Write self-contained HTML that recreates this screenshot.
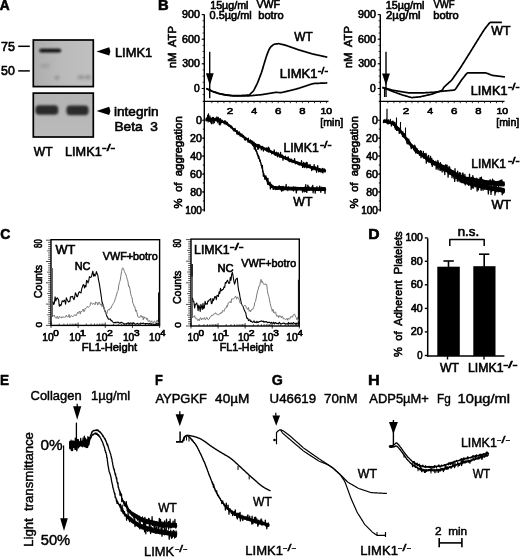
<!DOCTYPE html>
<html><head><meta charset="utf-8"><style>
html,body{margin:0;padding:0;background:#fff;}
svg{display:block;will-change:transform;filter:blur(0.3px);}
text{font-family:"Liberation Sans", sans-serif;stroke:#000;paint-order:stroke;}
</style></head><body>
<svg width="520" height="558" viewBox="0 0 520 558" font-family='"Liberation Sans", sans-serif'>
<rect width="520" height="558" fill="#fff"/>
<text x="-0.34" y="9.60" font-size="14" font-weight="bold" textLength="9.90" lengthAdjust="spacingAndGlyphs" fill="#000" stroke-width="0.6" xml:space="preserve">A</text>
<defs><filter id="bl" x="-20%" y="-80%" width="140%" height="260%"><feGaussianBlur stdDeviation="1.0"/></filter><filter id="bl2" x="-80%" y="-80%" width="260%" height="260%"><feGaussianBlur stdDeviation="1.8"/></filter><linearGradient id="g1" x1="0" y1="0" x2="1" y2="0"><stop offset="0" stop-color="#adadad"/><stop offset="0.45" stop-color="#bababa"/><stop offset="1" stop-color="#c0c0c0"/></linearGradient><linearGradient id="g2" x1="0" y1="0" x2="0" y2="1"><stop offset="0" stop-color="#b3b3b3"/><stop offset="1" stop-color="#bbbbbb"/></linearGradient></defs>
<rect x="33.3" y="40.0" width="60.0" height="46.6" fill="url(#g1)" stroke="#000" stroke-width="1.7"/>
<rect x="33.3" y="93.1" width="60.0" height="43.9" fill="url(#g2)" stroke="#000" stroke-width="1.7"/>
<g filter="url(#bl)"><rect x="39.3" y="48.7" width="21.9" height="3.8" rx="1.9" fill="#111"/></g>
<g filter="url(#bl2)" opacity="0.45"><ellipse cx="57" cy="77.8" rx="2.5" ry="2" fill="#606060"/><ellipse cx="81" cy="77.3" rx="3.5" ry="2" fill="#606060"/><ellipse cx="88" cy="77.3" rx="3" ry="2.2" fill="#606060"/><ellipse cx="45" cy="65.7" rx="5" ry="2" fill="#8a8a8a"/></g>
<g filter="url(#bl)"><rect x="35.4" y="105.3" width="22.9" height="9.4" rx="3.8" fill="#2c2c2c"/><rect x="66.4" y="105.6" width="22.2" height="9.6" rx="3.8" fill="#2c2c2c"/></g>
<text x="0.96" y="51.00" font-size="12.5" textLength="13.86" lengthAdjust="spacingAndGlyphs" fill="#000" stroke-width="0.6" xml:space="preserve">75</text>
<line x1="18.20" y1="46.30" x2="29.80" y2="46.30" stroke="#000" stroke-width="1.5"/>
<text x="1.11" y="75.30" font-size="12.5" textLength="13.67" lengthAdjust="spacingAndGlyphs" fill="#000" stroke-width="0.6" xml:space="preserve">50</text>
<line x1="18.20" y1="70.90" x2="29.80" y2="70.90" stroke="#000" stroke-width="1.5"/>
<polygon points="96.50,51.40 109.20,47.30 110.40,51.40 109.20,55.50" fill="#000"/>
<polygon points="96.50,110.90 109.20,106.80 110.40,110.90 109.20,115.00" fill="#000"/>
<text x="114.94" y="56.90" font-size="13" textLength="37.29" lengthAdjust="spacingAndGlyphs" fill="#000" stroke-width="0.6" xml:space="preserve">LIMK1</text>
<text x="113.99" y="116.10" font-size="13" textLength="44.59" lengthAdjust="spacingAndGlyphs" fill="#000" stroke-width="0.6" xml:space="preserve">integrin</text>
<text x="114.48" y="131.00" font-size="13" textLength="43.43" lengthAdjust="spacingAndGlyphs" fill="#000" stroke-width="0.6" xml:space="preserve">Beta  3</text>
<text x="33.85" y="156.00" font-size="13" textLength="18.73" lengthAdjust="spacingAndGlyphs" fill="#000" stroke-width="0.6" xml:space="preserve">WT</text>
<text x="65.06" y="156.20" font-size="13" textLength="36.66" lengthAdjust="spacingAndGlyphs" fill="#000" stroke-width="0.6" xml:space="preserve">LIMK1</text>
<text x="101.98" y="151.30" font-size="9" textLength="13.25" lengthAdjust="spacingAndGlyphs" fill="#000" stroke-width="0.6" xml:space="preserve">-/-</text>
<text x="157.91" y="9.80" font-size="14" font-weight="bold" textLength="10.66" lengthAdjust="spacingAndGlyphs" fill="#000" stroke-width="0.6" xml:space="preserve">B</text>
<line x1="204.30" y1="14.40" x2="204.30" y2="211.50" stroke="#000" stroke-width="1.4"/>
<line x1="202.30" y1="14.60" x2="204.30" y2="14.60" stroke="#000" stroke-width="1"/>
<line x1="201.70" y1="14.60" x2="204.30" y2="14.60" stroke="#000" stroke-width="1"/>
<text x="182.10" y="18.20" font-size="10.3" textLength="17.71" lengthAdjust="spacingAndGlyphs" fill="#000" stroke-width="0.6" xml:space="preserve">900</text>
<line x1="201.70" y1="39.20" x2="204.30" y2="39.20" stroke="#000" stroke-width="1"/>
<text x="182.06" y="42.80" font-size="10.3" textLength="17.76" lengthAdjust="spacingAndGlyphs" fill="#000" stroke-width="0.6" xml:space="preserve">600</text>
<line x1="201.70" y1="63.80" x2="204.30" y2="63.80" stroke="#000" stroke-width="1"/>
<text x="182.20" y="67.40" font-size="10.3" textLength="17.61" lengthAdjust="spacingAndGlyphs" fill="#000" stroke-width="0.6" xml:space="preserve">300</text>
<line x1="201.70" y1="88.50" x2="204.30" y2="88.50" stroke="#000" stroke-width="1"/>
<text x="194.10" y="92.10" font-size="10.3" textLength="5.70" lengthAdjust="spacingAndGlyphs" fill="#000" stroke-width="0.6" xml:space="preserve">0</text>
<line x1="202.60" y1="20.75" x2="204.30" y2="20.75" stroke="#000" stroke-width="0.8"/>
<line x1="202.60" y1="26.90" x2="204.30" y2="26.90" stroke="#000" stroke-width="0.8"/>
<line x1="202.60" y1="33.05" x2="204.30" y2="33.05" stroke="#000" stroke-width="0.8"/>
<line x1="202.60" y1="39.20" x2="204.30" y2="39.20" stroke="#000" stroke-width="0.8"/>
<line x1="202.60" y1="45.35" x2="204.30" y2="45.35" stroke="#000" stroke-width="0.8"/>
<line x1="202.60" y1="51.50" x2="204.30" y2="51.50" stroke="#000" stroke-width="0.8"/>
<line x1="202.60" y1="57.65" x2="204.30" y2="57.65" stroke="#000" stroke-width="0.8"/>
<line x1="202.60" y1="63.80" x2="204.30" y2="63.80" stroke="#000" stroke-width="0.8"/>
<line x1="202.60" y1="69.95" x2="204.30" y2="69.95" stroke="#000" stroke-width="0.8"/>
<line x1="202.60" y1="76.10" x2="204.30" y2="76.10" stroke="#000" stroke-width="0.8"/>
<line x1="202.60" y1="82.25" x2="204.30" y2="82.25" stroke="#000" stroke-width="0.8"/>
<line x1="202.60" y1="88.40" x2="204.30" y2="88.40" stroke="#000" stroke-width="0.8"/>
<line x1="202.60" y1="94.55" x2="204.30" y2="94.55" stroke="#000" stroke-width="0.8"/>
<line x1="202.80" y1="101.40" x2="328.50" y2="101.40" stroke="#000" stroke-width="1.3"/>
<line x1="211.84" y1="101.40" x2="211.84" y2="103.20" stroke="#000" stroke-width="0.8"/>
<line x1="217.88" y1="101.40" x2="217.88" y2="103.20" stroke="#000" stroke-width="0.8"/>
<line x1="223.91" y1="101.40" x2="223.91" y2="103.20" stroke="#000" stroke-width="0.8"/>
<line x1="229.95" y1="101.40" x2="229.95" y2="103.20" stroke="#000" stroke-width="0.8"/>
<line x1="235.99" y1="101.40" x2="235.99" y2="103.20" stroke="#000" stroke-width="0.8"/>
<line x1="242.03" y1="101.40" x2="242.03" y2="103.20" stroke="#000" stroke-width="0.8"/>
<line x1="248.06" y1="101.40" x2="248.06" y2="103.20" stroke="#000" stroke-width="0.8"/>
<line x1="254.10" y1="101.40" x2="254.10" y2="103.20" stroke="#000" stroke-width="0.8"/>
<line x1="260.14" y1="101.40" x2="260.14" y2="103.20" stroke="#000" stroke-width="0.8"/>
<line x1="266.18" y1="101.40" x2="266.18" y2="103.20" stroke="#000" stroke-width="0.8"/>
<line x1="272.21" y1="101.40" x2="272.21" y2="103.20" stroke="#000" stroke-width="0.8"/>
<line x1="278.25" y1="101.40" x2="278.25" y2="103.20" stroke="#000" stroke-width="0.8"/>
<line x1="284.29" y1="101.40" x2="284.29" y2="103.20" stroke="#000" stroke-width="0.8"/>
<line x1="290.32" y1="101.40" x2="290.32" y2="103.20" stroke="#000" stroke-width="0.8"/>
<line x1="296.36" y1="101.40" x2="296.36" y2="103.20" stroke="#000" stroke-width="0.8"/>
<line x1="302.40" y1="101.40" x2="302.40" y2="103.20" stroke="#000" stroke-width="0.8"/>
<line x1="308.44" y1="101.40" x2="308.44" y2="103.20" stroke="#000" stroke-width="0.8"/>
<line x1="314.48" y1="101.40" x2="314.48" y2="103.20" stroke="#000" stroke-width="0.8"/>
<line x1="320.51" y1="101.40" x2="320.51" y2="103.20" stroke="#000" stroke-width="0.8"/>
<line x1="326.55" y1="101.40" x2="326.55" y2="103.20" stroke="#000" stroke-width="0.8"/>
<text x="226.71" y="113.90" font-size="9.3" textLength="6.47" lengthAdjust="spacingAndGlyphs" fill="#000" stroke-width="0.6" xml:space="preserve">2</text>
<text x="251.21" y="113.90" font-size="9.3" textLength="5.85" lengthAdjust="spacingAndGlyphs" fill="#000" stroke-width="0.6" xml:space="preserve">4</text>
<text x="275.02" y="113.90" font-size="9.3" textLength="6.39" lengthAdjust="spacingAndGlyphs" fill="#000" stroke-width="0.6" xml:space="preserve">6</text>
<text x="299.26" y="113.90" font-size="9.3" textLength="6.28" lengthAdjust="spacingAndGlyphs" fill="#000" stroke-width="0.6" xml:space="preserve">8</text>
<text x="320.50" y="113.90" font-size="9.3" textLength="11.71" lengthAdjust="spacingAndGlyphs" fill="#000" stroke-width="0.6" xml:space="preserve">10</text>
<line x1="201.70" y1="120.20" x2="204.30" y2="120.20" stroke="#000" stroke-width="1"/>
<text x="195.98" y="124.00" font-size="10.6" textLength="5.93" lengthAdjust="spacingAndGlyphs" fill="#000" stroke-width="0.6" xml:space="preserve">0</text>
<line x1="201.70" y1="138.14" x2="204.30" y2="138.14" stroke="#000" stroke-width="1"/>
<text x="190.06" y="141.94" font-size="10.6" textLength="11.85" lengthAdjust="spacingAndGlyphs" fill="#000" stroke-width="0.6" xml:space="preserve">20</text>
<line x1="201.70" y1="156.08" x2="204.30" y2="156.08" stroke="#000" stroke-width="1"/>
<text x="190.36" y="159.88" font-size="10.6" textLength="11.54" lengthAdjust="spacingAndGlyphs" fill="#000" stroke-width="0.6" xml:space="preserve">40</text>
<line x1="201.70" y1="174.02" x2="204.30" y2="174.02" stroke="#000" stroke-width="1"/>
<text x="190.06" y="177.82" font-size="10.6" textLength="11.86" lengthAdjust="spacingAndGlyphs" fill="#000" stroke-width="0.6" xml:space="preserve">60</text>
<line x1="201.70" y1="191.96" x2="204.30" y2="191.96" stroke="#000" stroke-width="1"/>
<text x="190.14" y="195.76" font-size="10.6" textLength="11.77" lengthAdjust="spacingAndGlyphs" fill="#000" stroke-width="0.6" xml:space="preserve">80</text>
<line x1="201.70" y1="209.90" x2="204.30" y2="209.90" stroke="#000" stroke-width="1"/>
<text x="185.13" y="213.70" font-size="10.6" textLength="16.76" lengthAdjust="spacingAndGlyphs" fill="#000" stroke-width="0.6" xml:space="preserve">100</text>
<line x1="202.80" y1="129.17" x2="204.30" y2="129.17" stroke="#000" stroke-width="0.9"/>
<line x1="202.80" y1="138.14" x2="204.30" y2="138.14" stroke="#000" stroke-width="0.9"/>
<line x1="202.80" y1="147.11" x2="204.30" y2="147.11" stroke="#000" stroke-width="0.9"/>
<line x1="202.80" y1="156.08" x2="204.30" y2="156.08" stroke="#000" stroke-width="0.9"/>
<line x1="202.80" y1="165.05" x2="204.30" y2="165.05" stroke="#000" stroke-width="0.9"/>
<line x1="202.80" y1="174.02" x2="204.30" y2="174.02" stroke="#000" stroke-width="0.9"/>
<line x1="202.80" y1="182.99" x2="204.30" y2="182.99" stroke="#000" stroke-width="0.9"/>
<line x1="202.80" y1="191.96" x2="204.30" y2="191.96" stroke="#000" stroke-width="0.9"/>
<line x1="202.80" y1="200.93" x2="204.30" y2="200.93" stroke="#000" stroke-width="0.9"/>
<text transform="translate(176.40,67.20) rotate(-90)" x="-0.71" y="0" font-size="10.3" textLength="41.68" lengthAdjust="spacingAndGlyphs" fill="#000" stroke-width="0.6" xml:space="preserve">nM  ATP</text>
<text transform="translate(181.80,208.00) rotate(-90)" x="-0.40" y="0" font-size="10.3" textLength="92.14" lengthAdjust="spacingAndGlyphs" fill="#000" stroke-width="0.6" xml:space="preserve">%  of  aggregation</text>
<line x1="380.30" y1="14.40" x2="380.30" y2="211.50" stroke="#000" stroke-width="1.4"/>
<line x1="378.30" y1="14.60" x2="380.30" y2="14.60" stroke="#000" stroke-width="1"/>
<line x1="377.70" y1="14.60" x2="380.30" y2="14.60" stroke="#000" stroke-width="1"/>
<text x="358.10" y="18.20" font-size="10.3" textLength="17.71" lengthAdjust="spacingAndGlyphs" fill="#000" stroke-width="0.6" xml:space="preserve">900</text>
<line x1="377.70" y1="39.20" x2="380.30" y2="39.20" stroke="#000" stroke-width="1"/>
<text x="358.06" y="42.80" font-size="10.3" textLength="17.76" lengthAdjust="spacingAndGlyphs" fill="#000" stroke-width="0.6" xml:space="preserve">600</text>
<line x1="377.70" y1="63.80" x2="380.30" y2="63.80" stroke="#000" stroke-width="1"/>
<text x="358.20" y="67.40" font-size="10.3" textLength="17.61" lengthAdjust="spacingAndGlyphs" fill="#000" stroke-width="0.6" xml:space="preserve">300</text>
<line x1="377.70" y1="88.50" x2="380.30" y2="88.50" stroke="#000" stroke-width="1"/>
<text x="370.10" y="92.10" font-size="10.3" textLength="5.70" lengthAdjust="spacingAndGlyphs" fill="#000" stroke-width="0.6" xml:space="preserve">0</text>
<line x1="378.60" y1="20.75" x2="380.30" y2="20.75" stroke="#000" stroke-width="0.8"/>
<line x1="378.60" y1="26.90" x2="380.30" y2="26.90" stroke="#000" stroke-width="0.8"/>
<line x1="378.60" y1="33.05" x2="380.30" y2="33.05" stroke="#000" stroke-width="0.8"/>
<line x1="378.60" y1="39.20" x2="380.30" y2="39.20" stroke="#000" stroke-width="0.8"/>
<line x1="378.60" y1="45.35" x2="380.30" y2="45.35" stroke="#000" stroke-width="0.8"/>
<line x1="378.60" y1="51.50" x2="380.30" y2="51.50" stroke="#000" stroke-width="0.8"/>
<line x1="378.60" y1="57.65" x2="380.30" y2="57.65" stroke="#000" stroke-width="0.8"/>
<line x1="378.60" y1="63.80" x2="380.30" y2="63.80" stroke="#000" stroke-width="0.8"/>
<line x1="378.60" y1="69.95" x2="380.30" y2="69.95" stroke="#000" stroke-width="0.8"/>
<line x1="378.60" y1="76.10" x2="380.30" y2="76.10" stroke="#000" stroke-width="0.8"/>
<line x1="378.60" y1="82.25" x2="380.30" y2="82.25" stroke="#000" stroke-width="0.8"/>
<line x1="378.60" y1="88.40" x2="380.30" y2="88.40" stroke="#000" stroke-width="0.8"/>
<line x1="378.60" y1="94.55" x2="380.30" y2="94.55" stroke="#000" stroke-width="0.8"/>
<line x1="378.80" y1="101.40" x2="504.50" y2="101.40" stroke="#000" stroke-width="1.3"/>
<line x1="387.84" y1="101.40" x2="387.84" y2="103.20" stroke="#000" stroke-width="0.8"/>
<line x1="393.88" y1="101.40" x2="393.88" y2="103.20" stroke="#000" stroke-width="0.8"/>
<line x1="399.91" y1="101.40" x2="399.91" y2="103.20" stroke="#000" stroke-width="0.8"/>
<line x1="405.95" y1="101.40" x2="405.95" y2="103.20" stroke="#000" stroke-width="0.8"/>
<line x1="411.99" y1="101.40" x2="411.99" y2="103.20" stroke="#000" stroke-width="0.8"/>
<line x1="418.02" y1="101.40" x2="418.02" y2="103.20" stroke="#000" stroke-width="0.8"/>
<line x1="424.06" y1="101.40" x2="424.06" y2="103.20" stroke="#000" stroke-width="0.8"/>
<line x1="430.10" y1="101.40" x2="430.10" y2="103.20" stroke="#000" stroke-width="0.8"/>
<line x1="436.14" y1="101.40" x2="436.14" y2="103.20" stroke="#000" stroke-width="0.8"/>
<line x1="442.18" y1="101.40" x2="442.18" y2="103.20" stroke="#000" stroke-width="0.8"/>
<line x1="448.21" y1="101.40" x2="448.21" y2="103.20" stroke="#000" stroke-width="0.8"/>
<line x1="454.25" y1="101.40" x2="454.25" y2="103.20" stroke="#000" stroke-width="0.8"/>
<line x1="460.29" y1="101.40" x2="460.29" y2="103.20" stroke="#000" stroke-width="0.8"/>
<line x1="466.32" y1="101.40" x2="466.32" y2="103.20" stroke="#000" stroke-width="0.8"/>
<line x1="472.36" y1="101.40" x2="472.36" y2="103.20" stroke="#000" stroke-width="0.8"/>
<line x1="478.40" y1="101.40" x2="478.40" y2="103.20" stroke="#000" stroke-width="0.8"/>
<line x1="484.44" y1="101.40" x2="484.44" y2="103.20" stroke="#000" stroke-width="0.8"/>
<line x1="490.48" y1="101.40" x2="490.48" y2="103.20" stroke="#000" stroke-width="0.8"/>
<line x1="496.51" y1="101.40" x2="496.51" y2="103.20" stroke="#000" stroke-width="0.8"/>
<line x1="502.55" y1="101.40" x2="502.55" y2="103.20" stroke="#000" stroke-width="0.8"/>
<text x="402.71" y="113.90" font-size="9.3" textLength="6.47" lengthAdjust="spacingAndGlyphs" fill="#000" stroke-width="0.6" xml:space="preserve">2</text>
<text x="427.21" y="113.90" font-size="9.3" textLength="5.85" lengthAdjust="spacingAndGlyphs" fill="#000" stroke-width="0.6" xml:space="preserve">4</text>
<text x="451.02" y="113.90" font-size="9.3" textLength="6.39" lengthAdjust="spacingAndGlyphs" fill="#000" stroke-width="0.6" xml:space="preserve">6</text>
<text x="475.26" y="113.90" font-size="9.3" textLength="6.28" lengthAdjust="spacingAndGlyphs" fill="#000" stroke-width="0.6" xml:space="preserve">8</text>
<text x="496.50" y="113.90" font-size="9.3" textLength="11.71" lengthAdjust="spacingAndGlyphs" fill="#000" stroke-width="0.6" xml:space="preserve">10</text>
<line x1="377.70" y1="120.20" x2="380.30" y2="120.20" stroke="#000" stroke-width="1"/>
<text x="371.98" y="124.00" font-size="10.6" textLength="5.93" lengthAdjust="spacingAndGlyphs" fill="#000" stroke-width="0.6" xml:space="preserve">0</text>
<line x1="377.70" y1="138.14" x2="380.30" y2="138.14" stroke="#000" stroke-width="1"/>
<text x="366.06" y="141.94" font-size="10.6" textLength="11.85" lengthAdjust="spacingAndGlyphs" fill="#000" stroke-width="0.6" xml:space="preserve">20</text>
<line x1="377.70" y1="156.08" x2="380.30" y2="156.08" stroke="#000" stroke-width="1"/>
<text x="366.36" y="159.88" font-size="10.6" textLength="11.54" lengthAdjust="spacingAndGlyphs" fill="#000" stroke-width="0.6" xml:space="preserve">40</text>
<line x1="377.70" y1="174.02" x2="380.30" y2="174.02" stroke="#000" stroke-width="1"/>
<text x="366.06" y="177.82" font-size="10.6" textLength="11.86" lengthAdjust="spacingAndGlyphs" fill="#000" stroke-width="0.6" xml:space="preserve">60</text>
<line x1="377.70" y1="191.96" x2="380.30" y2="191.96" stroke="#000" stroke-width="1"/>
<text x="366.14" y="195.76" font-size="10.6" textLength="11.77" lengthAdjust="spacingAndGlyphs" fill="#000" stroke-width="0.6" xml:space="preserve">80</text>
<line x1="377.70" y1="209.90" x2="380.30" y2="209.90" stroke="#000" stroke-width="1"/>
<text x="361.13" y="213.70" font-size="10.6" textLength="16.76" lengthAdjust="spacingAndGlyphs" fill="#000" stroke-width="0.6" xml:space="preserve">100</text>
<line x1="378.80" y1="129.17" x2="380.30" y2="129.17" stroke="#000" stroke-width="0.9"/>
<line x1="378.80" y1="138.14" x2="380.30" y2="138.14" stroke="#000" stroke-width="0.9"/>
<line x1="378.80" y1="147.11" x2="380.30" y2="147.11" stroke="#000" stroke-width="0.9"/>
<line x1="378.80" y1="156.08" x2="380.30" y2="156.08" stroke="#000" stroke-width="0.9"/>
<line x1="378.80" y1="165.05" x2="380.30" y2="165.05" stroke="#000" stroke-width="0.9"/>
<line x1="378.80" y1="174.02" x2="380.30" y2="174.02" stroke="#000" stroke-width="0.9"/>
<line x1="378.80" y1="182.99" x2="380.30" y2="182.99" stroke="#000" stroke-width="0.9"/>
<line x1="378.80" y1="191.96" x2="380.30" y2="191.96" stroke="#000" stroke-width="0.9"/>
<line x1="378.80" y1="200.93" x2="380.30" y2="200.93" stroke="#000" stroke-width="0.9"/>
<text transform="translate(352.40,67.20) rotate(-90)" x="-0.71" y="0" font-size="10.3" textLength="41.68" lengthAdjust="spacingAndGlyphs" fill="#000" stroke-width="0.6" xml:space="preserve">nM  ATP</text>
<text transform="translate(357.80,208.00) rotate(-90)" x="-0.40" y="0" font-size="10.3" textLength="92.14" lengthAdjust="spacingAndGlyphs" fill="#000" stroke-width="0.6" xml:space="preserve">%  of  aggregation</text>
<text x="320.24" y="126.30" font-size="10.3" textLength="23.01" lengthAdjust="spacingAndGlyphs" fill="#000" stroke-width="0.6" xml:space="preserve">[min]</text>
<text x="496.24" y="126.30" font-size="10.3" textLength="23.01" lengthAdjust="spacingAndGlyphs" fill="#000" stroke-width="0.6" xml:space="preserve">[min]</text>
<text x="210.18" y="8.80" font-size="10.5" textLength="38.33" lengthAdjust="spacingAndGlyphs" fill="#000" stroke-width="0.6" xml:space="preserve">15µg/ml</text>
<text x="209.57" y="19.20" font-size="10.5" textLength="42.16" lengthAdjust="spacingAndGlyphs" fill="#000" stroke-width="0.6" xml:space="preserve">0.5µg/ml</text>
<text x="256.45" y="8.40" font-size="10.5" textLength="23.57" lengthAdjust="spacingAndGlyphs" fill="#000" stroke-width="0.6" xml:space="preserve">VWF</text>
<text x="258.29" y="19.10" font-size="10.5" textLength="25.28" lengthAdjust="spacingAndGlyphs" fill="#000" stroke-width="0.6" xml:space="preserve">botro</text>
<text x="385.77" y="8.60" font-size="10.5" textLength="38.75" lengthAdjust="spacingAndGlyphs" fill="#000" stroke-width="0.6" xml:space="preserve">15µg/ml</text>
<text x="386.03" y="19.20" font-size="10.5" textLength="34.44" lengthAdjust="spacingAndGlyphs" fill="#000" stroke-width="0.6" xml:space="preserve">2µg/ml</text>
<text x="433.46" y="8.40" font-size="10.5" textLength="21.22" lengthAdjust="spacingAndGlyphs" fill="#000" stroke-width="0.6" xml:space="preserve">VWF</text>
<text x="433.28" y="19.10" font-size="10.5" textLength="25.39" lengthAdjust="spacingAndGlyphs" fill="#000" stroke-width="0.6" xml:space="preserve">botro</text>
<line x1="209.70" y1="51.80" x2="209.70" y2="98.30" stroke="#000" stroke-width="1.4"/>
<polygon points="205.90,73.20 213.70,73.20 209.80,85.50" fill="#000"/>
<line x1="386.00" y1="51.80" x2="386.00" y2="97.00" stroke="#000" stroke-width="1.4"/>
<polygon points="382.10,73.40 389.90,73.40 386.00,85.50" fill="#000"/>
<polyline points="206.30,88.66 206.80,88.78 207.30,88.96 207.80,89.19 208.30,89.43 208.80,89.67 209.30,89.90 209.80,90.14 210.30,90.38 210.80,90.61 211.30,90.85 211.80,91.08 212.30,91.29 212.80,91.48 213.30,91.66 213.80,91.82 214.30,91.99 214.80,92.16 215.30,92.33 215.80,92.50 216.30,92.67 216.80,92.84 217.30,93.01 217.80,93.18 218.30,93.34 218.80,93.48 219.30,93.60 219.80,93.71 220.30,93.81 220.80,93.91 221.30,94.01 221.80,94.11 222.30,94.21 222.80,94.31 223.30,94.41 223.80,94.51 224.30,94.61 224.80,94.70 225.30,94.79 225.80,94.86 226.30,94.92 226.80,94.98 227.30,95.03 227.80,95.09 228.30,95.15 228.80,95.21 229.30,95.26 229.80,95.32 230.30,95.38 230.80,95.43 231.30,95.49 231.80,95.54 232.30,95.57 232.80,95.59 233.30,95.60 233.80,95.60 234.30,95.60 234.80,95.60 235.30,95.60 235.80,95.60 236.30,95.60 236.80,95.60 237.30,95.60 237.80,95.60 238.30,95.60 238.80,95.60 239.30,95.60 239.80,95.59 240.30,95.58 240.80,95.56 241.30,95.53 241.80,95.50 242.30,95.46 242.80,95.43 243.30,95.40 243.80,95.36 244.30,95.33 244.80,95.30 245.30,95.26 245.80,95.23 246.30,95.20 246.80,95.16 247.30,95.13 247.80,95.10 248.30,95.06 248.80,94.96 249.30,94.75 249.80,94.42 250.30,93.97 250.80,93.48 251.30,93.00 251.80,92.51 252.30,92.02 252.80,91.53 253.30,90.96 253.80,90.26 254.30,89.42 254.80,88.45 255.30,87.42 255.80,86.40 256.30,85.37 256.80,84.35 257.30,83.28 257.80,82.13 258.30,80.92 258.80,79.62 259.30,78.30 259.80,76.98 260.30,75.66 260.80,74.34 261.30,73.00 261.80,71.55 262.30,70.00 262.80,68.34 263.30,66.60 263.80,64.86 264.30,63.16 264.80,61.50 265.30,59.88 265.80,58.32 266.30,56.76 266.80,55.26 267.30,53.87 267.80,52.57 268.30,51.38 268.80,50.22 269.30,49.14 269.80,48.23 270.30,47.49 270.80,46.92 271.30,46.46 271.80,46.00 272.30,45.54 272.80,45.08 273.30,44.70 273.80,44.42 274.30,44.23 274.80,44.14 275.30,44.07 275.80,44.00 276.30,43.94 276.80,43.87 277.30,43.80 277.80,43.73 278.30,43.69 278.80,43.70 279.30,43.75 279.80,43.85 280.30,43.97 280.80,44.09 281.30,44.21 281.80,44.33 282.30,44.45 282.80,44.57 283.30,44.69 283.80,44.81 284.30,44.93 284.80,45.05 285.30,45.18 285.80,45.33 286.30,45.50 286.80,45.67 287.30,45.85 287.80,46.02 288.30,46.20 288.80,46.38 289.30,46.55 289.80,46.73 290.30,46.90 290.80,47.08 291.30,47.25 291.80,47.43 292.30,47.60 292.80,47.78 293.30,47.95 293.80,48.13 294.30,48.30 294.80,48.48 295.30,48.65 295.80,48.83 296.30,49.01 296.80,49.18 297.30,49.36 297.80,49.53 298.30,49.70 298.80,49.87 299.30,50.03 299.80,50.18 300.30,50.33 300.80,50.48 301.30,50.63 301.80,50.77 302.30,50.92 302.80,51.07 303.30,51.22 303.80,51.37 304.30,51.51 304.80,51.66 305.30,51.81 305.80,51.96 306.30,52.11 306.80,52.26 307.30,52.40 307.80,52.55 308.30,52.70 308.80,52.85 309.30,53.00 309.80,53.14 310.30,53.29 310.80,53.44 311.30,53.59 311.80,53.73 312.30,53.87 312.80,53.99 313.30,54.11 313.80,54.22 314.30,54.33 314.80,54.44 315.30,54.55 315.80,54.66 316.30,54.77 316.80,54.88 317.30,54.99 317.80,55.10 318.30,55.21 318.80,55.31 319.30,55.42 319.80,55.53 320.30,55.64 320.80,55.75 321.30,55.86 321.80,55.97 322.30,56.08 322.80,56.19 323.30,56.30 323.80,56.41 324.30,56.52 324.80,56.63 325.30,56.74 325.80,56.85 326.30,56.96 326.80,57.07 327.30,57.15" fill="none" stroke="#000" stroke-width="1.7" stroke-linejoin="round"/>
<polyline points="206.30,88.66 206.80,88.78 207.30,88.96 207.80,89.19 208.30,89.43 208.80,89.67 209.30,89.90 209.80,90.14 210.30,90.38 210.80,90.61 211.30,90.85 211.80,91.08 212.30,91.29 212.80,91.48 213.30,91.66 213.80,91.82 214.30,91.99 214.80,92.16 215.30,92.33 215.80,92.50 216.30,92.67 216.80,92.84 217.30,93.01 217.80,93.18 218.30,93.34 218.80,93.49 219.30,93.62 219.80,93.74 220.30,93.86 220.80,93.97 221.30,94.09 221.80,94.20 222.30,94.32 222.80,94.43 223.30,94.55 223.80,94.67 224.30,94.78 224.80,94.89 225.30,94.98 225.80,95.06 226.30,95.12 226.80,95.18 227.30,95.23 227.80,95.29 228.30,95.35 228.80,95.41 229.30,95.46 229.80,95.52 230.30,95.58 230.80,95.63 231.30,95.69 231.80,95.74 232.30,95.77 232.80,95.79 233.30,95.80 233.80,95.80 234.30,95.80 234.80,95.80 235.30,95.80 235.80,95.80 236.30,95.80 236.80,95.80 237.30,95.80 237.80,95.80 238.30,95.80 238.80,95.80 239.30,95.80 239.80,95.80 240.30,95.80 240.80,95.80 241.30,95.80 241.80,95.80 242.30,95.80 242.80,95.80 243.30,95.80 243.80,95.80 244.30,95.80 244.80,95.80 245.30,95.80 245.80,95.80 246.30,95.80 246.80,95.80 247.30,95.80 247.80,95.80 248.30,95.80 248.80,95.80 249.30,95.79 249.80,95.77 250.30,95.74 250.80,95.69 251.30,95.64 251.80,95.60 252.30,95.55 252.80,95.50 253.30,95.45 253.80,95.40 254.30,95.36 254.80,95.31 255.30,95.26 255.80,95.21 256.30,95.17 256.80,95.12 257.30,95.07 257.80,95.02 258.30,94.98 258.80,94.93 259.30,94.88 259.80,94.83 260.30,94.79 260.80,94.74 261.30,94.69 261.80,94.64 262.30,94.57 262.80,94.50 263.30,94.42 263.80,94.34 264.30,94.25 264.80,94.17 265.30,94.08 265.80,94.00 266.30,93.91 266.80,93.83 267.30,93.75 267.80,93.66 268.30,93.58 268.80,93.49 269.30,93.41 269.80,93.32 270.30,93.24 270.80,93.15 271.30,93.07 271.80,92.98 272.30,92.90 272.80,92.81 273.30,92.73 273.80,92.65 274.30,92.56 274.80,92.49 275.30,92.45 275.80,92.43 276.30,92.43 276.80,92.45 277.30,92.47 277.80,92.48 278.30,92.50 278.80,92.51 279.30,92.53 279.80,92.55 280.30,92.56 280.80,92.57 281.30,92.55 281.80,92.49 282.30,92.40 282.80,92.28 283.30,92.16 283.80,92.04 284.30,91.92 284.80,91.80 285.30,91.68 285.80,91.56 286.30,91.44 286.80,91.32 287.30,91.20 287.80,91.08 288.30,90.97 288.80,90.85 289.30,90.73 289.80,90.61 290.30,90.48 290.80,90.36 291.30,90.23 291.80,90.10 292.30,89.98 292.80,89.85 293.30,89.72 293.80,89.59 294.30,89.46 294.80,89.34 295.30,89.21 295.80,89.08 296.30,88.95 296.80,88.82 297.30,88.70 297.80,88.57 298.30,88.44 298.80,88.29 299.30,88.14 299.80,87.98 300.30,87.81 300.80,87.64 301.30,87.48 301.80,87.31 302.30,87.14 302.80,86.97 303.30,86.80 303.80,86.64 304.30,86.47 304.80,86.30 305.30,86.13 305.80,85.96 306.30,85.80 306.80,85.63 307.30,85.46 307.80,85.29 308.30,85.12 308.80,84.96 309.30,84.79 309.80,84.62 310.30,84.45 310.80,84.29 311.30,84.14 311.80,84.01 312.30,83.88 312.80,83.75 313.30,83.63 313.80,83.55 314.30,83.49 314.80,83.46 315.30,83.43 315.80,83.41 316.30,83.39 316.80,83.37 317.30,83.35 317.80,83.33 318.30,83.31 318.80,83.29 319.30,83.26 319.80,83.24 320.30,83.22 320.80,83.20 321.30,83.18 321.80,83.16 322.30,83.14 322.80,83.11 323.30,83.09 323.80,83.07 324.30,83.05 324.80,83.03 325.30,83.01 325.80,82.99 326.30,82.97 326.80,82.94 327.30,82.93" fill="none" stroke="#000" stroke-width="1.7" stroke-linejoin="round"/>
<polygon points="206.00,118.00 206.35,118.01 206.70,118.01 207.05,118.02 207.40,118.03 207.75,118.03 208.10,118.04 208.45,118.05 208.80,118.05 209.15,118.06 209.50,118.07 209.85,118.07 210.20,118.08 210.55,118.09 210.90,118.09 211.25,118.10 211.60,118.11 211.95,118.11 212.30,118.12 212.65,118.13 213.00,118.13 213.35,118.14 213.70,118.15 214.05,118.15 214.40,118.16 214.75,118.17 215.10,118.17 215.45,118.18 215.80,118.19 216.15,118.22 216.50,118.27 216.85,118.34 217.20,118.44 217.55,118.56 217.90,118.68 218.25,118.80 218.60,118.91 218.95,119.03 219.30,119.15 219.65,119.27 220.00,119.39 220.35,119.51 220.70,119.63 221.05,119.75 221.40,119.87 221.75,119.99 222.10,120.71 222.45,120.83 222.80,120.94 223.15,121.06 223.50,121.18 223.85,121.30 224.20,121.42 224.55,121.54 224.90,121.66 225.25,121.78 225.60,121.94 225.95,122.13 226.30,122.36 226.65,122.62 227.00,122.90 227.35,123.19 227.70,123.48 228.05,123.77 228.40,124.06 228.75,124.34 229.10,124.63 229.45,124.92 229.80,125.21 230.15,125.50 230.50,125.78 230.85,126.07 231.20,126.36 231.55,126.65 231.90,126.93 232.25,127.22 232.60,127.51 232.95,127.80 233.30,128.09 233.65,128.37 234.00,128.66 234.35,128.95 234.70,129.24 235.05,129.53 235.40,129.81 235.75,130.10 236.10,130.39 236.45,130.66 236.80,130.94 237.15,131.20 237.50,131.47 237.85,131.73 238.20,131.99 238.55,132.24 238.90,132.50 239.25,132.76 239.60,133.02 239.95,133.28 240.30,133.54 240.65,133.80 241.00,134.06 241.35,134.32 241.70,134.58 242.05,134.84 242.40,135.10 242.75,135.36 243.10,135.61 243.45,135.87 243.80,136.13 244.15,136.39 244.50,136.65 244.85,136.91 245.20,137.17 245.55,137.43 245.90,137.69 246.25,137.95 246.60,138.21 246.95,138.47 247.30,138.73 247.65,138.99 248.00,139.24 248.35,139.50 248.70,139.76 249.05,140.02 249.40,140.28 249.75,140.53 250.10,140.07 250.45,140.30 250.80,140.51 251.15,140.72 251.50,140.93 251.85,141.14 252.20,141.34 252.55,141.55 252.90,141.76 253.25,141.96 253.60,142.17 253.95,142.38 254.30,142.59 254.65,142.78 255.00,142.97 255.35,143.15 255.70,143.32 256.05,143.48 256.40,143.63 256.75,143.79 257.10,143.95 257.45,144.11 257.80,144.27 258.15,144.43 258.50,144.59 258.85,144.75 259.20,144.90 259.55,145.06 259.90,145.22 260.25,145.38 260.60,145.54 260.95,145.70 261.30,145.86 261.65,146.02 262.00,146.17 262.35,146.33 262.70,146.49 263.05,146.65 263.40,146.81 263.75,146.97 264.10,147.12 264.45,147.28 264.80,147.44 265.15,147.59 265.50,147.75 265.85,147.91 266.20,148.07 266.55,148.22 266.90,148.38 267.25,148.54 267.60,148.69 267.95,148.85 268.30,149.01 268.65,149.16 269.00,149.32 269.35,149.48 269.70,149.63 270.05,149.79 270.40,149.95 270.75,150.11 271.10,150.26 271.45,150.42 271.80,150.58 272.15,150.73 272.50,150.89 272.85,151.05 273.20,151.21 273.55,151.36 273.90,151.52 274.25,151.68 274.60,151.84 274.95,151.99 275.30,152.15 275.65,152.31 276.00,152.47 276.35,152.63 276.70,152.78 277.05,152.94 277.40,153.10 277.75,153.26 278.10,153.42 278.45,153.57 278.80,153.73 279.15,153.89 279.50,154.05 279.85,154.20 280.20,154.36 280.55,154.52 280.90,154.68 281.25,154.84 281.60,154.99 281.95,155.15 282.30,155.31 282.65,155.47 283.00,155.62 283.35,155.78 283.70,155.94 284.05,156.10 284.40,156.26 284.75,156.41 285.10,156.57 285.45,156.73 285.80,156.89 286.15,157.04 286.50,157.20 286.85,157.36 287.20,157.52 287.55,157.68 287.90,157.83 288.25,157.99 288.60,158.15 288.95,158.31 289.30,158.46 289.65,158.60 290.00,158.73 290.35,158.86 290.70,158.98 291.05,159.10 291.40,159.22 291.75,159.35 292.10,159.47 292.45,159.59 292.80,159.71 293.15,159.83 293.50,159.95 293.85,160.07 294.20,160.20 294.55,160.32 294.90,160.44 295.25,160.56 295.60,160.68 295.95,160.80 296.30,160.92 296.65,161.05 297.00,161.17 297.35,161.29 297.70,161.41 298.05,161.53 298.40,161.65 298.75,161.77 299.10,161.89 299.45,162.02 299.80,162.14 300.15,162.26 300.50,162.38 300.85,162.50 301.20,162.62 301.55,162.74 301.90,162.87 302.25,162.99 302.60,163.11 302.95,163.23 303.30,163.35 303.65,163.47 304.00,163.59 304.35,163.72 304.70,163.84 305.05,163.96 305.40,164.08 305.75,164.20 306.10,164.32 306.45,164.44 306.80,164.55 307.15,164.66 307.50,164.76 307.85,164.86 308.20,164.95 308.55,165.05 308.90,165.14 309.25,165.24 309.60,165.33 309.95,165.43 310.30,165.52 310.65,165.62 311.00,165.71 311.35,165.81 311.70,165.90 312.05,166.00 312.40,166.09 312.75,166.19 313.10,166.28 313.45,166.38 313.80,166.47 314.15,166.57 314.50,166.66 314.85,166.76 315.20,166.85 315.55,166.95 315.90,167.05 316.25,167.14 316.60,167.24 316.95,167.33 317.30,167.43 317.65,167.52 318.00,167.62 318.35,167.71 318.70,167.81 319.05,167.90 319.40,168.00 319.75,168.09 320.10,168.19 320.45,168.28 320.80,168.38 321.15,168.47 321.50,168.57 321.85,168.66 322.20,168.76 322.55,168.85 322.90,168.95 323.25,169.04 323.60,169.14 323.95,169.23 324.30,169.31 324.65,169.40 325.00,169.48 325.35,169.54 325.70,169.59 325.70,172.59 325.35,172.54 325.00,172.48 324.65,172.40 324.30,172.31 323.95,172.23 323.60,172.14 323.25,172.04 322.90,171.95 322.55,171.85 322.20,171.76 321.85,171.66 321.50,171.57 321.15,171.47 320.80,171.38 320.45,171.28 320.10,171.19 319.75,171.09 319.40,171.00 319.05,170.90 318.70,170.81 318.35,170.71 318.00,170.62 317.65,170.52 317.30,170.43 316.95,170.33 316.60,170.24 316.25,170.14 315.90,170.05 315.55,169.95 315.20,169.85 314.85,169.76 314.50,169.66 314.15,169.57 313.80,169.47 313.45,169.38 313.10,169.28 312.75,169.19 312.40,169.09 312.05,169.00 311.70,168.90 311.35,168.81 311.00,168.71 310.65,168.62 310.30,168.52 309.95,168.43 309.60,168.33 309.25,168.24 308.90,168.14 308.55,168.05 308.20,167.95 307.85,167.86 307.50,167.76 307.15,167.66 306.80,167.55 306.45,167.44 306.10,167.32 305.75,167.20 305.40,167.08 305.05,166.96 304.70,166.84 304.35,166.72 304.00,166.59 303.65,166.47 303.30,166.35 302.95,166.23 302.60,166.11 302.25,165.99 301.90,165.87 301.55,165.74 301.20,165.62 300.85,165.50 300.50,165.38 300.15,165.26 299.80,165.14 299.45,165.02 299.10,164.89 298.75,164.77 298.40,164.65 298.05,164.53 297.70,164.41 297.35,164.29 297.00,164.17 296.65,164.05 296.30,163.92 295.95,163.80 295.60,163.68 295.25,163.56 294.90,163.44 294.55,163.32 294.20,163.20 293.85,163.07 293.50,162.95 293.15,162.83 292.80,162.71 292.45,162.59 292.10,162.47 291.75,162.35 291.40,162.22 291.05,162.10 290.70,161.98 290.35,161.86 290.00,161.73 289.65,161.60 289.30,161.46 288.95,161.31 288.60,161.15 288.25,160.99 287.90,160.83 287.55,160.68 287.20,160.52 286.85,160.36 286.50,160.20 286.15,160.04 285.80,159.89 285.45,159.73 285.10,159.57 284.75,159.41 284.40,159.26 284.05,159.10 283.70,158.94 283.35,158.78 283.00,158.62 282.65,158.47 282.30,158.31 281.95,158.15 281.60,157.99 281.25,157.84 280.90,157.68 280.55,157.52 280.20,157.36 279.85,157.20 279.50,157.05 279.15,156.89 278.80,156.73 278.45,156.57 278.10,156.42 277.75,156.26 277.40,156.10 277.05,155.94 276.70,155.78 276.35,155.63 276.00,155.47 275.65,155.31 275.30,155.15 274.95,154.99 274.60,154.84 274.25,154.68 273.90,154.52 273.55,154.36 273.20,154.21 272.85,154.05 272.50,153.89 272.15,153.73 271.80,153.58 271.45,153.42 271.10,153.26 270.75,153.11 270.40,152.95 270.05,152.79 269.70,152.63 269.35,152.48 269.00,152.32 268.65,152.16 268.30,152.01 267.95,151.85 267.60,151.69 267.25,151.54 266.90,151.38 266.55,151.22 266.20,151.07 265.85,150.91 265.50,150.75 265.15,150.59 264.80,150.44 264.45,150.28 264.10,150.12 263.75,149.97 263.40,149.81 263.05,149.65 262.70,149.49 262.35,149.33 262.00,149.17 261.65,149.02 261.30,148.86 260.95,148.70 260.60,148.54 260.25,148.38 259.90,148.22 259.55,148.06 259.20,147.90 258.85,147.75 258.50,147.59 258.15,147.43 257.80,147.27 257.45,147.11 257.10,146.95 256.75,146.79 256.40,146.63 256.05,146.48 255.70,146.32 255.35,146.15 255.00,145.97 254.65,145.78 254.30,145.59 253.95,145.38 253.60,145.17 253.25,144.96 252.90,144.76 252.55,144.55 252.20,144.34 251.85,144.14 251.50,143.93 251.15,143.72 250.80,143.51 250.45,143.30 250.10,143.07 249.75,142.13 249.40,141.88 249.05,141.62 248.70,141.36 248.35,141.10 248.00,140.84 247.65,140.59 247.30,140.33 246.95,140.07 246.60,139.81 246.25,139.55 245.90,139.29 245.55,139.03 245.20,138.77 244.85,138.51 244.50,138.25 244.15,137.99 243.80,137.73 243.45,137.47 243.10,137.21 242.75,136.96 242.40,136.70 242.05,136.44 241.70,136.18 241.35,135.92 241.00,135.66 240.65,135.40 240.30,135.14 239.95,134.88 239.60,134.62 239.25,134.36 238.90,134.10 238.55,133.84 238.20,133.59 237.85,133.33 237.50,133.07 237.15,132.80 236.80,132.54 236.45,132.26 236.10,131.99 235.75,131.70 235.40,131.41 235.05,131.13 234.70,130.84 234.35,130.55 234.00,130.26 233.65,129.97 233.30,129.69 232.95,129.40 232.60,129.11 232.25,128.82 231.90,128.53 231.55,128.25 231.20,127.96 230.85,127.67 230.50,127.38 230.15,127.10 229.80,126.81 229.45,126.52 229.10,126.23 228.75,125.94 228.40,125.66 228.05,125.37 227.70,125.08 227.35,124.79 227.00,124.50 226.65,124.22 226.30,123.96 225.95,123.73 225.60,123.54 225.25,123.38 224.90,123.26 224.55,123.14 224.20,123.02 223.85,122.90 223.50,122.78 223.15,122.66 222.80,122.54 222.45,122.43 222.10,122.31 221.75,122.79 221.40,122.67 221.05,122.55 220.70,122.43 220.35,122.31 220.00,122.19 219.65,122.07 219.30,121.95 218.95,121.83 218.60,121.71 218.25,121.60 217.90,121.48 217.55,121.36 217.20,121.24 216.85,121.14 216.50,121.07 216.15,121.02 215.80,120.99 215.45,120.98 215.10,120.97 214.75,120.97 214.40,120.96 214.05,120.95 213.70,120.95 213.35,120.94 213.00,120.93 212.65,120.93 212.30,120.92 211.95,120.91 211.60,120.91 211.25,120.90 210.90,120.89 210.55,120.89 210.20,120.88 209.85,120.87 209.50,120.87 209.15,120.86 208.80,120.85 208.45,120.85 208.10,120.84 207.75,120.83 207.40,120.83 207.05,120.82 206.70,120.81 206.35,120.81 206.00,120.80" fill="#000"/>
<polyline points="206.00,120.32 206.35,118.08 206.70,120.15 207.05,118.26 207.40,119.70 207.75,115.27 208.10,119.70 208.45,115.79 208.80,120.20 209.15,119.07 209.50,120.17 209.85,119.07 210.20,120.65 210.55,118.09 210.90,121.94 211.25,119.21 211.60,123.59 211.95,118.56 212.30,119.97 212.65,118.38 213.00,119.79 213.35,119.28 213.70,121.14 214.05,118.55 214.40,122.41 214.75,118.95 215.10,120.25 215.45,118.05 215.80,120.27 216.15,119.36 216.50,120.05 216.85,118.42 217.20,120.66 217.55,118.14 217.90,120.34 218.25,119.02 218.60,120.64 218.95,119.97 219.30,124.55 219.65,118.85 220.00,124.95 220.35,118.64 220.70,123.95 221.05,120.89 221.40,121.66 221.75,121.08 222.10,122.25 222.45,120.83 222.80,121.87 223.15,121.61 223.50,122.68 223.85,121.97 224.20,122.35 224.55,121.77 224.90,123.68 225.25,120.83 225.60,123.20 225.95,122.08 226.30,123.65 226.65,122.81 227.00,123.83 227.35,122.37 227.70,124.86 228.05,124.00 228.40,124.99 228.75,124.44 229.10,126.12 229.45,125.03 229.80,126.38 230.15,125.41 230.50,127.61 230.85,126.45 231.20,127.39 231.55,126.34 231.90,128.17 232.25,127.53 232.60,128.44 232.95,128.44 233.30,130.22 233.65,128.70 234.00,129.59 234.35,128.89 234.70,130.36 235.05,128.41 235.40,131.16 235.75,130.27 236.10,131.47 236.45,131.33 236.80,133.82 237.15,131.70 237.50,133.61 237.85,132.40 238.20,134.57 238.55,132.91 238.90,133.86 239.25,133.43 239.60,133.95 239.95,133.05 240.30,136.06 240.65,134.16 241.00,135.80 241.35,134.41 241.70,135.69 242.05,134.19 242.40,137.09 242.75,135.93 243.10,136.89 243.45,135.93 243.80,137.68 244.15,137.06 244.50,139.53 244.85,137.58 245.20,138.88 245.55,137.40 245.90,138.67 246.25,138.31 246.60,139.25 246.95,139.14 247.30,140.05 247.65,139.01 248.00,140.79 248.35,138.22 248.70,140.69 249.05,140.69 249.40,141.46 249.75,141.19 250.10,141.93 250.45,139.98 250.80,142.89 251.15,141.83 251.50,142.91 251.85,140.56 252.20,143.44 252.55,141.81 252.90,145.33 253.25,142.09 253.60,145.00 253.95,142.06 254.30,144.36 254.65,143.62 255.00,145.98 255.35,143.90 255.70,147.25 256.05,144.76 256.40,145.74 256.75,144.91 257.10,146.64 257.45,145.08 257.80,149.29 258.15,144.94 258.50,149.03 258.85,144.38 259.20,147.67 259.55,145.23 259.90,147.37 260.25,146.52 260.60,147.33 260.95,146.98 261.30,149.90 261.65,146.82 262.00,148.01 262.35,146.38 262.70,148.59 263.05,147.14 263.40,151.02 263.75,148.22 264.10,149.59 264.45,148.56 264.80,149.39 265.15,148.40 265.50,149.55 265.85,149.19 266.20,149.94 266.55,147.80 266.90,151.30 267.25,149.43 267.60,150.42 267.95,147.93 268.30,152.00 268.65,147.14 269.00,151.34 269.35,148.58 269.70,151.35 270.05,151.07 270.40,151.67 270.75,151.39 271.10,152.25 271.45,151.70 271.80,153.78 272.15,152.01 272.50,152.94 272.85,152.32 273.20,153.63 273.55,152.64 273.90,153.63 274.25,150.00 274.60,154.57 274.95,153.09 275.30,155.41 275.65,153.04 276.00,154.19 276.35,152.22 276.70,154.50 277.05,152.67 277.40,156.80 277.75,153.66 278.10,155.30 278.45,152.88 278.80,155.45 279.15,154.90 279.50,157.06 279.85,154.63 280.20,156.78 280.55,152.50 280.90,157.03 281.25,156.08 281.60,157.19 281.95,155.00 282.30,157.03 282.65,155.31 283.00,160.22 283.35,156.35 283.70,157.66 284.05,157.29 284.40,158.23 284.75,157.11 285.10,158.64 285.45,156.14 285.80,159.45 286.15,158.25 286.50,158.92 286.85,158.56 287.20,159.32 287.55,157.53 287.90,159.75 288.25,156.79 288.60,160.68 288.95,158.52 289.30,161.73 289.65,159.88 290.00,161.27 290.35,160.14 290.70,161.47 291.05,158.83 291.40,161.33 291.75,160.48 292.10,162.49 292.45,160.46 292.80,161.47 293.15,160.83 293.50,162.12 293.85,161.35 294.20,162.70 294.55,158.67 294.90,162.47 295.25,161.84 295.60,163.75 295.95,162.05 296.30,162.64 296.65,162.33 297.00,162.89 297.35,162.27 297.70,163.80 298.05,162.73 298.40,164.72 298.75,162.37 299.10,163.81 299.45,162.74 299.80,165.14 300.15,163.38 300.50,164.54 300.85,163.78 301.20,164.48 301.55,160.72 301.90,165.34 302.25,163.74 302.60,167.44 302.95,164.51 303.30,166.91 303.65,162.48 304.00,165.42 304.35,163.66 304.70,167.49 305.05,163.07 305.40,166.75 305.75,165.48 306.10,166.04 306.45,162.42 306.80,167.90 307.15,162.64 307.50,167.24 307.85,164.57 308.20,166.67 308.55,165.20 308.90,167.07 309.25,165.97 309.60,167.05 309.95,164.32 310.30,167.88 310.65,166.45 311.00,167.90 311.35,167.09 311.70,170.52 312.05,166.84 312.40,168.01 312.75,167.30 313.10,169.64 313.45,167.28 313.80,168.27 314.15,164.55 314.50,168.85 314.85,168.02 315.20,169.88 315.55,166.81 315.90,169.10 316.25,168.32 316.60,172.26 316.95,168.46 317.30,169.42 317.65,165.61 318.00,169.58 318.35,168.85 318.70,171.76 319.05,168.58 319.40,170.58 319.75,169.07 320.10,171.55 320.45,169.56 320.80,171.92 321.15,169.70 321.50,170.45 321.85,169.94 322.20,172.38 322.55,168.41 322.90,172.93 323.25,170.17 323.60,170.86 323.95,168.80 324.30,171.35 324.65,169.10 325.00,171.51 325.35,170.46 325.70,171.31" fill="none" stroke="#000" stroke-width="1.3" stroke-linejoin="round"/>
<polygon points="206.00,118.00 206.35,118.01 206.70,118.01 207.05,118.02 207.40,118.03 207.75,118.03 208.10,118.04 208.45,118.05 208.80,118.05 209.15,118.06 209.50,118.07 209.85,118.07 210.20,118.08 210.55,118.09 210.90,118.09 211.25,118.10 211.60,118.11 211.95,118.11 212.30,118.12 212.65,118.13 213.00,118.13 213.35,118.14 213.70,118.15 214.05,118.15 214.40,118.16 214.75,118.17 215.10,118.17 215.45,118.18 215.80,118.19 216.15,118.22 216.50,118.27 216.85,118.34 217.20,118.44 217.55,118.56 217.90,118.68 218.25,118.80 218.60,118.91 218.95,119.03 219.30,119.15 219.65,119.27 220.00,119.39 220.35,119.51 220.70,119.63 221.05,119.75 221.40,119.87 221.75,119.99 222.10,120.71 222.45,120.83 222.80,120.94 223.15,121.06 223.50,121.18 223.85,121.30 224.20,121.42 224.55,121.54 224.90,121.66 225.25,121.78 225.60,121.94 225.95,122.13 226.30,122.36 226.65,122.62 227.00,122.90 227.35,123.19 227.70,123.48 228.05,123.77 228.40,124.06 228.75,124.34 229.10,124.63 229.45,124.92 229.80,125.21 230.15,125.50 230.50,125.78 230.85,126.07 231.20,126.36 231.55,126.65 231.90,126.93 232.25,127.22 232.60,127.51 232.95,127.80 233.30,128.09 233.65,128.37 234.00,128.66 234.35,128.95 234.70,129.24 235.05,129.53 235.40,129.81 235.75,130.10 236.10,130.39 236.45,130.66 236.80,130.94 237.15,131.20 237.50,131.47 237.85,131.73 238.20,131.99 238.55,132.24 238.90,132.50 239.25,132.76 239.60,133.02 239.95,133.28 240.30,133.54 240.65,133.80 241.00,134.06 241.35,134.32 241.70,134.58 242.05,134.84 242.40,135.10 242.75,135.36 243.10,135.61 243.45,135.87 243.80,136.13 244.15,136.39 244.50,136.65 244.85,136.91 245.20,137.17 245.55,137.43 245.90,137.69 246.25,137.95 246.60,138.21 246.95,138.47 247.30,138.73 247.65,138.99 248.00,139.24 248.35,139.50 248.70,139.76 249.05,140.02 249.40,140.28 249.75,140.56 250.10,140.85 250.45,141.17 250.80,141.50 251.15,141.85 251.50,142.20 251.85,142.55 252.20,142.90 252.55,143.29 252.90,143.74 253.25,144.25 253.60,144.82 253.95,145.44 254.30,146.08 254.65,146.72 255.00,147.37 255.35,148.02 255.70,148.72 256.05,149.48 256.40,150.29 256.75,151.16 257.10,152.08 257.45,153.00 257.80,153.91 258.15,154.83 258.50,155.75 258.85,156.66 259.20,157.58 259.55,158.51 259.90,159.53 260.25,160.65 260.60,161.86 260.95,163.16 261.30,164.54 261.65,165.92 262.00,167.30 262.35,168.68 262.70,170.06 263.05,171.41 263.40,172.61 263.75,173.66 264.10,174.54 264.45,175.26 264.80,175.85 265.15,175.45 265.50,176.04 265.85,176.63 266.20,177.22 266.55,177.81 266.90,178.40 267.25,178.99 267.60,179.58 267.95,180.17 268.30,180.72 268.65,181.22 269.00,181.66 269.35,182.04 269.70,182.36 270.05,182.66 270.40,182.95 270.75,183.25 271.10,183.55 271.45,183.84 271.80,184.14 272.15,184.43 272.50,184.73 272.85,185.03 273.20,185.32 273.55,185.58 273.90,185.78 274.25,185.92 274.60,186.01 274.95,186.05 275.30,186.06 275.65,186.08 276.00,186.10 276.35,186.12 276.70,186.13 277.05,186.15 277.40,186.17 277.75,186.19 278.10,186.20 278.45,186.22 278.80,186.24 279.15,186.26 279.50,186.27 279.85,186.29 280.20,186.31 280.55,186.33 280.90,186.34 281.25,186.36 281.60,186.38 281.95,186.40 282.30,186.41 282.65,186.43 283.00,186.45 283.35,186.47 283.70,186.48 284.05,186.50 284.40,186.52 284.75,186.54 285.10,186.55 285.45,186.57 285.80,186.59 286.15,186.61 286.50,186.62 286.85,186.64 287.20,186.66 287.55,186.68 287.90,186.69 288.25,186.71 288.60,186.73 288.95,186.75 289.30,186.76 289.65,186.78 290.00,186.79 290.35,186.80 290.70,186.81 291.05,186.82 291.40,186.82 291.75,186.83 292.10,186.83 292.45,186.84 292.80,186.85 293.15,186.85 293.50,186.86 293.85,186.86 294.20,186.87 294.55,186.88 294.90,186.88 295.25,186.89 295.60,186.89 295.95,186.90 296.30,186.90 296.65,186.91 297.00,186.92 297.35,186.92 297.70,186.93 298.05,186.93 298.40,186.94 298.75,186.95 299.10,186.95 299.45,186.96 299.80,186.96 300.15,186.97 300.50,186.97 300.85,186.98 301.20,186.99 301.55,186.99 301.90,187.00 302.25,187.00 302.60,187.01 302.95,187.02 303.30,187.02 303.65,187.03 304.00,187.03 304.35,187.04 304.70,187.04 305.05,187.05 305.40,187.06 305.75,187.06 306.10,187.07 306.45,187.07 306.80,187.08 307.15,187.09 307.50,187.09 307.85,187.10 308.20,187.10 308.55,187.11 308.90,187.11 309.25,187.12 309.60,187.13 309.95,187.13 310.30,187.14 310.65,187.14 311.00,187.15 311.35,187.16 311.70,187.16 312.05,187.17 312.40,187.17 312.75,187.18 313.10,187.18 313.45,187.19 313.80,187.20 314.15,187.20 314.50,187.21 314.85,187.21 315.20,187.22 315.55,187.23 315.90,187.23 316.25,187.24 316.60,187.24 316.95,187.25 317.30,187.25 317.65,187.26 318.00,187.27 318.35,187.27 318.70,187.28 319.05,187.28 319.40,187.29 319.75,187.30 320.10,187.30 320.45,187.31 320.80,187.31 321.15,187.32 321.50,187.32 321.85,187.33 322.20,187.34 322.55,187.34 322.90,187.35 323.25,187.35 323.60,187.36 323.95,187.37 324.30,187.37 324.65,187.38 325.00,187.38 325.35,187.39 325.70,187.39 325.70,190.99 325.35,190.99 325.00,190.98 324.65,190.98 324.30,190.97 323.95,190.97 323.60,190.96 323.25,190.95 322.90,190.95 322.55,190.94 322.20,190.94 321.85,190.93 321.50,190.92 321.15,190.92 320.80,190.91 320.45,190.91 320.10,190.90 319.75,190.90 319.40,190.89 319.05,190.88 318.70,190.88 318.35,190.87 318.00,190.87 317.65,190.86 317.30,190.85 316.95,190.85 316.60,190.84 316.25,190.84 315.90,190.83 315.55,190.83 315.20,190.82 314.85,190.81 314.50,190.81 314.15,190.80 313.80,190.80 313.45,190.79 313.10,190.78 312.75,190.78 312.40,190.77 312.05,190.77 311.70,190.76 311.35,190.76 311.00,190.75 310.65,190.74 310.30,190.74 309.95,190.73 309.60,190.73 309.25,190.72 308.90,190.71 308.55,190.71 308.20,190.70 307.85,190.70 307.50,190.69 307.15,190.69 306.80,190.68 306.45,190.67 306.10,190.67 305.75,190.66 305.40,190.66 305.05,190.65 304.70,190.64 304.35,190.64 304.00,190.63 303.65,190.63 303.30,190.62 302.95,190.62 302.60,190.61 302.25,190.60 301.90,190.60 301.55,190.59 301.20,190.59 300.85,190.58 300.50,190.57 300.15,190.57 299.80,190.56 299.45,190.56 299.10,190.55 298.75,190.55 298.40,190.54 298.05,190.53 297.70,190.53 297.35,190.52 297.00,190.52 296.65,190.51 296.30,190.50 295.95,190.50 295.60,190.49 295.25,190.49 294.90,190.48 294.55,190.48 294.20,190.47 293.85,190.46 293.50,190.46 293.15,190.45 292.80,190.45 292.45,190.44 292.10,190.43 291.75,190.43 291.40,190.42 291.05,190.42 290.70,190.41 290.35,190.40 290.00,190.39 289.65,190.38 289.30,190.36 288.95,190.35 288.60,190.33 288.25,190.31 287.90,190.29 287.55,190.28 287.20,190.26 286.85,190.24 286.50,190.22 286.15,190.21 285.80,190.19 285.45,190.17 285.10,190.15 284.75,190.14 284.40,190.12 284.05,190.10 283.70,190.08 283.35,190.07 283.00,190.05 282.65,190.03 282.30,190.01 281.95,190.00 281.60,189.98 281.25,189.96 280.90,189.94 280.55,189.93 280.20,189.91 279.85,189.89 279.50,189.87 279.15,189.86 278.80,189.84 278.45,189.82 278.10,189.80 277.75,189.79 277.40,189.77 277.05,189.75 276.70,189.73 276.35,189.72 276.00,189.70 275.65,189.68 275.30,189.66 274.95,189.65 274.60,189.61 274.25,189.52 273.90,189.38 273.55,189.18 273.20,188.92 272.85,188.63 272.50,188.33 272.15,188.03 271.80,187.74 271.45,187.44 271.10,187.15 270.75,186.85 270.40,186.55 270.05,186.26 269.70,185.96 269.35,185.64 269.00,185.26 268.65,184.82 268.30,184.32 267.95,183.77 267.60,183.18 267.25,182.59 266.90,182.00 266.55,181.41 266.20,180.82 265.85,180.23 265.50,179.64 265.15,179.05 264.80,177.45 264.45,176.86 264.10,176.14 263.75,175.26 263.40,174.21 263.05,173.01 262.70,171.66 262.35,170.28 262.00,168.90 261.65,167.52 261.30,166.14 260.95,164.76 260.60,163.46 260.25,162.25 259.90,161.13 259.55,160.11 259.20,159.18 258.85,158.26 258.50,157.35 258.15,156.43 257.80,155.51 257.45,154.60 257.10,153.68 256.75,152.76 256.40,151.89 256.05,151.08 255.70,150.32 255.35,149.62 255.00,148.97 254.65,148.32 254.30,147.68 253.95,147.04 253.60,146.42 253.25,145.85 252.90,145.34 252.55,144.89 252.20,144.50 251.85,144.15 251.50,143.80 251.15,143.45 250.80,143.10 250.45,142.77 250.10,142.45 249.75,142.16 249.40,141.88 249.05,141.62 248.70,141.36 248.35,141.10 248.00,140.84 247.65,140.59 247.30,140.33 246.95,140.07 246.60,139.81 246.25,139.55 245.90,139.29 245.55,139.03 245.20,138.77 244.85,138.51 244.50,138.25 244.15,137.99 243.80,137.73 243.45,137.47 243.10,137.21 242.75,136.96 242.40,136.70 242.05,136.44 241.70,136.18 241.35,135.92 241.00,135.66 240.65,135.40 240.30,135.14 239.95,134.88 239.60,134.62 239.25,134.36 238.90,134.10 238.55,133.84 238.20,133.59 237.85,133.33 237.50,133.07 237.15,132.80 236.80,132.54 236.45,132.26 236.10,131.99 235.75,131.70 235.40,131.41 235.05,131.13 234.70,130.84 234.35,130.55 234.00,130.26 233.65,129.97 233.30,129.69 232.95,129.40 232.60,129.11 232.25,128.82 231.90,128.53 231.55,128.25 231.20,127.96 230.85,127.67 230.50,127.38 230.15,127.10 229.80,126.81 229.45,126.52 229.10,126.23 228.75,125.94 228.40,125.66 228.05,125.37 227.70,125.08 227.35,124.79 227.00,124.50 226.65,124.22 226.30,123.96 225.95,123.73 225.60,123.54 225.25,123.38 224.90,123.26 224.55,123.14 224.20,123.02 223.85,122.90 223.50,122.78 223.15,122.66 222.80,122.54 222.45,122.43 222.10,122.31 221.75,122.79 221.40,122.67 221.05,122.55 220.70,122.43 220.35,122.31 220.00,122.19 219.65,122.07 219.30,121.95 218.95,121.83 218.60,121.71 218.25,121.60 217.90,121.48 217.55,121.36 217.20,121.24 216.85,121.14 216.50,121.07 216.15,121.02 215.80,120.99 215.45,120.98 215.10,120.97 214.75,120.97 214.40,120.96 214.05,120.95 213.70,120.95 213.35,120.94 213.00,120.93 212.65,120.93 212.30,120.92 211.95,120.91 211.60,120.91 211.25,120.90 210.90,120.89 210.55,120.89 210.20,120.88 209.85,120.87 209.50,120.87 209.15,120.86 208.80,120.85 208.45,120.85 208.10,120.84 207.75,120.83 207.40,120.83 207.05,120.82 206.70,120.81 206.35,120.81 206.00,120.80" fill="#000"/>
<polyline points="206.00,121.42 206.35,118.92 206.70,119.67 207.05,117.88 207.40,120.28 207.75,118.90 208.10,121.84 208.45,118.93 208.80,120.65 209.15,119.08 209.50,121.20 209.85,115.99 210.20,121.38 210.55,118.81 210.90,122.66 211.25,118.15 211.60,119.77 211.95,119.22 212.30,119.78 212.65,117.40 213.00,123.69 213.35,117.30 213.70,119.81 214.05,118.47 214.40,122.62 214.75,118.73 215.10,119.83 215.45,119.15 215.80,120.03 216.15,119.36 216.50,120.08 216.85,116.98 217.20,121.44 217.55,119.11 217.90,122.74 218.25,117.28 218.60,121.06 218.95,119.23 219.30,121.03 219.65,120.39 220.00,121.67 220.35,120.65 220.70,121.93 221.05,120.89 221.40,122.05 221.75,120.22 222.10,121.85 222.45,120.47 222.80,122.12 223.15,121.47 223.50,122.11 223.85,121.53 224.20,123.77 224.55,120.94 224.90,122.59 225.25,121.44 225.60,123.61 225.95,121.68 226.30,124.71 226.65,122.71 227.00,124.26 227.35,122.74 227.70,125.17 228.05,124.31 228.40,125.69 228.75,124.88 229.10,126.22 229.45,125.30 229.80,126.24 230.15,126.02 230.50,126.71 230.85,125.60 231.20,127.57 231.55,127.19 231.90,128.15 232.25,127.16 232.60,128.81 232.95,128.33 233.30,129.62 233.65,128.56 234.00,131.03 234.35,129.62 234.70,130.67 235.05,129.77 235.40,131.44 235.75,130.77 236.10,131.42 236.45,131.33 236.80,132.07 237.15,130.64 237.50,132.41 237.85,131.76 238.20,134.27 238.55,132.42 238.90,133.88 239.25,131.87 239.60,134.94 239.95,133.63 240.30,135.58 240.65,134.16 241.00,135.19 241.35,134.41 241.70,136.44 242.05,135.29 242.40,136.72 242.75,135.61 243.10,136.86 243.45,135.40 243.80,137.08 244.15,137.06 244.50,138.23 244.85,137.17 245.20,140.05 245.55,137.60 245.90,139.92 246.25,138.32 246.60,139.14 246.95,138.57 247.30,139.69 247.65,139.44 248.00,142.12 248.35,139.92 248.70,140.97 249.05,140.46 249.40,142.63 249.75,141.23 250.10,142.02 250.45,141.80 250.80,142.58 251.15,141.92 251.50,143.37 251.85,142.02 252.20,144.51 252.55,143.80 252.90,144.92 253.25,144.74 253.60,146.18 253.95,145.19 254.30,148.96 254.65,147.39 255.00,149.11 255.35,148.63 255.70,150.78 256.05,149.52 256.40,151.42 256.75,151.39 257.10,154.16 257.45,153.54 257.80,156.01 258.15,155.04 258.50,158.23 258.85,156.39 259.20,159.01 259.55,158.90 259.90,161.44 260.25,160.23 260.60,162.79 260.95,162.89 261.30,165.63 261.65,166.18 262.00,168.23 262.35,165.32 262.70,171.66 263.05,170.85 263.40,176.29 263.75,173.35 264.10,175.83 264.45,175.60 264.80,179.12 265.15,176.73 265.50,178.15 265.85,175.84 266.20,179.28 266.55,177.72 266.90,180.67 267.25,180.53 267.60,184.16 267.95,178.35 268.30,184.72 268.65,182.30 269.00,183.72 269.35,183.44 269.70,184.87 270.05,182.09 270.40,188.91 270.75,184.49 271.10,185.84 271.45,185.23 271.80,187.48 272.15,185.55 272.50,186.88 272.85,186.30 273.20,189.47 273.55,186.91 273.90,188.79 274.25,187.46 274.60,188.07 274.95,187.58 275.30,188.18 275.65,187.61 276.00,189.70 276.35,187.66 276.70,188.19 277.05,187.38 277.40,189.42 277.75,187.73 278.10,189.00 278.45,187.39 278.80,188.51 279.15,185.70 279.50,188.33 279.85,187.43 280.20,188.73 280.55,186.64 280.90,189.93 281.25,187.54 281.60,191.08 281.95,186.44 282.30,188.61 282.65,187.97 283.00,190.61 283.35,186.33 283.70,189.57 284.05,188.04 284.40,189.72 284.75,187.69 285.10,188.61 285.45,187.06 285.80,188.65 286.15,184.51 286.50,189.67 286.85,187.71 287.20,188.97 287.55,188.02 287.90,190.56 288.25,186.94 288.60,189.07 288.95,187.08 289.30,188.82 289.65,187.84 290.00,189.23 290.35,187.63 290.70,189.09 291.05,188.36 291.40,188.88 291.75,188.36 292.10,189.81 292.45,188.38 292.80,188.91 293.15,187.27 293.50,190.93 293.85,186.93 294.20,188.96 294.55,188.42 294.90,189.73 295.25,187.15 295.60,189.00 295.95,187.18 296.30,192.86 296.65,187.97 297.00,189.62 297.35,187.31 297.70,189.95 298.05,187.49 298.40,189.10 298.75,188.37 299.10,189.01 299.45,188.31 299.80,189.02 300.15,187.40 300.50,189.35 300.85,188.44 301.20,189.89 301.55,188.24 301.90,189.06 302.25,187.90 302.60,192.20 302.95,188.56 303.30,191.07 303.65,188.02 304.00,189.45 304.35,187.81 304.70,191.76 305.05,186.87 305.40,189.29 305.75,184.70 306.10,191.36 306.45,188.61 306.80,192.47 307.15,187.87 307.50,189.32 307.85,185.17 308.20,190.00 308.55,186.60 308.90,189.82 309.25,187.06 309.60,190.09 309.95,188.67 310.30,189.31 310.65,188.64 311.00,189.77 311.35,188.49 311.70,189.36 312.05,186.53 312.40,189.44 312.75,185.39 313.10,192.82 313.45,187.93 313.80,189.58 314.15,188.29 314.50,189.36 314.85,188.51 315.20,193.08 315.55,188.38 315.90,190.55 316.25,188.71 316.60,189.92 316.95,186.74 317.30,190.43 317.65,188.80 318.00,189.78 318.35,188.53 318.70,190.54 319.05,188.64 319.40,190.06 319.75,186.14 320.10,189.95 320.45,188.57 320.80,192.24 321.15,188.38 321.50,189.43 321.85,187.16 322.20,189.48 322.55,188.88 322.90,190.11 323.25,187.94 323.60,190.25 323.95,187.84 324.30,190.19 324.65,187.71 325.00,193.34 325.35,188.14 325.70,189.86" fill="none" stroke="#000" stroke-width="1.3" stroke-linejoin="round"/>
<line x1="208.50" y1="113.30" x2="208.50" y2="120.00" stroke="#000" stroke-width="1.1"/>
<text x="294.25" y="40.90" font-size="12.3" textLength="18.42" lengthAdjust="spacingAndGlyphs" fill="#000" stroke-width="0.6" xml:space="preserve">WT</text>
<text x="279.83" y="78.20" font-size="12.5" textLength="37.60" lengthAdjust="spacingAndGlyphs" fill="#000" stroke-width="0.6" xml:space="preserve">LIMK1</text>
<text x="317.71" y="73.80" font-size="8.8" textLength="10.38" lengthAdjust="spacingAndGlyphs" fill="#000" stroke-width="0.6" xml:space="preserve">-/-</text>
<text x="283.40" y="152.00" font-size="12.5" textLength="35.30" lengthAdjust="spacingAndGlyphs" fill="#000" stroke-width="0.6" xml:space="preserve">LIMK1</text>
<text x="319.95" y="147.60" font-size="8.8" textLength="11.70" lengthAdjust="spacingAndGlyphs" fill="#000" stroke-width="0.6" xml:space="preserve">-/-</text>
<text x="293.35" y="205.90" font-size="12.5" textLength="19.03" lengthAdjust="spacingAndGlyphs" fill="#000" stroke-width="0.6" xml:space="preserve">WT</text>
<polyline points="382.40,87.55 382.90,87.65 383.40,87.80 383.90,88.00 384.40,88.19 384.90,88.39 385.40,88.59 385.90,88.79 386.40,88.99 386.90,89.18 387.40,89.38 387.90,89.58 388.40,89.78 388.90,89.98 389.40,90.17 389.90,90.37 390.40,90.57 390.90,90.77 391.40,90.97 391.90,91.16 392.40,91.36 392.90,91.55 393.40,91.73 393.90,91.92 394.40,92.10 394.90,92.28 395.40,92.46 395.90,92.64 396.40,92.82 396.90,93.00 397.40,93.18 397.90,93.36 398.40,93.54 398.90,93.72 399.40,93.91 399.90,94.09 400.40,94.27 400.90,94.45 401.40,94.63 401.90,94.80 402.40,94.96 402.90,95.12 403.40,95.26 403.90,95.40 404.40,95.55 404.90,95.69 405.40,95.83 405.90,95.98 406.40,96.12 406.90,96.26 407.40,96.41 407.90,96.55 408.40,96.70 408.90,96.84 409.40,96.98 409.90,97.13 410.40,97.27 410.90,97.40 411.40,97.49 411.90,97.53 412.40,97.53 412.90,97.48 413.40,97.44 413.90,97.40 414.40,97.35 414.90,97.31 415.40,97.27 415.90,97.22 416.40,97.18 416.90,97.14 417.40,97.09 417.90,97.05 418.40,97.01 418.90,96.96 419.40,96.90 419.90,96.83 420.40,96.73 420.90,96.62 421.40,96.51 421.90,96.40 422.40,96.29 422.90,96.17 423.40,96.06 423.90,95.95 424.40,95.84 424.90,95.73 425.40,95.62 425.90,95.51 426.40,95.39 426.90,95.28 427.40,95.17 427.90,95.06 428.40,94.95 428.90,94.84 429.40,94.72 429.90,94.61 430.40,94.50 430.90,94.39 431.40,94.26 431.90,94.12 432.40,93.96 432.90,93.77 433.40,93.59 433.90,93.40 434.40,93.22 434.90,93.03 435.40,92.85 435.90,92.66 436.40,92.48 436.90,92.29 437.40,92.11 437.90,91.92 438.40,91.74 438.90,91.55 439.40,91.37 439.90,91.18 440.40,91.00 440.90,90.81 441.40,90.63 441.90,90.38 442.40,89.81 442.90,89.04 443.40,88.19 443.90,87.34 444.40,86.74 444.90,86.29 445.40,85.84 445.90,85.39 446.40,84.94 446.90,84.49 447.40,84.04 447.90,83.59 448.40,83.14 448.90,82.69 449.40,82.24 449.90,81.79 450.40,81.34 450.90,80.87 451.40,80.35 451.90,79.76 452.40,79.11 452.90,78.41 453.40,77.71 453.90,77.00 454.40,76.30 454.90,75.60 455.40,74.90 455.90,74.20 456.40,73.50 456.90,72.80 457.40,72.10 457.90,71.39 458.40,70.69 458.90,69.99 459.40,69.27 459.90,68.53 460.40,67.76 460.90,66.98 461.40,66.18 461.90,65.39 462.40,64.60 462.90,63.81 463.40,63.01 463.90,62.22 464.40,61.43 464.90,60.64 465.40,59.84 465.90,59.05 466.40,58.26 466.90,57.46 467.40,56.67 467.90,55.87 468.40,55.07 468.90,54.26 469.40,53.45 469.90,52.65 470.40,51.84 470.90,51.03 471.40,50.22 471.90,49.41 472.40,48.60 472.90,47.79 473.40,46.99 473.90,46.18 474.40,45.37 474.90,44.56 475.40,43.75 475.90,42.95 476.40,42.14 476.90,41.34 477.40,40.54 477.90,39.74 478.40,38.95 478.90,38.15 479.40,37.35 479.90,36.55 480.40,35.75 480.90,34.95 481.40,34.15 481.90,33.35 482.40,32.56 482.90,31.76 483.40,30.96 483.90,30.19 484.40,29.46 484.90,28.78 485.40,28.13 485.90,27.49 486.40,26.85 486.90,26.21 487.40,25.57 487.90,24.93 488.40,24.29 488.90,23.64 489.40,23.07 489.90,22.65 490.40,22.40 490.90,22.30 491.40,22.30 491.90,22.30 492.40,22.30 492.90,22.30 493.40,22.30 493.90,22.30 494.40,22.30 494.90,22.30 495.40,22.30 495.90,22.30 496.40,22.30 496.90,22.30 497.40,22.30 497.90,22.30 498.40,22.30 498.90,22.30 499.40,22.30 499.90,22.30 500.40,22.30 500.90,22.30 501.40,22.30 501.90,22.30" fill="none" stroke="#000" stroke-width="1.7" stroke-linejoin="round"/>
<polyline points="382.40,87.53 382.90,87.60 383.40,87.70 383.90,87.83 384.40,87.97 384.90,88.10 385.40,88.24 385.90,88.37 386.40,88.50 386.90,88.64 387.40,88.77 387.90,88.90 388.40,89.04 388.90,89.17 389.40,89.30 389.90,89.44 390.40,89.57 390.90,89.71 391.40,89.84 391.90,89.97 392.40,90.10 392.90,90.21 393.40,90.31 393.90,90.39 394.40,90.48 394.90,90.56 395.40,90.64 395.90,90.73 396.40,90.81 396.90,90.90 397.40,90.98 397.90,91.06 398.40,91.15 398.90,91.23 399.40,91.32 399.90,91.40 400.40,91.48 400.90,91.57 401.40,91.65 401.90,91.73 402.40,91.82 402.90,91.90 403.40,91.99 403.90,92.07 404.40,92.15 404.90,92.24 405.40,92.32 405.90,92.41 406.40,92.49 406.90,92.57 407.40,92.66 407.90,92.74 408.40,92.81 408.90,92.86 409.40,92.89 409.90,92.90 410.40,92.90 410.90,92.90 411.40,92.90 411.90,92.90 412.40,92.90 412.90,92.90 413.40,92.90 413.90,92.90 414.40,92.90 414.90,92.90 415.40,92.90 415.90,92.90 416.40,92.90 416.90,92.90 417.40,92.90 417.90,92.90 418.40,92.90 418.90,92.90 419.40,92.90 419.90,92.90 420.40,92.90 420.90,92.90 421.40,92.90 421.90,92.90 422.40,92.88 422.90,92.87 423.40,92.84 423.90,92.81 424.40,92.78 424.90,92.75 425.40,92.72 425.90,92.69 426.40,92.67 426.90,92.64 427.40,92.61 427.90,92.58 428.40,92.55 428.90,92.52 429.40,92.49 429.90,92.46 430.40,92.43 430.90,92.41 431.40,92.38 431.90,92.35 432.40,92.32 432.90,92.29 433.40,92.26 433.90,92.23 434.40,92.19 434.90,92.14 435.40,92.08 435.90,92.02 436.40,91.96 436.90,91.90 437.40,91.84 437.90,91.77 438.40,91.71 438.90,91.65 439.40,91.59 439.90,91.53 440.40,91.47 440.90,91.40 441.40,91.34 441.90,91.28 442.40,91.22 442.90,91.17 443.40,91.12 443.90,91.07 444.40,91.02 444.90,90.97 445.40,90.92 445.90,90.87 446.40,90.82 446.90,90.78 447.40,90.73 447.90,90.68 448.40,90.63 448.90,90.58 449.40,90.53 449.90,90.48 450.40,90.43 450.90,90.39 451.40,90.34 451.90,90.29 452.40,90.24 452.90,90.19 453.40,90.14 453.90,90.09 454.40,89.94 454.90,89.61 455.40,89.11 455.90,88.43 456.40,87.69 456.90,86.94 457.40,86.19 457.90,85.45 458.40,84.70 458.90,83.96 459.40,83.21 459.90,82.46 460.40,81.72 460.90,80.99 461.40,80.28 461.90,79.61 462.40,78.96 462.90,78.32 463.40,77.68 463.90,77.05 464.40,76.41 464.90,75.77 465.40,75.13 465.90,74.49 466.40,73.86 466.90,73.38 467.40,73.06 467.90,72.90 468.40,72.90 468.90,72.90 469.40,72.90 469.90,72.90 470.40,72.90 470.90,72.90 471.40,72.90 471.90,72.90 472.40,72.90 472.90,72.90 473.40,72.90 473.90,72.90 474.40,72.90 474.90,72.90 475.40,72.90 475.90,72.90 476.40,72.90 476.90,72.90 477.40,72.90 477.90,72.90 478.40,72.90 478.90,72.90 479.40,72.90 479.90,72.90 480.40,72.90 480.90,72.90 481.40,72.90 481.90,72.90 482.40,72.90 482.90,72.90 483.40,72.90 483.90,72.90 484.40,72.90 484.90,72.90 485.40,72.92 485.90,72.99 486.40,73.10 486.90,73.27 487.40,73.46 487.90,73.65 488.40,73.84 488.90,74.03 489.40,74.23 489.90,74.42 490.40,74.61 490.90,74.80 491.40,75.00 491.90,75.18 492.40,75.32 492.90,75.44 493.40,75.52 493.90,75.58 494.40,75.64 494.90,75.70 495.40,75.76 495.90,75.82 496.40,75.88 496.90,75.94 497.40,76.00 497.90,76.07 498.40,76.13 498.90,76.19 499.40,76.25 499.90,76.31 500.40,76.37 500.90,76.43 501.40,76.49 501.90,76.55 502.40,76.62 502.90,76.68 503.40,76.74 503.90,76.80 504.40,76.86 504.90,76.91" fill="none" stroke="#000" stroke-width="1.7" stroke-linejoin="round"/>
<line x1="384.50" y1="88.00" x2="384.50" y2="97.00" stroke="#000" stroke-width="1.1"/>
<polygon points="383.40,119.69 383.73,119.73 384.06,119.79 384.39,119.85 384.72,119.94 385.05,120.02 385.38,120.10 385.71,120.18 386.04,120.26 386.37,120.34 386.70,120.42 387.03,120.51 387.36,120.59 387.69,120.67 388.02,120.75 388.35,120.83 388.68,120.91 389.01,120.99 389.34,121.08 389.67,121.16 390.00,121.24 390.33,121.32 390.66,121.40 390.99,121.49 391.32,121.61 391.65,121.75 391.98,121.91 392.31,122.10 392.64,122.31 392.97,122.53 393.30,122.75 393.63,122.98 393.96,123.20 394.29,123.42 394.62,123.64 394.95,123.88 395.28,123.64 395.61,123.93 395.94,124.24 396.27,124.59 396.60,124.97 396.93,125.36 397.26,125.75 397.59,126.15 397.92,126.54 398.25,126.94 398.58,127.33 398.91,127.72 399.24,128.12 399.57,128.51 399.90,128.91 400.23,129.30 400.56,129.69 400.89,130.09 401.22,130.48 401.55,130.88 401.88,131.28 402.21,131.70 402.54,132.13 402.87,132.57 403.20,133.02 403.53,133.48 403.86,133.94 404.19,134.40 404.52,134.86 404.85,135.32 405.18,135.78 405.51,136.24 405.84,136.70 406.17,137.17 406.50,137.63 406.83,138.09 407.16,138.55 407.49,139.01 407.82,139.47 408.15,139.93 408.48,140.38 408.81,140.81 409.14,141.22 409.47,141.61 409.80,141.97 410.13,142.31 410.46,142.64 410.79,142.97 411.12,143.30 411.45,143.63 411.78,143.96 412.11,144.29 412.44,144.62 412.77,144.95 413.10,145.28 413.43,145.61 413.76,145.94 414.09,146.27 414.42,146.60 414.75,146.93 415.08,147.26 415.41,147.59 415.74,147.92 416.07,148.25 416.40,148.58 416.73,148.91 417.06,149.24 417.39,149.57 417.72,149.90 418.05,150.22 418.38,150.53 418.71,150.82 419.04,151.09 419.37,151.36 419.70,151.61 420.03,151.86 420.36,152.11 420.69,152.36 421.02,152.61 421.35,152.86 421.68,153.11 422.01,153.36 422.34,153.61 422.67,153.86 423.00,154.11 423.33,154.36 423.66,154.61 423.99,154.86 424.32,155.11 424.65,155.36 424.98,155.61 425.31,155.86 425.64,156.11 425.97,156.36 426.30,156.61 426.63,156.86 426.96,157.11 427.29,157.35 427.62,157.60 427.95,157.85 428.28,158.10 428.61,158.35 428.94,158.57 429.27,158.78 429.60,158.98 429.93,159.16 430.26,159.32 430.59,159.48 430.92,159.64 431.25,159.79 431.58,159.95 431.91,160.11 432.24,160.26 432.57,160.42 432.90,160.58 433.23,160.73 433.56,160.89 433.89,161.05 434.22,161.21 434.55,161.36 434.88,161.52 435.21,161.68 435.54,161.83 435.87,161.99 436.20,162.15 436.53,162.30 436.86,162.46 437.19,162.62 437.52,162.77 437.85,162.93 438.18,163.09 438.51,163.24 438.84,163.40 439.17,163.56 439.50,163.71 439.83,163.87 440.16,163.38 440.49,163.54 440.82,163.69 441.15,163.85 441.48,164.01 441.81,164.16 442.14,164.32 442.47,164.48 442.80,164.63 443.13,164.79 443.46,164.95 443.79,165.10 444.12,165.26 444.45,165.42 444.78,165.58 445.11,165.74 445.44,165.91 445.77,166.09 446.10,166.27 446.43,166.46 446.76,166.65 447.09,166.84 447.42,167.03 447.75,167.22 448.08,167.41 448.41,167.60 448.74,167.79 449.07,167.98 449.40,168.17 449.73,168.36 450.06,168.55 450.39,168.74 450.72,168.93 451.05,169.12 451.38,169.31 451.71,169.50 452.04,169.69 452.37,169.88 452.70,170.07 453.03,170.26 453.36,170.45 453.69,170.64 454.02,170.83 454.35,171.02 454.68,171.21 455.01,171.40 455.34,171.59 455.67,171.78 456.00,171.97 456.33,172.16 456.66,172.35 456.99,172.54 457.32,172.73 457.65,172.92 457.98,173.11 458.31,173.30 458.64,173.49 458.97,173.68 459.30,173.87 459.63,174.06 459.96,174.25 460.29,174.44 460.62,174.63 460.95,174.82 461.28,175.01 461.61,175.20 461.94,175.39 462.27,175.58 462.60,175.76 462.93,175.91 463.26,176.04 463.59,176.14 463.92,176.23 464.25,176.29 464.58,176.35 464.91,176.40 465.24,176.46 465.57,176.52 465.90,176.58 466.23,176.63 466.56,176.69 466.89,176.75 467.22,176.81 467.55,176.86 467.88,176.92 468.21,176.98 468.54,177.03 468.87,177.09 469.20,177.15 469.53,177.21 469.86,177.26 470.19,177.32 470.52,177.38 470.85,177.44 471.18,177.49 471.51,177.55 471.84,177.61 472.17,177.67 472.50,177.72 472.83,177.78 473.16,177.84 473.49,177.90 473.82,177.95 474.15,178.01 474.48,178.07 474.81,178.13 475.14,178.18 475.47,178.24 475.80,178.30 476.13,178.35 476.46,178.41 476.79,178.47 477.12,178.53 477.45,178.58 477.78,178.64 478.11,178.70 478.44,178.76 478.77,178.81 479.10,178.87 479.43,178.93 479.76,178.99 480.09,179.04 480.42,179.10 480.75,179.16 481.08,179.22 481.41,179.27 481.74,179.33 482.07,179.39 482.40,179.45 482.73,179.50 483.06,179.56 483.39,179.62 483.72,179.67 484.05,179.73 484.38,179.79 484.71,179.85 485.04,179.90 485.37,179.96 485.70,180.01 486.03,180.06 486.36,180.11 486.69,180.14 487.02,180.18 487.35,180.21 487.68,180.24 488.01,180.27 488.34,180.30 488.67,180.33 489.00,180.36 489.33,180.39 489.66,180.42 489.99,180.45 490.32,180.48 490.65,180.51 490.98,180.54 491.31,180.57 491.64,180.60 491.97,180.63 492.30,180.66 492.63,180.69 492.96,180.72 493.29,180.75 493.62,180.78 493.95,180.81 494.28,180.84 494.61,180.87 494.94,180.90 495.27,180.93 495.60,180.96 495.93,180.99 496.26,181.02 496.59,181.05 496.92,181.08 497.25,181.11 497.58,181.14 497.91,181.17 498.24,181.20 498.57,181.23 498.90,181.26 499.23,181.29 499.56,181.32 499.89,181.35 500.22,181.38 500.55,181.41 500.88,181.44 501.21,181.48 501.54,181.51 501.87,181.54 502.20,181.57 502.53,181.60 502.86,181.63 503.19,181.66 503.52,181.69 503.85,181.72 504.18,181.74 504.51,181.76 504.51,186.56 504.18,186.54 503.85,186.52 503.52,186.49 503.19,186.46 502.86,186.43 502.53,186.40 502.20,186.37 501.87,186.34 501.54,186.31 501.21,186.28 500.88,186.24 500.55,186.21 500.22,186.18 499.89,186.15 499.56,186.12 499.23,186.09 498.90,186.06 498.57,186.03 498.24,186.00 497.91,185.97 497.58,185.94 497.25,185.91 496.92,185.88 496.59,185.85 496.26,185.82 495.93,185.79 495.60,185.76 495.27,185.73 494.94,185.70 494.61,185.67 494.28,185.64 493.95,185.61 493.62,185.58 493.29,185.55 492.96,185.52 492.63,185.49 492.30,185.46 491.97,185.43 491.64,185.40 491.31,185.37 490.98,185.34 490.65,185.31 490.32,185.28 489.99,185.25 489.66,185.22 489.33,185.19 489.00,185.16 488.67,185.13 488.34,185.10 488.01,185.07 487.68,185.04 487.35,185.01 487.02,184.98 486.69,184.94 486.36,184.91 486.03,184.86 485.70,184.81 485.37,184.76 485.04,184.70 484.71,184.65 484.38,184.59 484.05,184.53 483.72,184.47 483.39,184.42 483.06,184.36 482.73,184.30 482.40,184.25 482.07,184.19 481.74,184.13 481.41,184.07 481.08,184.02 480.75,183.96 480.42,183.90 480.09,183.84 479.76,183.79 479.43,183.73 479.10,183.67 478.77,183.61 478.44,183.56 478.11,183.50 477.78,183.44 477.45,183.38 477.12,183.33 476.79,183.27 476.46,183.21 476.13,183.15 475.80,183.10 475.47,183.04 475.14,182.98 474.81,182.93 474.48,182.87 474.15,182.81 473.82,182.75 473.49,182.70 473.16,182.64 472.83,182.58 472.50,182.52 472.17,182.47 471.84,182.41 471.51,182.35 471.18,182.29 470.85,182.24 470.52,182.18 470.19,182.12 469.86,182.06 469.53,182.01 469.20,181.95 468.87,181.89 468.54,181.83 468.21,181.78 467.88,181.72 467.55,181.66 467.22,181.61 466.89,181.55 466.56,181.49 466.23,181.43 465.90,181.38 465.57,181.32 465.24,181.26 464.91,181.20 464.58,181.15 464.25,181.09 463.92,181.03 463.59,180.94 463.26,180.84 462.93,180.71 462.60,180.56 462.27,180.38 461.94,180.19 461.61,180.00 461.28,179.81 460.95,179.62 460.62,179.43 460.29,179.24 459.96,179.05 459.63,178.86 459.30,178.67 458.97,178.48 458.64,178.29 458.31,178.10 457.98,177.91 457.65,177.72 457.32,177.53 456.99,177.34 456.66,177.15 456.33,176.96 456.00,176.77 455.67,176.58 455.34,176.39 455.01,176.20 454.68,176.01 454.35,175.82 454.02,175.63 453.69,175.44 453.36,175.25 453.03,175.06 452.70,174.87 452.37,174.68 452.04,174.49 451.71,174.30 451.38,174.11 451.05,173.92 450.72,173.73 450.39,173.54 450.06,173.35 449.73,173.16 449.40,172.97 449.07,172.78 448.74,172.59 448.41,172.40 448.08,172.21 447.75,172.02 447.42,171.83 447.09,171.64 446.76,171.45 446.43,171.26 446.10,171.07 445.77,170.89 445.44,170.71 445.11,170.54 444.78,170.38 444.45,170.22 444.12,170.06 443.79,169.90 443.46,169.75 443.13,169.59 442.80,169.43 442.47,169.28 442.14,169.12 441.81,168.96 441.48,168.81 441.15,168.65 440.82,168.49 440.49,168.34 440.16,168.18 439.83,167.37 439.50,167.21 439.17,167.06 438.84,166.90 438.51,166.74 438.18,166.59 437.85,166.43 437.52,166.27 437.19,166.12 436.86,165.96 436.53,165.80 436.20,165.65 435.87,165.49 435.54,165.33 435.21,165.18 434.88,165.02 434.55,164.86 434.22,164.71 433.89,164.55 433.56,164.39 433.23,164.23 432.90,164.08 432.57,163.92 432.24,163.76 431.91,163.61 431.58,163.45 431.25,163.29 430.92,163.14 430.59,162.98 430.26,162.82 429.93,162.66 429.60,162.48 429.27,162.28 428.94,162.07 428.61,161.85 428.28,161.60 427.95,161.35 427.62,161.10 427.29,160.85 426.96,160.61 426.63,160.36 426.30,160.11 425.97,159.86 425.64,159.61 425.31,159.36 424.98,159.11 424.65,158.86 424.32,158.61 423.99,158.36 423.66,158.11 423.33,157.86 423.00,157.61 422.67,157.36 422.34,157.11 422.01,156.86 421.68,156.61 421.35,156.36 421.02,156.11 420.69,155.86 420.36,155.61 420.03,155.36 419.70,155.11 419.37,154.86 419.04,154.59 418.71,154.32 418.38,154.03 418.05,153.72 417.72,153.40 417.39,153.07 417.06,152.74 416.73,152.41 416.40,152.08 416.07,151.75 415.74,151.42 415.41,151.09 415.08,150.76 414.75,150.43 414.42,150.10 414.09,149.77 413.76,149.44 413.43,149.11 413.10,148.78 412.77,148.45 412.44,148.12 412.11,147.79 411.78,147.46 411.45,147.13 411.12,146.80 410.79,146.47 410.46,146.14 410.13,145.81 409.80,145.47 409.47,145.11 409.14,144.72 408.81,144.31 408.48,143.88 408.15,143.43 407.82,142.97 407.49,142.51 407.16,142.05 406.83,141.59 406.50,141.13 406.17,140.67 405.84,140.20 405.51,139.74 405.18,139.28 404.85,138.82 404.52,138.36 404.19,137.90 403.86,137.44 403.53,136.98 403.20,136.52 402.87,136.07 402.54,135.63 402.21,135.20 401.88,134.78 401.55,134.38 401.22,133.98 400.89,133.59 400.56,133.19 400.23,132.80 399.90,132.41 399.57,132.01 399.24,131.62 398.91,131.22 398.58,130.83 398.25,130.44 397.92,130.04 397.59,129.65 397.26,129.25 396.93,128.86 396.60,128.47 396.27,128.09 395.94,127.74 395.61,127.43 395.28,127.14 394.95,126.38 394.62,126.14 394.29,125.92 393.96,125.70 393.63,125.48 393.30,125.25 392.97,125.03 392.64,124.81 392.31,124.60 391.98,124.41 391.65,124.25 391.32,124.11 390.99,123.99 390.66,123.90 390.33,123.82 390.00,123.74 389.67,123.66 389.34,123.58 389.01,123.49 388.68,123.41 388.35,123.33 388.02,123.25 387.69,123.17 387.36,123.09 387.03,123.01 386.70,122.92 386.37,122.84 386.04,122.76 385.71,122.68 385.38,122.60 385.05,122.52 384.72,122.44 384.39,122.35 384.06,122.29 383.73,122.23 383.40,122.19" fill="#000"/>
<polyline points="383.40,121.66 383.73,120.78 384.06,121.56 384.39,120.00 384.72,121.85 385.05,119.99 385.38,122.30 385.71,120.85 386.04,122.16 386.37,121.20 386.70,122.57 387.03,121.32 387.36,122.04 387.69,120.27 388.02,124.04 388.35,119.89 388.68,122.36 389.01,120.53 389.34,123.34 389.67,122.21 390.00,122.88 390.33,122.14 390.66,122.85 390.99,122.16 391.32,123.27 391.65,122.58 391.98,124.10 392.31,123.13 392.64,123.81 392.97,123.45 393.30,124.48 393.63,122.09 393.96,125.44 394.29,124.45 394.62,126.05 394.95,123.79 395.28,128.91 395.61,125.46 395.94,127.37 396.27,125.45 396.60,130.24 396.93,126.89 397.26,129.92 397.59,127.58 397.92,129.59 398.25,127.95 398.58,129.93 398.91,129.23 399.24,130.09 399.57,130.00 399.90,130.88 400.23,129.65 400.56,131.75 400.89,130.78 401.22,133.03 401.55,132.32 401.88,133.43 402.21,133.23 402.54,135.11 402.87,133.71 403.20,134.99 403.53,134.91 403.86,136.13 404.19,135.47 404.52,137.24 404.85,134.38 405.18,137.75 405.51,136.97 405.84,139.19 406.17,138.53 406.50,140.75 406.83,138.00 407.16,142.96 407.49,140.40 407.82,143.53 408.15,141.19 408.48,142.35 408.81,140.45 409.14,144.70 409.47,143.07 409.80,144.59 410.13,143.84 410.46,145.06 410.79,143.31 411.12,148.57 411.45,145.16 411.78,147.66 412.11,144.78 412.44,146.59 412.77,145.56 413.10,147.69 413.43,146.92 413.76,149.89 414.09,146.84 414.42,150.09 414.75,145.16 415.08,151.58 415.41,146.76 415.74,153.03 416.07,147.92 416.40,150.56 416.73,149.86 417.06,151.77 417.39,150.51 417.72,153.33 418.05,150.95 418.38,153.01 418.71,150.65 419.04,153.40 419.37,152.26 419.70,154.24 420.03,152.29 420.36,154.16 420.69,153.75 421.02,154.66 421.35,151.33 421.68,155.92 422.01,153.32 422.34,156.57 422.67,154.67 423.00,156.70 423.33,155.21 423.66,158.02 423.99,154.27 424.32,157.27 424.65,156.49 424.98,157.66 425.31,157.15 425.64,158.16 425.97,154.29 426.30,163.16 426.63,157.92 426.96,160.53 427.29,158.80 427.62,160.59 427.95,156.11 428.28,160.15 428.61,159.80 428.94,161.49 429.27,158.48 429.60,161.03 429.93,160.14 430.26,161.37 430.59,156.43 430.92,161.69 431.25,161.02 431.58,162.00 431.91,158.58 432.24,163.04 432.57,161.35 432.90,164.52 433.23,160.61 433.56,162.94 433.89,161.72 434.22,165.27 434.55,162.45 434.88,164.17 435.21,163.13 435.54,163.88 435.87,163.44 436.20,164.22 436.53,163.75 436.86,165.75 437.19,162.35 437.52,164.82 437.85,164.38 438.18,169.64 438.51,162.47 438.84,165.45 439.17,163.87 439.50,165.76 439.83,164.86 440.16,170.46 440.49,164.40 440.82,166.84 441.15,165.87 441.48,166.79 441.81,166.18 442.14,167.10 442.47,166.38 442.80,167.41 443.13,166.81 443.46,170.94 443.79,165.98 444.12,169.52 444.45,167.44 444.78,168.75 445.11,165.98 445.44,169.30 445.77,164.67 446.10,169.05 446.43,168.48 446.76,170.12 447.09,165.03 447.42,170.94 447.75,169.24 448.08,172.13 448.41,169.62 448.74,170.57 449.07,166.29 449.40,171.87 449.73,167.51 450.06,171.33 450.39,170.25 450.72,171.71 451.05,170.35 451.38,173.73 451.71,171.32 452.04,177.61 452.37,171.77 452.70,173.57 453.03,170.66 453.36,173.23 453.69,172.56 454.02,174.20 454.35,171.92 454.68,179.23 455.01,168.76 455.34,175.74 455.67,173.75 456.00,175.32 456.33,173.93 456.66,175.74 456.99,174.56 457.32,175.51 457.65,172.29 457.98,178.81 458.31,175.32 458.64,177.75 458.97,175.61 459.30,179.05 459.63,172.56 459.96,179.17 460.29,176.18 460.62,177.41 460.95,175.56 461.28,180.48 461.61,176.72 461.94,181.95 462.27,173.69 462.60,178.75 462.93,172.99 463.26,178.82 463.59,176.42 463.92,179.42 464.25,178.31 464.58,180.80 464.91,174.50 465.24,179.24 465.57,177.36 465.90,180.99 466.23,178.65 466.56,179.79 466.89,178.77 467.22,183.80 467.55,177.95 467.88,179.70 468.21,178.55 468.54,185.23 468.87,178.33 469.20,181.26 469.53,174.23 469.86,181.36 470.19,178.21 470.52,181.84 470.85,178.39 471.18,184.86 471.51,178.74 471.84,184.74 472.17,177.85 472.50,181.15 472.83,175.63 473.16,180.62 473.49,177.35 473.82,182.43 474.15,179.27 474.48,180.85 474.81,178.55 475.14,182.67 475.47,179.35 475.80,181.26 476.13,179.35 476.46,182.74 476.79,178.23 477.12,184.77 477.45,180.05 477.78,185.20 478.11,180.54 478.44,185.14 478.77,180.05 479.10,182.41 479.43,179.16 479.76,181.77 480.09,177.67 480.42,182.66 480.75,181.06 481.08,183.49 481.41,177.11 481.74,185.38 482.07,181.41 482.40,182.23 482.73,179.73 483.06,182.69 483.39,180.29 483.72,185.49 484.05,181.59 484.38,184.51 484.71,181.69 485.04,182.68 485.37,180.75 485.70,186.57 486.03,180.63 486.36,185.74 486.69,181.03 487.02,183.00 487.35,181.76 487.68,188.72 488.01,182.24 488.34,184.49 488.67,181.78 489.00,185.52 489.33,181.69 489.66,183.24 489.99,179.80 490.32,183.26 490.65,180.15 490.98,189.02 491.31,182.59 491.64,183.86 491.97,182.65 492.30,183.44 492.63,179.26 492.96,184.97 493.29,182.23 493.62,183.56 493.95,180.77 494.28,187.90 494.61,182.28 494.94,184.23 495.27,181.94 495.60,184.32 495.93,181.91 496.26,186.65 496.59,182.05 496.92,184.55 497.25,182.66 497.58,183.92 497.91,181.34 498.24,186.03 498.57,183.25 498.90,184.73 499.23,180.91 499.56,184.86 499.89,182.92 500.22,185.72 500.55,180.44 500.88,185.55 501.21,180.47 501.54,185.57 501.87,179.98 502.20,185.41 502.53,181.58 502.86,185.21 503.19,183.06 503.52,184.79 503.85,182.03 504.18,184.81 504.51,183.78" fill="none" stroke="#000" stroke-width="1.3" stroke-linejoin="round"/>
<polygon points="383.40,119.69 383.73,119.73 384.06,119.79 384.39,119.85 384.72,119.94 385.05,120.02 385.38,120.10 385.71,120.18 386.04,120.26 386.37,120.34 386.70,120.42 387.03,120.51 387.36,120.59 387.69,120.67 388.02,120.75 388.35,120.83 388.68,120.91 389.01,120.99 389.34,121.08 389.67,121.16 390.00,121.24 390.33,121.32 390.66,121.40 390.99,121.49 391.32,121.61 391.65,121.75 391.98,121.91 392.31,122.10 392.64,122.31 392.97,122.53 393.30,122.75 393.63,122.98 393.96,123.20 394.29,123.42 394.62,123.64 394.95,123.88 395.28,123.64 395.61,123.93 395.94,124.24 396.27,124.59 396.60,124.97 396.93,125.36 397.26,125.75 397.59,126.15 397.92,126.54 398.25,126.94 398.58,127.33 398.91,127.72 399.24,128.12 399.57,128.51 399.90,128.91 400.23,129.30 400.56,129.69 400.89,130.09 401.22,130.48 401.55,130.88 401.88,131.28 402.21,131.70 402.54,132.13 402.87,132.57 403.20,133.02 403.53,133.48 403.86,133.94 404.19,134.40 404.52,134.86 404.85,135.32 405.18,135.78 405.51,136.24 405.84,136.70 406.17,137.17 406.50,137.63 406.83,138.09 407.16,138.55 407.49,139.01 407.82,139.47 408.15,139.93 408.48,140.38 408.81,140.81 409.14,141.22 409.47,141.61 409.80,141.97 410.13,142.31 410.46,142.64 410.79,142.97 411.12,143.30 411.45,143.63 411.78,143.96 412.11,144.29 412.44,144.62 412.77,144.95 413.10,145.28 413.43,145.61 413.76,145.94 414.09,146.27 414.42,146.60 414.75,146.93 415.08,147.26 415.41,147.59 415.74,147.92 416.07,148.25 416.40,148.58 416.73,148.91 417.06,149.24 417.39,149.57 417.72,149.90 418.05,150.22 418.38,150.53 418.71,150.82 419.04,151.09 419.37,151.36 419.70,151.61 420.03,151.86 420.36,152.11 420.69,152.36 421.02,152.61 421.35,152.86 421.68,153.11 422.01,153.36 422.34,153.61 422.67,153.86 423.00,154.11 423.33,154.36 423.66,154.61 423.99,154.86 424.32,155.11 424.65,155.36 424.98,155.61 425.31,155.86 425.64,156.11 425.97,156.36 426.30,156.61 426.63,156.86 426.96,157.11 427.29,157.35 427.62,157.60 427.95,157.85 428.28,158.10 428.61,158.35 428.94,158.58 429.27,158.80 429.60,159.01 429.93,159.20 430.26,159.38 430.59,159.56 430.92,159.74 431.25,159.92 431.58,160.09 431.91,160.27 432.24,160.45 432.57,160.62 432.90,160.80 433.23,160.98 433.56,161.16 433.89,161.33 434.22,161.51 434.55,161.69 434.88,161.87 435.21,162.04 435.54,162.22 435.87,162.40 436.20,162.57 436.53,162.75 436.86,162.93 437.19,163.11 437.52,163.28 437.85,163.46 438.18,163.64 438.51,163.81 438.84,163.99 439.17,164.17 439.50,164.35 439.83,164.52 440.16,164.05 440.49,164.23 440.82,164.41 441.15,164.58 441.48,164.76 441.81,164.94 442.14,165.11 442.47,165.29 442.80,165.47 443.13,165.65 443.46,165.82 443.79,166.00 444.12,166.18 444.45,166.35 444.78,166.54 445.11,166.72 445.44,166.92 445.77,167.12 446.10,167.32 446.43,167.54 446.76,167.76 447.09,167.97 447.42,168.19 447.75,168.41 448.08,168.63 448.41,168.85 448.74,169.06 449.07,169.28 449.40,169.50 449.73,169.72 450.06,169.94 450.39,170.16 450.72,170.37 451.05,170.59 451.38,170.81 451.71,171.03 452.04,171.25 452.37,171.46 452.70,171.68 453.03,171.90 453.36,172.12 453.69,172.34 454.02,172.55 454.35,172.77 454.68,172.99 455.01,173.21 455.34,173.43 455.67,173.65 456.00,173.86 456.33,174.08 456.66,174.30 456.99,174.52 457.32,174.74 457.65,174.95 457.98,175.17 458.31,175.39 458.64,175.61 458.97,175.83 459.30,176.05 459.63,176.26 459.96,176.48 460.29,176.70 460.62,176.92 460.95,177.14 461.28,177.35 461.61,177.57 461.94,177.79 462.27,178.01 462.60,178.21 462.93,178.39 463.26,178.55 463.59,178.69 463.92,178.81 464.25,178.91 464.58,179.00 464.91,179.09 465.24,179.19 465.57,179.28 465.90,179.37 466.23,179.47 466.56,179.56 466.89,179.65 467.22,179.75 467.55,179.84 467.88,179.93 468.21,180.03 468.54,180.12 468.87,180.21 469.20,180.31 469.53,180.40 469.86,180.49 470.19,180.59 470.52,180.68 470.85,180.77 471.18,180.87 471.51,180.96 471.84,181.05 472.17,181.14 472.50,181.24 472.83,181.33 473.16,181.42 473.49,181.52 473.82,181.61 474.15,181.70 474.48,181.80 474.81,181.89 475.14,181.98 475.47,182.08 475.80,182.17 476.13,182.26 476.46,182.36 476.79,182.45 477.12,182.54 477.45,182.64 477.78,182.73 478.11,182.82 478.44,182.92 478.77,183.01 479.10,183.10 479.43,183.20 479.76,183.29 480.09,183.38 480.42,183.48 480.75,183.57 481.08,183.66 481.41,183.76 481.74,183.85 482.07,183.94 482.40,184.04 482.73,184.13 483.06,184.22 483.39,184.32 483.72,184.41 484.05,184.50 484.38,184.60 484.71,184.69 485.04,184.78 485.37,184.87 485.70,184.96 486.03,185.04 486.36,185.11 486.69,185.18 487.02,185.24 487.35,185.29 487.68,185.34 488.01,185.40 488.34,185.45 488.67,185.50 489.00,185.56 489.33,185.61 489.66,185.66 489.99,185.72 490.32,185.77 490.65,185.82 490.98,185.88 491.31,185.93 491.64,185.98 491.97,186.04 492.30,186.09 492.63,186.14 492.96,186.20 493.29,186.25 493.62,186.30 493.95,186.36 494.28,186.41 494.61,186.46 494.94,186.52 495.27,186.57 495.60,186.62 495.93,186.67 496.26,186.73 496.59,186.78 496.92,186.83 497.25,186.89 497.58,186.94 497.91,186.99 498.24,187.05 498.57,187.10 498.90,187.15 499.23,187.21 499.56,187.26 499.89,187.31 500.22,187.37 500.55,187.42 500.88,187.47 501.21,187.53 501.54,187.58 501.87,187.63 502.20,187.69 502.53,187.74 502.86,187.79 503.19,187.85 503.52,187.90 503.85,187.95 504.18,188.00 504.51,188.03 504.51,192.83 504.18,192.80 503.85,192.75 503.52,192.70 503.19,192.65 502.86,192.59 502.53,192.54 502.20,192.49 501.87,192.43 501.54,192.38 501.21,192.33 500.88,192.27 500.55,192.22 500.22,192.17 499.89,192.11 499.56,192.06 499.23,192.01 498.90,191.95 498.57,191.90 498.24,191.85 497.91,191.79 497.58,191.74 497.25,191.69 496.92,191.63 496.59,191.58 496.26,191.53 495.93,191.47 495.60,191.42 495.27,191.37 494.94,191.32 494.61,191.26 494.28,191.21 493.95,191.16 493.62,191.10 493.29,191.05 492.96,191.00 492.63,190.94 492.30,190.89 491.97,190.84 491.64,190.78 491.31,190.73 490.98,190.68 490.65,190.62 490.32,190.57 489.99,190.52 489.66,190.46 489.33,190.41 489.00,190.36 488.67,190.30 488.34,190.25 488.01,190.20 487.68,190.14 487.35,190.09 487.02,190.04 486.69,189.98 486.36,189.91 486.03,189.84 485.70,189.76 485.37,189.67 485.04,189.58 484.71,189.49 484.38,189.40 484.05,189.30 483.72,189.21 483.39,189.12 483.06,189.02 482.73,188.93 482.40,188.84 482.07,188.74 481.74,188.65 481.41,188.56 481.08,188.46 480.75,188.37 480.42,188.28 480.09,188.18 479.76,188.09 479.43,188.00 479.10,187.90 478.77,187.81 478.44,187.72 478.11,187.62 477.78,187.53 477.45,187.44 477.12,187.34 476.79,187.25 476.46,187.16 476.13,187.06 475.80,186.97 475.47,186.88 475.14,186.78 474.81,186.69 474.48,186.60 474.15,186.50 473.82,186.41 473.49,186.32 473.16,186.22 472.83,186.13 472.50,186.04 472.17,185.94 471.84,185.85 471.51,185.76 471.18,185.67 470.85,185.57 470.52,185.48 470.19,185.39 469.86,185.29 469.53,185.20 469.20,185.11 468.87,185.01 468.54,184.92 468.21,184.83 467.88,184.73 467.55,184.64 467.22,184.55 466.89,184.45 466.56,184.36 466.23,184.27 465.90,184.17 465.57,184.08 465.24,183.99 464.91,183.89 464.58,183.80 464.25,183.71 463.92,183.61 463.59,183.49 463.26,183.35 462.93,183.19 462.60,183.01 462.27,182.81 461.94,182.59 461.61,182.37 461.28,182.15 460.95,181.94 460.62,181.72 460.29,181.50 459.96,181.28 459.63,181.06 459.30,180.85 458.97,180.63 458.64,180.41 458.31,180.19 457.98,179.97 457.65,179.75 457.32,179.54 456.99,179.32 456.66,179.10 456.33,178.88 456.00,178.66 455.67,178.45 455.34,178.23 455.01,178.01 454.68,177.79 454.35,177.57 454.02,177.35 453.69,177.14 453.36,176.92 453.03,176.70 452.70,176.48 452.37,176.26 452.04,176.05 451.71,175.83 451.38,175.61 451.05,175.39 450.72,175.17 450.39,174.96 450.06,174.74 449.73,174.52 449.40,174.30 449.07,174.08 448.74,173.86 448.41,173.65 448.08,173.43 447.75,173.21 447.42,172.99 447.09,172.77 446.76,172.56 446.43,172.34 446.10,172.12 445.77,171.92 445.44,171.72 445.11,171.52 444.78,171.34 444.45,171.15 444.12,170.98 443.79,170.80 443.46,170.62 443.13,170.45 442.80,170.27 442.47,170.09 442.14,169.91 441.81,169.74 441.48,169.56 441.15,169.38 440.82,169.21 440.49,169.03 440.16,168.85 439.83,168.02 439.50,167.85 439.17,167.67 438.84,167.49 438.51,167.31 438.18,167.14 437.85,166.96 437.52,166.78 437.19,166.61 436.86,166.43 436.53,166.25 436.20,166.07 435.87,165.90 435.54,165.72 435.21,165.54 434.88,165.37 434.55,165.19 434.22,165.01 433.89,164.83 433.56,164.66 433.23,164.48 432.90,164.30 432.57,164.12 432.24,163.95 431.91,163.77 431.58,163.59 431.25,163.42 430.92,163.24 430.59,163.06 430.26,162.88 429.93,162.70 429.60,162.51 429.27,162.30 428.94,162.08 428.61,161.85 428.28,161.60 427.95,161.35 427.62,161.10 427.29,160.85 426.96,160.61 426.63,160.36 426.30,160.11 425.97,159.86 425.64,159.61 425.31,159.36 424.98,159.11 424.65,158.86 424.32,158.61 423.99,158.36 423.66,158.11 423.33,157.86 423.00,157.61 422.67,157.36 422.34,157.11 422.01,156.86 421.68,156.61 421.35,156.36 421.02,156.11 420.69,155.86 420.36,155.61 420.03,155.36 419.70,155.11 419.37,154.86 419.04,154.59 418.71,154.32 418.38,154.03 418.05,153.72 417.72,153.40 417.39,153.07 417.06,152.74 416.73,152.41 416.40,152.08 416.07,151.75 415.74,151.42 415.41,151.09 415.08,150.76 414.75,150.43 414.42,150.10 414.09,149.77 413.76,149.44 413.43,149.11 413.10,148.78 412.77,148.45 412.44,148.12 412.11,147.79 411.78,147.46 411.45,147.13 411.12,146.80 410.79,146.47 410.46,146.14 410.13,145.81 409.80,145.47 409.47,145.11 409.14,144.72 408.81,144.31 408.48,143.88 408.15,143.43 407.82,142.97 407.49,142.51 407.16,142.05 406.83,141.59 406.50,141.13 406.17,140.67 405.84,140.20 405.51,139.74 405.18,139.28 404.85,138.82 404.52,138.36 404.19,137.90 403.86,137.44 403.53,136.98 403.20,136.52 402.87,136.07 402.54,135.63 402.21,135.20 401.88,134.78 401.55,134.38 401.22,133.98 400.89,133.59 400.56,133.19 400.23,132.80 399.90,132.41 399.57,132.01 399.24,131.62 398.91,131.22 398.58,130.83 398.25,130.44 397.92,130.04 397.59,129.65 397.26,129.25 396.93,128.86 396.60,128.47 396.27,128.09 395.94,127.74 395.61,127.43 395.28,127.14 394.95,126.38 394.62,126.14 394.29,125.92 393.96,125.70 393.63,125.48 393.30,125.25 392.97,125.03 392.64,124.81 392.31,124.60 391.98,124.41 391.65,124.25 391.32,124.11 390.99,123.99 390.66,123.90 390.33,123.82 390.00,123.74 389.67,123.66 389.34,123.58 389.01,123.49 388.68,123.41 388.35,123.33 388.02,123.25 387.69,123.17 387.36,123.09 387.03,123.01 386.70,122.92 386.37,122.84 386.04,122.76 385.71,122.68 385.38,122.60 385.05,122.52 384.72,122.44 384.39,122.35 384.06,122.29 383.73,122.23 383.40,122.19" fill="#000"/>
<polyline points="383.40,123.18 383.73,120.78 384.06,122.32 384.39,120.90 384.72,121.62 385.05,121.07 385.38,122.08 385.71,120.37 386.04,121.96 386.37,119.08 386.70,122.84 387.03,121.30 387.36,123.22 387.69,121.72 388.02,122.89 388.35,121.59 388.68,122.36 389.01,121.64 389.34,122.79 389.67,121.78 390.00,122.69 390.33,119.37 390.66,122.85 390.99,122.44 391.32,126.06 391.65,122.68 391.98,123.36 392.31,121.47 392.64,124.41 392.97,121.03 393.30,125.41 393.63,122.65 393.96,124.67 394.29,122.37 394.62,127.13 394.95,122.35 395.28,126.39 395.61,125.45 395.94,129.24 396.27,125.20 396.60,130.21 396.93,126.89 397.26,130.44 397.59,127.51 397.92,128.57 398.25,127.92 398.58,129.60 398.91,128.38 399.24,133.39 399.57,130.04 399.90,131.07 400.23,127.59 400.56,132.35 400.89,130.16 401.22,132.75 401.55,131.54 401.88,133.26 402.21,131.79 402.54,136.57 402.87,131.80 403.20,134.99 403.53,133.22 403.86,137.09 404.19,134.73 404.52,137.34 404.85,133.55 405.18,138.52 405.51,134.88 405.84,139.05 406.17,137.65 406.50,140.85 406.83,138.95 407.16,143.82 407.49,138.74 407.82,142.55 408.15,141.35 408.48,143.35 408.81,139.15 409.14,143.39 409.47,142.16 409.80,143.97 410.13,142.24 410.46,144.61 410.79,144.50 411.12,146.60 411.45,144.82 411.78,147.60 412.11,145.68 412.44,147.38 412.77,145.61 413.10,147.39 413.43,146.94 413.76,148.72 414.09,147.08 414.42,149.36 414.75,148.36 415.08,150.84 415.41,149.12 415.74,150.39 416.07,148.69 416.40,152.74 416.73,150.40 417.06,152.09 417.39,148.82 417.72,153.41 418.05,151.73 418.38,152.90 418.71,152.35 419.04,153.94 419.37,152.89 419.70,155.45 420.03,153.31 420.36,154.17 420.69,150.62 421.02,157.75 421.35,154.07 421.68,155.16 422.01,154.34 422.34,155.66 422.67,154.20 423.00,156.17 423.33,151.38 423.66,157.69 423.99,156.03 424.32,157.31 424.65,153.69 424.98,157.66 425.31,157.09 425.64,158.16 425.97,153.31 426.30,158.97 426.63,158.15 426.96,160.98 427.29,158.80 427.62,161.10 427.95,159.27 428.28,160.15 428.61,155.30 428.94,162.32 429.27,158.78 429.60,161.41 429.93,160.65 430.26,161.43 430.59,160.45 430.92,161.79 431.25,158.77 431.58,164.51 431.91,160.39 432.24,166.34 432.57,162.07 432.90,162.85 433.23,160.31 433.56,163.73 433.89,161.44 434.22,163.56 434.55,162.57 434.88,163.92 435.21,162.93 435.54,164.78 435.87,161.15 436.20,169.12 436.53,162.49 436.86,165.65 437.19,164.56 437.52,168.03 437.85,160.41 438.18,165.69 438.51,164.25 438.84,166.32 439.17,163.87 439.50,166.77 439.83,164.24 440.16,169.99 440.49,162.75 440.82,168.21 441.15,166.56 441.48,169.84 441.81,166.96 442.14,172.02 442.47,166.46 442.80,168.31 443.13,167.02 443.46,168.60 443.79,167.36 444.12,169.38 444.45,166.39 444.78,174.56 445.11,166.74 445.44,170.16 445.77,167.76 446.10,170.10 446.43,169.56 446.76,171.28 447.09,167.76 447.42,171.41 447.75,167.58 448.08,177.11 448.41,170.87 448.74,174.19 449.07,169.58 449.40,172.77 449.73,170.49 450.06,174.15 450.39,171.07 450.72,173.29 451.05,171.84 451.38,173.59 451.71,171.90 452.04,174.76 452.37,170.81 452.70,174.69 453.03,172.76 453.36,175.05 453.69,174.31 454.02,178.42 454.35,173.85 454.68,181.47 455.01,175.23 455.34,176.87 455.67,174.67 456.00,177.88 456.33,176.03 456.66,177.23 456.99,173.66 457.32,180.88 457.65,171.27 457.98,181.29 458.31,177.41 458.64,178.87 458.97,177.25 459.30,178.83 459.63,176.37 459.96,181.75 460.29,173.08 460.62,180.73 460.95,176.99 461.28,182.48 461.61,177.46 461.94,180.76 462.27,177.01 462.60,182.51 462.93,179.66 463.26,181.33 463.59,175.01 463.92,182.83 464.25,180.38 464.58,181.78 464.91,180.20 465.24,184.85 465.57,178.55 465.90,182.40 466.23,178.07 466.56,182.34 466.89,180.70 467.22,182.53 467.55,180.30 467.88,182.87 468.21,181.81 468.54,182.90 468.87,181.95 469.20,184.66 469.53,180.82 469.86,183.43 470.19,181.79 470.52,185.38 470.85,181.56 471.18,189.35 471.51,177.40 471.84,183.83 472.17,180.59 472.50,187.66 472.83,179.61 473.16,188.27 473.49,182.76 473.82,185.29 474.15,183.40 474.48,184.58 474.81,179.07 475.14,187.03 475.47,183.32 475.80,185.12 476.13,184.28 476.46,186.46 476.79,183.06 477.12,191.02 477.45,183.08 477.78,185.51 478.11,184.84 478.44,189.78 478.77,185.03 479.10,186.46 479.43,185.22 479.76,186.07 480.09,183.36 480.42,187.00 480.75,183.95 481.08,190.34 481.41,184.96 481.74,188.89 482.07,183.42 482.40,187.10 482.73,181.01 483.06,190.25 483.39,183.78 483.72,187.93 484.05,182.09 484.38,189.02 484.71,184.45 485.04,188.19 485.37,186.31 485.70,188.45 486.03,187.06 486.36,189.05 486.69,187.17 487.02,189.21 487.35,184.42 487.68,188.85 488.01,186.14 488.34,193.88 488.67,187.08 489.00,190.00 489.33,187.63 489.66,189.11 489.99,186.42 490.32,188.60 490.65,187.69 490.98,194.36 491.31,182.64 491.64,191.58 491.97,187.95 492.30,189.75 492.63,187.90 492.96,188.98 493.29,187.24 493.62,189.47 493.95,185.48 494.28,189.79 494.61,187.94 494.94,195.00 495.27,188.22 495.60,192.73 495.93,185.52 496.26,191.36 496.59,187.89 496.92,189.61 497.25,188.41 497.58,189.72 497.91,188.54 498.24,191.94 498.57,183.42 498.90,191.26 499.23,189.17 499.56,190.90 499.89,189.33 500.22,190.15 500.55,187.96 500.88,190.73 501.21,189.15 501.54,190.36 501.87,188.09 502.20,194.75 502.53,189.76 502.86,192.14 503.19,189.87 503.52,193.19 503.85,188.98 504.18,192.07 504.51,189.17" fill="none" stroke="#000" stroke-width="1.3" stroke-linejoin="round"/>
<line x1="387.00" y1="108.70" x2="387.00" y2="121.00" stroke="#000" stroke-width="1.2"/>
<line x1="396.50" y1="117.50" x2="396.50" y2="125.50" stroke="#000" stroke-width="1.1"/>
<line x1="400.50" y1="122.00" x2="400.50" y2="130.00" stroke="#000" stroke-width="1.1"/>
<line x1="405.50" y1="127.50" x2="405.50" y2="135.50" stroke="#000" stroke-width="1.1"/>
<text x="491.35" y="35.00" font-size="12.5" textLength="19.14" lengthAdjust="spacingAndGlyphs" fill="#000" stroke-width="0.6" xml:space="preserve">WT</text>
<text x="470.76" y="94.80" font-size="12.5" textLength="36.76" lengthAdjust="spacingAndGlyphs" fill="#000" stroke-width="0.6" xml:space="preserve">LIMK1</text>
<text x="507.95" y="90.40" font-size="8.8" textLength="11.70" lengthAdjust="spacingAndGlyphs" fill="#000" stroke-width="0.6" xml:space="preserve">-/-</text>
<text x="471.32" y="168.40" font-size="12.5" textLength="34.67" lengthAdjust="spacingAndGlyphs" fill="#000" stroke-width="0.6" xml:space="preserve">LIMK1</text>
<text x="507.95" y="164.00" font-size="8.8" textLength="11.70" lengthAdjust="spacingAndGlyphs" fill="#000" stroke-width="0.6" xml:space="preserve">-/-</text>
<text x="491.44" y="208.50" font-size="12.5" textLength="19.65" lengthAdjust="spacingAndGlyphs" fill="#000" stroke-width="0.6" xml:space="preserve">WT</text>
<text x="0.22" y="238.80" font-size="14" font-weight="bold" textLength="10.16" lengthAdjust="spacingAndGlyphs" fill="#000" stroke-width="0.6" xml:space="preserve">C</text>
<rect x="51.0" y="239.7" width="108.6" height="85.69999999999999" fill="none" stroke="#000" stroke-width="1.4"/>
<line x1="46.00" y1="325.40" x2="51.00" y2="325.40" stroke="#000" stroke-width="0.7"/>
<line x1="48.20" y1="323.27" x2="51.00" y2="323.27" stroke="#000" stroke-width="0.7"/>
<line x1="48.20" y1="321.14" x2="51.00" y2="321.14" stroke="#000" stroke-width="0.7"/>
<line x1="48.20" y1="319.01" x2="51.00" y2="319.01" stroke="#000" stroke-width="0.7"/>
<line x1="48.20" y1="316.88" x2="51.00" y2="316.88" stroke="#000" stroke-width="0.7"/>
<line x1="47.20" y1="314.75" x2="51.00" y2="314.75" stroke="#000" stroke-width="0.7"/>
<line x1="48.20" y1="312.62" x2="51.00" y2="312.62" stroke="#000" stroke-width="0.7"/>
<line x1="48.20" y1="310.49" x2="51.00" y2="310.49" stroke="#000" stroke-width="0.7"/>
<line x1="48.20" y1="308.36" x2="51.00" y2="308.36" stroke="#000" stroke-width="0.7"/>
<line x1="48.20" y1="306.23" x2="51.00" y2="306.23" stroke="#000" stroke-width="0.7"/>
<line x1="46.00" y1="304.10" x2="51.00" y2="304.10" stroke="#000" stroke-width="0.7"/>
<line x1="48.20" y1="301.97" x2="51.00" y2="301.97" stroke="#000" stroke-width="0.7"/>
<line x1="48.20" y1="299.84" x2="51.00" y2="299.84" stroke="#000" stroke-width="0.7"/>
<line x1="48.20" y1="297.71" x2="51.00" y2="297.71" stroke="#000" stroke-width="0.7"/>
<line x1="48.20" y1="295.58" x2="51.00" y2="295.58" stroke="#000" stroke-width="0.7"/>
<line x1="47.20" y1="293.45" x2="51.00" y2="293.45" stroke="#000" stroke-width="0.7"/>
<line x1="48.20" y1="291.32" x2="51.00" y2="291.32" stroke="#000" stroke-width="0.7"/>
<line x1="48.20" y1="289.19" x2="51.00" y2="289.19" stroke="#000" stroke-width="0.7"/>
<line x1="48.20" y1="287.06" x2="51.00" y2="287.06" stroke="#000" stroke-width="0.7"/>
<line x1="48.20" y1="284.93" x2="51.00" y2="284.93" stroke="#000" stroke-width="0.7"/>
<line x1="46.00" y1="282.80" x2="51.00" y2="282.80" stroke="#000" stroke-width="0.7"/>
<line x1="48.20" y1="280.67" x2="51.00" y2="280.67" stroke="#000" stroke-width="0.7"/>
<line x1="48.20" y1="278.54" x2="51.00" y2="278.54" stroke="#000" stroke-width="0.7"/>
<line x1="48.20" y1="276.41" x2="51.00" y2="276.41" stroke="#000" stroke-width="0.7"/>
<line x1="48.20" y1="274.28" x2="51.00" y2="274.28" stroke="#000" stroke-width="0.7"/>
<line x1="47.20" y1="272.15" x2="51.00" y2="272.15" stroke="#000" stroke-width="0.7"/>
<line x1="48.20" y1="270.02" x2="51.00" y2="270.02" stroke="#000" stroke-width="0.7"/>
<line x1="48.20" y1="267.89" x2="51.00" y2="267.89" stroke="#000" stroke-width="0.7"/>
<line x1="48.20" y1="265.76" x2="51.00" y2="265.76" stroke="#000" stroke-width="0.7"/>
<line x1="48.20" y1="263.63" x2="51.00" y2="263.63" stroke="#000" stroke-width="0.7"/>
<line x1="46.00" y1="261.50" x2="51.00" y2="261.50" stroke="#000" stroke-width="0.7"/>
<line x1="48.20" y1="259.37" x2="51.00" y2="259.37" stroke="#000" stroke-width="0.7"/>
<line x1="48.20" y1="257.24" x2="51.00" y2="257.24" stroke="#000" stroke-width="0.7"/>
<line x1="48.20" y1="255.11" x2="51.00" y2="255.11" stroke="#000" stroke-width="0.7"/>
<line x1="48.20" y1="252.98" x2="51.00" y2="252.98" stroke="#000" stroke-width="0.7"/>
<line x1="47.20" y1="250.85" x2="51.00" y2="250.85" stroke="#000" stroke-width="0.7"/>
<line x1="48.20" y1="248.72" x2="51.00" y2="248.72" stroke="#000" stroke-width="0.7"/>
<line x1="48.20" y1="246.59" x2="51.00" y2="246.59" stroke="#000" stroke-width="0.7"/>
<line x1="48.20" y1="244.46" x2="51.00" y2="244.46" stroke="#000" stroke-width="0.7"/>
<line x1="48.20" y1="242.33" x2="51.00" y2="242.33" stroke="#000" stroke-width="0.7"/>
<line x1="46.00" y1="240.20" x2="51.00" y2="240.20" stroke="#000" stroke-width="0.7"/>
<line x1="51.00" y1="325.40" x2="51.00" y2="322.40" stroke="#000" stroke-width="0.7"/>
<line x1="59.17" y1="325.40" x2="59.17" y2="323.60" stroke="#000" stroke-width="0.7"/>
<line x1="63.95" y1="325.40" x2="63.95" y2="323.60" stroke="#000" stroke-width="0.7"/>
<line x1="67.35" y1="325.40" x2="67.35" y2="323.60" stroke="#000" stroke-width="0.7"/>
<line x1="69.98" y1="325.40" x2="69.98" y2="323.60" stroke="#000" stroke-width="0.7"/>
<line x1="72.13" y1="325.40" x2="72.13" y2="323.60" stroke="#000" stroke-width="0.7"/>
<line x1="73.94" y1="325.40" x2="73.94" y2="323.60" stroke="#000" stroke-width="0.7"/>
<line x1="75.52" y1="325.40" x2="75.52" y2="323.60" stroke="#000" stroke-width="0.7"/>
<line x1="76.91" y1="325.40" x2="76.91" y2="323.60" stroke="#000" stroke-width="0.7"/>
<line x1="78.15" y1="325.40" x2="78.15" y2="322.40" stroke="#000" stroke-width="0.7"/>
<line x1="86.32" y1="325.40" x2="86.32" y2="323.60" stroke="#000" stroke-width="0.7"/>
<line x1="91.10" y1="325.40" x2="91.10" y2="323.60" stroke="#000" stroke-width="0.7"/>
<line x1="94.50" y1="325.40" x2="94.50" y2="323.60" stroke="#000" stroke-width="0.7"/>
<line x1="97.13" y1="325.40" x2="97.13" y2="323.60" stroke="#000" stroke-width="0.7"/>
<line x1="99.28" y1="325.40" x2="99.28" y2="323.60" stroke="#000" stroke-width="0.7"/>
<line x1="101.09" y1="325.40" x2="101.09" y2="323.60" stroke="#000" stroke-width="0.7"/>
<line x1="102.67" y1="325.40" x2="102.67" y2="323.60" stroke="#000" stroke-width="0.7"/>
<line x1="104.06" y1="325.40" x2="104.06" y2="323.60" stroke="#000" stroke-width="0.7"/>
<line x1="105.30" y1="325.40" x2="105.30" y2="322.40" stroke="#000" stroke-width="0.7"/>
<line x1="113.47" y1="325.40" x2="113.47" y2="323.60" stroke="#000" stroke-width="0.7"/>
<line x1="118.25" y1="325.40" x2="118.25" y2="323.60" stroke="#000" stroke-width="0.7"/>
<line x1="121.65" y1="325.40" x2="121.65" y2="323.60" stroke="#000" stroke-width="0.7"/>
<line x1="124.28" y1="325.40" x2="124.28" y2="323.60" stroke="#000" stroke-width="0.7"/>
<line x1="126.43" y1="325.40" x2="126.43" y2="323.60" stroke="#000" stroke-width="0.7"/>
<line x1="128.24" y1="325.40" x2="128.24" y2="323.60" stroke="#000" stroke-width="0.7"/>
<line x1="129.82" y1="325.40" x2="129.82" y2="323.60" stroke="#000" stroke-width="0.7"/>
<line x1="131.21" y1="325.40" x2="131.21" y2="323.60" stroke="#000" stroke-width="0.7"/>
<line x1="132.45" y1="325.40" x2="132.45" y2="322.40" stroke="#000" stroke-width="0.7"/>
<line x1="140.62" y1="325.40" x2="140.62" y2="323.60" stroke="#000" stroke-width="0.7"/>
<line x1="145.40" y1="325.40" x2="145.40" y2="323.60" stroke="#000" stroke-width="0.7"/>
<line x1="148.80" y1="325.40" x2="148.80" y2="323.60" stroke="#000" stroke-width="0.7"/>
<line x1="151.43" y1="325.40" x2="151.43" y2="323.60" stroke="#000" stroke-width="0.7"/>
<line x1="153.58" y1="325.40" x2="153.58" y2="323.60" stroke="#000" stroke-width="0.7"/>
<line x1="155.39" y1="325.40" x2="155.39" y2="323.60" stroke="#000" stroke-width="0.7"/>
<line x1="156.97" y1="325.40" x2="156.97" y2="323.60" stroke="#000" stroke-width="0.7"/>
<line x1="158.36" y1="325.40" x2="158.36" y2="323.60" stroke="#000" stroke-width="0.7"/>
<line x1="51.00" y1="325.40" x2="51.00" y2="327.90" stroke="#000" stroke-width="0.8"/>
<line x1="78.15" y1="325.40" x2="78.15" y2="327.90" stroke="#000" stroke-width="0.8"/>
<line x1="105.30" y1="325.40" x2="105.30" y2="327.90" stroke="#000" stroke-width="0.8"/>
<line x1="132.45" y1="325.40" x2="132.45" y2="327.90" stroke="#000" stroke-width="0.8"/>
<line x1="159.60" y1="325.40" x2="159.60" y2="327.90" stroke="#000" stroke-width="0.8"/>
<rect x="191.0" y="239.1" width="108.30000000000001" height="86.9" fill="none" stroke="#000" stroke-width="1.4"/>
<line x1="186.00" y1="326.00" x2="191.00" y2="326.00" stroke="#000" stroke-width="0.7"/>
<line x1="188.20" y1="323.84" x2="191.00" y2="323.84" stroke="#000" stroke-width="0.7"/>
<line x1="188.20" y1="321.68" x2="191.00" y2="321.68" stroke="#000" stroke-width="0.7"/>
<line x1="188.20" y1="319.52" x2="191.00" y2="319.52" stroke="#000" stroke-width="0.7"/>
<line x1="188.20" y1="317.36" x2="191.00" y2="317.36" stroke="#000" stroke-width="0.7"/>
<line x1="187.20" y1="315.20" x2="191.00" y2="315.20" stroke="#000" stroke-width="0.7"/>
<line x1="188.20" y1="313.04" x2="191.00" y2="313.04" stroke="#000" stroke-width="0.7"/>
<line x1="188.20" y1="310.88" x2="191.00" y2="310.88" stroke="#000" stroke-width="0.7"/>
<line x1="188.20" y1="308.72" x2="191.00" y2="308.72" stroke="#000" stroke-width="0.7"/>
<line x1="188.20" y1="306.56" x2="191.00" y2="306.56" stroke="#000" stroke-width="0.7"/>
<line x1="186.00" y1="304.40" x2="191.00" y2="304.40" stroke="#000" stroke-width="0.7"/>
<line x1="188.20" y1="302.24" x2="191.00" y2="302.24" stroke="#000" stroke-width="0.7"/>
<line x1="188.20" y1="300.08" x2="191.00" y2="300.08" stroke="#000" stroke-width="0.7"/>
<line x1="188.20" y1="297.92" x2="191.00" y2="297.92" stroke="#000" stroke-width="0.7"/>
<line x1="188.20" y1="295.76" x2="191.00" y2="295.76" stroke="#000" stroke-width="0.7"/>
<line x1="187.20" y1="293.60" x2="191.00" y2="293.60" stroke="#000" stroke-width="0.7"/>
<line x1="188.20" y1="291.44" x2="191.00" y2="291.44" stroke="#000" stroke-width="0.7"/>
<line x1="188.20" y1="289.28" x2="191.00" y2="289.28" stroke="#000" stroke-width="0.7"/>
<line x1="188.20" y1="287.12" x2="191.00" y2="287.12" stroke="#000" stroke-width="0.7"/>
<line x1="188.20" y1="284.96" x2="191.00" y2="284.96" stroke="#000" stroke-width="0.7"/>
<line x1="186.00" y1="282.80" x2="191.00" y2="282.80" stroke="#000" stroke-width="0.7"/>
<line x1="188.20" y1="280.64" x2="191.00" y2="280.64" stroke="#000" stroke-width="0.7"/>
<line x1="188.20" y1="278.48" x2="191.00" y2="278.48" stroke="#000" stroke-width="0.7"/>
<line x1="188.20" y1="276.32" x2="191.00" y2="276.32" stroke="#000" stroke-width="0.7"/>
<line x1="188.20" y1="274.16" x2="191.00" y2="274.16" stroke="#000" stroke-width="0.7"/>
<line x1="187.20" y1="272.00" x2="191.00" y2="272.00" stroke="#000" stroke-width="0.7"/>
<line x1="188.20" y1="269.84" x2="191.00" y2="269.84" stroke="#000" stroke-width="0.7"/>
<line x1="188.20" y1="267.68" x2="191.00" y2="267.68" stroke="#000" stroke-width="0.7"/>
<line x1="188.20" y1="265.52" x2="191.00" y2="265.52" stroke="#000" stroke-width="0.7"/>
<line x1="188.20" y1="263.36" x2="191.00" y2="263.36" stroke="#000" stroke-width="0.7"/>
<line x1="186.00" y1="261.20" x2="191.00" y2="261.20" stroke="#000" stroke-width="0.7"/>
<line x1="188.20" y1="259.04" x2="191.00" y2="259.04" stroke="#000" stroke-width="0.7"/>
<line x1="188.20" y1="256.88" x2="191.00" y2="256.88" stroke="#000" stroke-width="0.7"/>
<line x1="188.20" y1="254.72" x2="191.00" y2="254.72" stroke="#000" stroke-width="0.7"/>
<line x1="188.20" y1="252.56" x2="191.00" y2="252.56" stroke="#000" stroke-width="0.7"/>
<line x1="187.20" y1="250.40" x2="191.00" y2="250.40" stroke="#000" stroke-width="0.7"/>
<line x1="188.20" y1="248.24" x2="191.00" y2="248.24" stroke="#000" stroke-width="0.7"/>
<line x1="188.20" y1="246.08" x2="191.00" y2="246.08" stroke="#000" stroke-width="0.7"/>
<line x1="188.20" y1="243.92" x2="191.00" y2="243.92" stroke="#000" stroke-width="0.7"/>
<line x1="188.20" y1="241.76" x2="191.00" y2="241.76" stroke="#000" stroke-width="0.7"/>
<line x1="186.00" y1="239.60" x2="191.00" y2="239.60" stroke="#000" stroke-width="0.7"/>
<line x1="191.00" y1="326.00" x2="191.00" y2="323.00" stroke="#000" stroke-width="0.7"/>
<line x1="199.15" y1="326.00" x2="199.15" y2="324.20" stroke="#000" stroke-width="0.7"/>
<line x1="203.92" y1="326.00" x2="203.92" y2="324.20" stroke="#000" stroke-width="0.7"/>
<line x1="207.30" y1="326.00" x2="207.30" y2="324.20" stroke="#000" stroke-width="0.7"/>
<line x1="209.92" y1="326.00" x2="209.92" y2="324.20" stroke="#000" stroke-width="0.7"/>
<line x1="212.07" y1="326.00" x2="212.07" y2="324.20" stroke="#000" stroke-width="0.7"/>
<line x1="213.88" y1="326.00" x2="213.88" y2="324.20" stroke="#000" stroke-width="0.7"/>
<line x1="215.45" y1="326.00" x2="215.45" y2="324.20" stroke="#000" stroke-width="0.7"/>
<line x1="216.84" y1="326.00" x2="216.84" y2="324.20" stroke="#000" stroke-width="0.7"/>
<line x1="218.07" y1="326.00" x2="218.07" y2="323.00" stroke="#000" stroke-width="0.7"/>
<line x1="226.23" y1="326.00" x2="226.23" y2="324.20" stroke="#000" stroke-width="0.7"/>
<line x1="230.99" y1="326.00" x2="230.99" y2="324.20" stroke="#000" stroke-width="0.7"/>
<line x1="234.38" y1="326.00" x2="234.38" y2="324.20" stroke="#000" stroke-width="0.7"/>
<line x1="237.00" y1="326.00" x2="237.00" y2="324.20" stroke="#000" stroke-width="0.7"/>
<line x1="239.14" y1="326.00" x2="239.14" y2="324.20" stroke="#000" stroke-width="0.7"/>
<line x1="240.96" y1="326.00" x2="240.96" y2="324.20" stroke="#000" stroke-width="0.7"/>
<line x1="242.53" y1="326.00" x2="242.53" y2="324.20" stroke="#000" stroke-width="0.7"/>
<line x1="243.91" y1="326.00" x2="243.91" y2="324.20" stroke="#000" stroke-width="0.7"/>
<line x1="245.15" y1="326.00" x2="245.15" y2="323.00" stroke="#000" stroke-width="0.7"/>
<line x1="253.30" y1="326.00" x2="253.30" y2="324.20" stroke="#000" stroke-width="0.7"/>
<line x1="258.07" y1="326.00" x2="258.07" y2="324.20" stroke="#000" stroke-width="0.7"/>
<line x1="261.45" y1="326.00" x2="261.45" y2="324.20" stroke="#000" stroke-width="0.7"/>
<line x1="264.07" y1="326.00" x2="264.07" y2="324.20" stroke="#000" stroke-width="0.7"/>
<line x1="266.22" y1="326.00" x2="266.22" y2="324.20" stroke="#000" stroke-width="0.7"/>
<line x1="268.03" y1="326.00" x2="268.03" y2="324.20" stroke="#000" stroke-width="0.7"/>
<line x1="269.60" y1="326.00" x2="269.60" y2="324.20" stroke="#000" stroke-width="0.7"/>
<line x1="270.99" y1="326.00" x2="270.99" y2="324.20" stroke="#000" stroke-width="0.7"/>
<line x1="272.23" y1="326.00" x2="272.23" y2="323.00" stroke="#000" stroke-width="0.7"/>
<line x1="280.38" y1="326.00" x2="280.38" y2="324.20" stroke="#000" stroke-width="0.7"/>
<line x1="285.14" y1="326.00" x2="285.14" y2="324.20" stroke="#000" stroke-width="0.7"/>
<line x1="288.53" y1="326.00" x2="288.53" y2="324.20" stroke="#000" stroke-width="0.7"/>
<line x1="291.15" y1="326.00" x2="291.15" y2="324.20" stroke="#000" stroke-width="0.7"/>
<line x1="293.29" y1="326.00" x2="293.29" y2="324.20" stroke="#000" stroke-width="0.7"/>
<line x1="295.11" y1="326.00" x2="295.11" y2="324.20" stroke="#000" stroke-width="0.7"/>
<line x1="296.68" y1="326.00" x2="296.68" y2="324.20" stroke="#000" stroke-width="0.7"/>
<line x1="298.06" y1="326.00" x2="298.06" y2="324.20" stroke="#000" stroke-width="0.7"/>
<line x1="191.00" y1="326.00" x2="191.00" y2="328.50" stroke="#000" stroke-width="0.8"/>
<line x1="218.07" y1="326.00" x2="218.07" y2="328.50" stroke="#000" stroke-width="0.8"/>
<line x1="245.15" y1="326.00" x2="245.15" y2="328.50" stroke="#000" stroke-width="0.8"/>
<line x1="272.23" y1="326.00" x2="272.23" y2="328.50" stroke="#000" stroke-width="0.8"/>
<line x1="299.30" y1="326.00" x2="299.30" y2="328.50" stroke="#000" stroke-width="0.8"/>
<line x1="51.90" y1="268.00" x2="51.90" y2="317.00" stroke="#555" stroke-width="2.0"/>
<line x1="159.00" y1="292.60" x2="159.00" y2="325.40" stroke="#111" stroke-width="2.0"/>
<line x1="191.90" y1="264.50" x2="191.90" y2="318.00" stroke="#555" stroke-width="2.0"/>
<line x1="191.90" y1="264.00" x2="191.90" y2="276.50" stroke="#222" stroke-width="2.0"/>
<line x1="298.90" y1="279.70" x2="298.90" y2="326.00" stroke="#111" stroke-width="2.0"/>
<text transform="translate(41.50,247.60) rotate(-90)" x="-0.34" y="0" font-size="10" textLength="8.64" lengthAdjust="spacingAndGlyphs" fill="#000" stroke-width="0.6" xml:space="preserve">80</text>
<text transform="translate(41.50,297.80) rotate(-90)" x="-0.54" y="0" font-size="10.5" textLength="33.42" lengthAdjust="spacingAndGlyphs" fill="#000" stroke-width="0.6" xml:space="preserve">Counts</text>
<text transform="translate(41.60,327.20) rotate(-90)" x="-0.40" y="0" font-size="9.5" textLength="5.70" lengthAdjust="spacingAndGlyphs" fill="#000" stroke-width="0.6" xml:space="preserve">0</text>
<text transform="translate(181.30,247.20) rotate(-90)" x="-0.34" y="0" font-size="10" textLength="8.64" lengthAdjust="spacingAndGlyphs" fill="#000" stroke-width="0.6" xml:space="preserve">80</text>
<text transform="translate(181.30,303.50) rotate(-90)" x="-0.54" y="0" font-size="10.5" textLength="33.42" lengthAdjust="spacingAndGlyphs" fill="#000" stroke-width="0.6" xml:space="preserve">Counts</text>
<text transform="translate(181.40,327.40) rotate(-90)" x="-0.40" y="0" font-size="9.5" textLength="5.70" lengthAdjust="spacingAndGlyphs" fill="#000" stroke-width="0.6" xml:space="preserve">0</text>
<text x="42.22" y="341.20" font-size="10.5" textLength="11.38" lengthAdjust="spacingAndGlyphs" fill="#000" stroke-width="0.6" xml:space="preserve">10</text>
<text x="53.31" y="336.00" font-size="8.2" textLength="5.58" lengthAdjust="spacingAndGlyphs" fill="#000" stroke-width="0.6" xml:space="preserve">0</text>
<text x="69.22" y="341.20" font-size="10.5" textLength="11.38" lengthAdjust="spacingAndGlyphs" fill="#000" stroke-width="0.6" xml:space="preserve">10</text>
<text x="79.85" y="336.00" font-size="8.2" textLength="6.19" lengthAdjust="spacingAndGlyphs" fill="#000" stroke-width="0.6" xml:space="preserve">1</text>
<text x="96.02" y="341.20" font-size="10.5" textLength="11.38" lengthAdjust="spacingAndGlyphs" fill="#000" stroke-width="0.6" xml:space="preserve">10</text>
<text x="106.97" y="336.00" font-size="8.2" textLength="5.86" lengthAdjust="spacingAndGlyphs" fill="#000" stroke-width="0.6" xml:space="preserve">2</text>
<text x="122.92" y="341.20" font-size="10.5" textLength="11.38" lengthAdjust="spacingAndGlyphs" fill="#000" stroke-width="0.6" xml:space="preserve">10</text>
<text x="134.01" y="336.00" font-size="8.2" textLength="5.63" lengthAdjust="spacingAndGlyphs" fill="#000" stroke-width="0.6" xml:space="preserve">3</text>
<text x="149.02" y="341.20" font-size="10.5" textLength="11.38" lengthAdjust="spacingAndGlyphs" fill="#000" stroke-width="0.6" xml:space="preserve">10</text>
<text x="160.28" y="336.00" font-size="8.2" textLength="5.30" lengthAdjust="spacingAndGlyphs" fill="#000" stroke-width="0.6" xml:space="preserve">4</text>
<text x="187.52" y="341.20" font-size="10.5" textLength="11.38" lengthAdjust="spacingAndGlyphs" fill="#000" stroke-width="0.6" xml:space="preserve">10</text>
<text x="198.61" y="336.00" font-size="8.2" textLength="5.58" lengthAdjust="spacingAndGlyphs" fill="#000" stroke-width="0.6" xml:space="preserve">0</text>
<text x="212.22" y="341.20" font-size="10.5" textLength="11.38" lengthAdjust="spacingAndGlyphs" fill="#000" stroke-width="0.6" xml:space="preserve">10</text>
<text x="222.85" y="336.00" font-size="8.2" textLength="6.19" lengthAdjust="spacingAndGlyphs" fill="#000" stroke-width="0.6" xml:space="preserve">1</text>
<text x="237.92" y="341.20" font-size="10.5" textLength="11.38" lengthAdjust="spacingAndGlyphs" fill="#000" stroke-width="0.6" xml:space="preserve">10</text>
<text x="248.87" y="336.00" font-size="8.2" textLength="5.86" lengthAdjust="spacingAndGlyphs" fill="#000" stroke-width="0.6" xml:space="preserve">2</text>
<text x="262.12" y="341.20" font-size="10.5" textLength="11.38" lengthAdjust="spacingAndGlyphs" fill="#000" stroke-width="0.6" xml:space="preserve">10</text>
<text x="273.21" y="336.00" font-size="8.2" textLength="5.63" lengthAdjust="spacingAndGlyphs" fill="#000" stroke-width="0.6" xml:space="preserve">3</text>
<text x="286.22" y="341.20" font-size="10.5" textLength="11.38" lengthAdjust="spacingAndGlyphs" fill="#000" stroke-width="0.6" xml:space="preserve">10</text>
<text x="297.48" y="336.00" font-size="8.2" textLength="5.30" lengthAdjust="spacingAndGlyphs" fill="#000" stroke-width="0.6" xml:space="preserve">4</text>
<text x="81.68" y="350.60" font-size="11" textLength="55.50" lengthAdjust="spacingAndGlyphs" fill="#000" stroke-width="0.6" xml:space="preserve">FL1-Height</text>
<text x="219.72" y="350.60" font-size="11" textLength="53.26" lengthAdjust="spacingAndGlyphs" fill="#000" stroke-width="0.6" xml:space="preserve">FL1-Height</text>
<text x="55.44" y="254.20" font-size="12.5" textLength="19.85" lengthAdjust="spacingAndGlyphs" fill="#000" stroke-width="0.6" xml:space="preserve">WT</text>
<text x="74.71" y="270.30" font-size="11" textLength="15.71" lengthAdjust="spacingAndGlyphs" fill="#000" stroke-width="0.6" xml:space="preserve">NC</text>
<text x="102.75" y="259.80" font-size="11" textLength="54.90" lengthAdjust="spacingAndGlyphs" fill="#000" stroke-width="0.6" xml:space="preserve">VWF+botro</text>
<text x="194.09" y="254.20" font-size="12.5" textLength="35.61" lengthAdjust="spacingAndGlyphs" fill="#000" stroke-width="0.6" xml:space="preserve">LIMK1</text>
<text x="229.85" y="249.50" font-size="9" textLength="13.80" lengthAdjust="spacingAndGlyphs" fill="#000" stroke-width="0.6" xml:space="preserve">-/-</text>
<text x="217.48" y="272.00" font-size="10.5" textLength="16.14" lengthAdjust="spacingAndGlyphs" fill="#000" stroke-width="0.6" xml:space="preserve">NC</text>
<text x="241.35" y="266.80" font-size="11" textLength="54.80" lengthAdjust="spacingAndGlyphs" fill="#000" stroke-width="0.6" xml:space="preserve">VWF+botro</text>
<polyline points="53.00,301.58 53.70,304.54 54.40,303.06 55.10,296.75 55.80,300.84 56.50,298.74 57.20,297.81 57.90,298.89 58.60,299.62 59.30,306.28 60.00,304.60 60.70,305.77 61.40,304.38 62.10,300.78 62.80,301.32 63.50,301.62 64.20,300.15 64.90,301.16 65.60,304.16 66.30,297.76 67.00,299.37 67.70,300.83 68.40,302.11 69.10,301.35 69.80,301.57 70.50,296.69 71.20,296.66 71.90,296.94 72.60,296.28 73.30,298.64 74.00,299.58 74.70,297.23 75.40,292.84 76.10,293.93 76.80,296.48 77.50,296.72 78.20,294.25 78.90,292.29 79.60,291.76 80.30,292.62 81.00,293.01 81.70,288.88 82.40,286.98 83.10,284.86 83.80,284.68 84.50,287.97 85.20,285.61 85.90,286.83 86.60,280.36 87.30,281.22 88.00,282.88 88.70,281.15 89.40,276.66 90.10,277.50 90.80,277.49 91.50,276.37 92.20,273.53 92.90,271.18 93.60,276.23 94.30,274.11 95.00,276.01 95.70,274.64 96.40,271.66 97.10,273.80 97.80,275.23 98.50,279.82 99.20,282.91 99.90,287.40 100.60,291.85 101.30,296.58 102.00,302.04 102.70,304.02 103.40,305.91 104.10,308.80 104.80,310.20 105.50,312.05 106.20,313.88 106.90,316.42 107.60,317.31 108.30,318.93 109.00,319.35 109.70,319.03 110.40,319.04 111.10,320.90 111.80,320.44 112.50,321.49 113.20,322.29 113.90,322.53 114.60,322.77 115.30,322.24 116.00,322.88 116.70,322.35 117.40,322.10 118.10,322.52 118.80,322.36 119.50,323.13 120.20,323.30 120.90,322.27 121.60,322.38 122.30,322.81 123.00,323.01 123.70,323.87 124.40,323.92 125.10,324.03 125.80,323.73 126.50,323.72 127.20,323.12 127.90,323.31 128.60,322.73 129.30,324.07 130.00,323.19 130.70,322.88 131.40,323.27 132.10,323.29 132.80,323.95 133.50,322.81 134.20,323.18 134.90,324.25 135.60,324.20 136.30,323.85 137.00,323.75 137.70,323.22 138.40,324.27 139.10,324.10 139.80,323.72 140.50,323.16 141.20,323.26 141.90,323.54 142.60,323.47 143.30,323.05 144.00,323.61 144.70,323.69 145.40,323.44 146.10,323.61 146.80,323.54 147.50,323.62 148.20,324.02 148.90,323.83 149.60,323.36 150.30,324.33 151.00,323.89 151.70,323.81 152.40,324.23 153.10,324.31 153.80,324.47 154.50,324.42 155.20,324.21 155.90,324.30 156.60,323.41 157.30,324.29 158.00,323.59 158.70,323.60" fill="none" stroke="#000" stroke-width="1.1" stroke-linejoin="round"/>
<polyline points="53.00,315.13 53.70,316.21 54.40,315.02 55.10,317.49 55.80,317.98 56.50,318.25 57.20,316.09 57.90,318.10 58.60,318.98 59.30,316.26 60.00,316.99 60.70,317.36 61.40,317.94 62.10,316.62 62.80,317.67 63.50,316.69 64.20,317.53 64.90,316.81 65.60,317.09 66.30,315.22 67.00,316.66 67.70,316.71 68.40,316.74 69.10,314.46 69.80,317.70 70.50,316.45 71.20,315.43 71.90,316.09 72.60,316.47 73.30,316.48 74.00,315.26 74.70,314.90 75.40,314.83 76.10,315.91 76.80,314.25 77.50,312.40 78.20,313.46 78.90,312.14 79.60,311.03 80.30,314.08 81.00,311.19 81.70,311.64 82.40,310.57 83.10,309.04 83.80,311.66 84.50,311.36 85.20,308.23 85.90,308.58 86.60,307.81 87.30,306.38 88.00,307.47 88.70,307.22 89.40,306.45 90.10,305.46 90.80,302.45 91.50,302.89 92.20,303.86 92.90,304.48 93.60,303.29 94.30,303.46 95.00,304.81 95.70,301.81 96.40,302.64 97.10,302.66 97.80,305.13 98.50,302.43 99.20,302.07 99.90,303.84 100.60,305.11 101.30,303.76 102.00,306.66 102.70,304.78 103.40,307.33 104.10,307.08 104.80,312.09 105.50,311.83 106.20,314.26 106.90,313.77 107.60,310.78 108.30,309.31 109.00,310.20 109.70,309.00 110.40,308.05 111.10,308.18 111.80,305.94 112.50,304.92 113.20,303.74 113.90,302.48 114.60,301.16 115.30,298.64 116.00,296.79 116.70,294.15 117.40,291.56 118.10,290.66 118.80,285.14 119.50,282.36 120.20,280.33 120.90,275.80 121.60,271.31 122.30,268.29 123.00,267.81 123.70,269.33 124.40,271.54 125.10,273.06 125.80,274.07 126.50,276.68 127.20,279.15 127.90,281.23 128.60,286.57 129.30,286.17 130.00,289.42 130.70,293.82 131.40,296.31 132.10,297.94 132.80,303.06 133.50,303.91 134.20,306.86 134.90,306.76 135.60,311.28 136.30,310.09 137.00,312.79 137.70,316.11 138.40,317.23 139.10,317.44 139.80,317.52 140.50,315.73 141.20,315.36 141.90,317.23 142.60,316.19 143.30,319.77 144.00,316.70 144.70,318.17 145.40,318.02 146.10,317.61 146.80,319.63 147.50,318.38 148.20,321.62 148.90,321.12 149.60,320.25 150.30,322.22 151.00,322.33 151.70,320.78 152.40,322.65 153.10,322.95 153.80,321.83 154.50,320.87 155.20,322.84 155.90,322.99 156.60,320.85 157.30,319.91 158.00,322.72 158.70,321.99" fill="none" stroke="#7a7a7a" stroke-width="1.0" stroke-linejoin="round"/>
<polyline points="192.50,297.96 193.20,301.51 193.90,301.53 194.60,308.05 195.30,304.68 196.00,303.86 196.70,302.98 197.40,305.54 198.10,310.74 198.80,305.16 199.50,307.27 200.20,311.46 200.90,304.41 201.60,306.34 202.30,309.53 203.00,303.21 203.70,308.73 204.40,307.21 205.10,301.24 205.80,304.18 206.50,303.55 207.20,304.25 207.90,300.96 208.60,301.19 209.30,299.76 210.00,299.79 210.70,298.56 211.40,303.72 212.10,303.13 212.80,298.60 213.50,300.61 214.20,298.54 214.90,296.42 215.60,296.72 216.30,299.64 217.00,295.36 217.70,295.58 218.40,296.48 219.10,291.71 219.80,293.42 220.50,288.41 221.20,290.84 221.90,290.28 222.60,289.47 223.30,289.27 224.00,286.82 224.70,287.33 225.40,282.45 226.10,283.20 226.80,281.25 227.50,280.28 228.20,282.04 228.90,283.38 229.60,283.07 230.30,277.22 231.00,280.28 231.70,274.27 232.40,272.40 233.10,276.15 233.80,280.54 234.50,284.17 235.20,282.27 235.90,279.20 236.60,278.78 237.30,278.11 238.00,285.85 238.70,290.55 239.40,292.92 240.10,297.71 240.80,300.51 241.50,303.99 242.20,305.25 242.90,306.08 243.60,308.10 244.30,309.93 245.00,311.51 245.70,312.59 246.40,316.48 247.10,318.56 247.80,318.20 248.50,320.62 249.20,320.15 249.90,319.70 250.60,321.45 251.30,321.03 252.00,321.95 252.70,322.40 253.40,321.88 254.10,320.90 254.80,322.44 255.50,322.19 256.20,322.62 256.90,321.34 257.60,322.37 258.30,322.55 259.00,321.51 259.70,321.62 260.40,321.47 261.10,320.81 261.80,321.26 262.50,321.46 263.20,321.02 263.90,322.33 264.60,321.67 265.30,322.01 266.00,321.55 266.70,321.80 267.40,322.68 268.10,322.21 268.80,322.56 269.50,322.32 270.20,322.68 270.90,323.46 271.60,322.30 272.30,322.90 273.00,323.33 273.70,322.18 274.40,323.95 275.10,323.03 275.80,322.54 276.50,323.58 277.20,323.71 277.90,323.35 278.60,323.93 279.30,322.29 280.00,323.18 280.70,323.63 281.40,323.99 282.10,323.45 282.80,323.39 283.50,322.97 284.20,323.35 284.90,323.33 285.60,324.05 286.30,323.90 287.00,323.74 287.70,324.12 288.40,322.42 289.10,323.84 289.80,323.24 290.50,323.83 291.20,322.94 291.90,323.29 292.60,324.02 293.30,322.45 294.00,322.98 294.70,323.39 295.40,324.13 296.10,322.98 296.80,324.10 297.50,322.95 298.20,323.08 298.90,323.60" fill="none" stroke="#000" stroke-width="1.1" stroke-linejoin="round"/>
<polyline points="192.50,315.35 193.20,316.52 193.90,317.22 194.60,315.65 195.30,318.13 196.00,318.44 196.70,318.24 197.40,320.13 198.10,320.68 198.80,319.13 199.50,320.65 200.20,317.77 200.90,317.86 201.60,319.97 202.30,318.27 203.00,319.23 203.70,318.86 204.40,317.55 205.10,319.69 205.80,319.60 206.50,317.41 207.20,317.77 207.90,319.54 208.60,319.58 209.30,319.01 210.00,317.27 210.70,316.37 211.40,316.24 212.10,314.85 212.80,315.59 213.50,314.22 214.20,313.60 214.90,314.12 215.60,312.74 216.30,313.97 217.00,314.54 217.70,314.15 218.40,315.08 219.10,314.52 219.80,313.37 220.50,314.09 221.20,312.22 221.90,313.09 222.60,310.54 223.30,310.58 224.00,311.38 224.70,309.18 225.40,308.02 226.10,308.20 226.80,305.66 227.50,306.70 228.20,302.94 228.90,302.90 229.60,301.84 230.30,301.29 231.00,302.92 231.70,298.77 232.40,298.92 233.10,299.07 233.80,298.69 234.50,298.11 235.20,296.52 235.90,296.41 236.60,299.17 237.30,297.02 238.00,297.29 238.70,298.56 239.40,300.50 240.10,303.27 240.80,303.65 241.50,304.21 242.20,305.20 242.90,306.52 243.60,306.51 244.30,305.71 245.00,305.07 245.70,305.70 246.40,308.17 247.10,308.23 247.80,309.52 248.50,307.51 249.20,311.29 249.90,310.02 250.60,311.87 251.30,309.96 252.00,309.07 252.70,309.32 253.40,307.91 254.10,306.54 254.80,302.30 255.50,301.53 256.20,298.08 256.90,294.09 257.60,291.09 258.30,289.13 259.00,285.82 259.70,285.79 260.40,281.63 261.10,279.40 261.80,282.42 262.50,281.30 263.20,283.89 263.90,284.45 264.60,284.43 265.30,283.68 266.00,284.97 266.70,284.48 267.40,290.56 268.10,294.38 268.80,296.54 269.50,299.91 270.20,303.55 270.90,306.53 271.60,308.57 272.30,311.32 273.00,309.12 273.70,312.79 274.40,313.21 275.10,311.72 275.80,312.76 276.50,316.00 277.20,316.38 277.90,315.40 278.60,317.65 279.30,315.58 280.00,316.64 280.70,315.79 281.40,317.98 282.10,316.24 282.80,316.84 283.50,319.19 284.20,318.44 284.90,319.23 285.60,319.69 286.30,319.44 287.00,318.18 287.70,320.19 288.40,318.30 289.10,318.84 289.80,318.98 290.50,317.00 291.20,316.18 291.90,317.36 292.60,316.90 293.30,314.78 294.00,314.43 294.70,314.23 295.40,316.32 296.10,317.48 296.80,319.70 297.50,317.29 298.20,320.67 298.90,320.85" fill="none" stroke="#7a7a7a" stroke-width="1.0" stroke-linejoin="round"/>
<text x="368.15" y="239.40" font-size="14" font-weight="bold" textLength="11.30" lengthAdjust="spacingAndGlyphs" fill="#000" stroke-width="0.6" xml:space="preserve">D</text>
<line x1="427.70" y1="238.30" x2="427.70" y2="356.70" stroke="#000" stroke-width="1.5"/>
<line x1="427.00" y1="356.00" x2="504.40" y2="356.00" stroke="#000" stroke-width="1.5"/>
<line x1="424.80" y1="237.90" x2="427.70" y2="237.90" stroke="#000" stroke-width="1.4"/>
<text x="405.41" y="241.40" font-size="10.2" textLength="17.29" lengthAdjust="spacingAndGlyphs" fill="#000" stroke-width="0.6" xml:space="preserve">100</text>
<line x1="424.80" y1="261.30" x2="427.70" y2="261.30" stroke="#000" stroke-width="1.4"/>
<text x="410.73" y="264.80" font-size="10.2" textLength="11.99" lengthAdjust="spacingAndGlyphs" fill="#000" stroke-width="0.6" xml:space="preserve">80</text>
<line x1="424.80" y1="284.80" x2="427.70" y2="284.80" stroke="#000" stroke-width="1.4"/>
<text x="410.65" y="288.30" font-size="10.2" textLength="12.08" lengthAdjust="spacingAndGlyphs" fill="#000" stroke-width="0.6" xml:space="preserve">60</text>
<line x1="424.80" y1="308.40" x2="427.70" y2="308.40" stroke="#000" stroke-width="1.4"/>
<text x="410.96" y="311.90" font-size="10.2" textLength="11.76" lengthAdjust="spacingAndGlyphs" fill="#000" stroke-width="0.6" xml:space="preserve">40</text>
<line x1="424.80" y1="331.90" x2="427.70" y2="331.90" stroke="#000" stroke-width="1.4"/>
<text x="410.65" y="335.40" font-size="10.2" textLength="12.07" lengthAdjust="spacingAndGlyphs" fill="#000" stroke-width="0.6" xml:space="preserve">20</text>
<line x1="424.80" y1="355.50" x2="427.70" y2="355.50" stroke="#000" stroke-width="1.4"/>
<text x="417.32" y="359.00" font-size="10.2" textLength="5.35" lengthAdjust="spacingAndGlyphs" fill="#000" stroke-width="0.6" xml:space="preserve">0</text>
<line x1="447.50" y1="356.00" x2="447.50" y2="359.50" stroke="#000" stroke-width="1.4"/>
<line x1="484.00" y1="356.00" x2="484.00" y2="359.50" stroke="#000" stroke-width="1.4"/>
<rect x="437.3" y="266.7" width="22.5" height="89.3" fill="#000"/>
<rect x="473.3" y="266.2" width="22.2" height="89.8" fill="#000"/>
<line x1="448.50" y1="261.00" x2="448.50" y2="267.00" stroke="#000" stroke-width="1.6"/>
<line x1="443.40" y1="261.00" x2="453.80" y2="261.00" stroke="#000" stroke-width="1.6"/>
<polyline points="449.80,246.00 449.80,239.40 484.20,239.40 484.20,246.00" fill="none" stroke="#000" stroke-width="1.5" stroke-linejoin="round"/>
<line x1="484.20" y1="254.20" x2="484.20" y2="267.00" stroke="#000" stroke-width="1.6"/>
<line x1="479.00" y1="254.20" x2="489.30" y2="254.20" stroke="#000" stroke-width="1.6"/>
<text x="457.72" y="235.60" font-size="12.5" textLength="21.39" lengthAdjust="spacingAndGlyphs" fill="#000" stroke-width="0.6" xml:space="preserve">n.s.</text>
<text transform="translate(402.20,356.50) rotate(-90)" x="-0.40" y="0" font-size="11.5" textLength="125.60" lengthAdjust="spacingAndGlyphs" fill="#000" stroke-width="0.6" xml:space="preserve">%  of  Adherent  Platelets</text>
<text x="439.95" y="372.20" font-size="13" textLength="19.14" lengthAdjust="spacingAndGlyphs" fill="#000" stroke-width="0.6" xml:space="preserve">WT</text>
<text x="467.99" y="372.20" font-size="13" textLength="35.61" lengthAdjust="spacingAndGlyphs" fill="#000" stroke-width="0.6" xml:space="preserve">LIMK1</text>
<text x="503.32" y="367.50" font-size="9" textLength="14.35" lengthAdjust="spacingAndGlyphs" fill="#000" stroke-width="0.6" xml:space="preserve">-/-</text>
<text x="-0.01" y="384.60" font-size="14" font-weight="bold" textLength="9.04" lengthAdjust="spacingAndGlyphs" fill="#000" stroke-width="0.45" xml:space="preserve">E</text>
<text x="30.54" y="400.20" font-size="13.3" textLength="51.10" lengthAdjust="spacingAndGlyphs" fill="#000" stroke-width="0.45" xml:space="preserve">Collagen</text>
<text x="91.01" y="400.20" font-size="13.3" textLength="39.26" lengthAdjust="spacingAndGlyphs" fill="#000" stroke-width="0.45" xml:space="preserve">1µg/ml</text>
<line x1="77.20" y1="403.80" x2="77.20" y2="407.00" stroke="#000" stroke-width="1.3"/>
<polygon points="73.10,406.30 81.30,406.30 77.20,419.80" fill="#000"/>
<line x1="76.40" y1="422.60" x2="76.40" y2="444.50" stroke="#000" stroke-width="1.3"/>
<text x="40.60" y="450.30" font-size="14.5" textLength="22.14" lengthAdjust="spacingAndGlyphs" fill="#000" stroke-width="0.45" xml:space="preserve">0%</text>
<line x1="63.60" y1="445.50" x2="63.60" y2="520.00" stroke="#000" stroke-width="1.2"/>
<polygon points="60.20,518.20 67.80,518.20 64.00,531.00" fill="#000"/>
<text x="40.71" y="544.60" font-size="14.5" textLength="29.52" lengthAdjust="spacingAndGlyphs" fill="#000" stroke-width="0.45" xml:space="preserve">50%</text>
<text transform="translate(33.30,545.70) rotate(-90)" x="-1.08" y="0" font-size="13" textLength="114.66" lengthAdjust="spacingAndGlyphs" fill="#000" stroke-width="0.45" xml:space="preserve">Light  transmittance</text>
<polygon points="69.60,442.26 69.90,442.26 70.20,442.27 70.50,442.29 70.80,442.30 71.10,442.31 71.40,442.33 71.70,442.34 72.00,442.36 72.30,442.37 72.60,442.39 72.90,442.40 73.20,442.42 73.50,442.43 73.80,442.44 74.10,442.46 74.40,442.47 74.70,442.49 75.00,442.50 75.30,442.52 75.60,442.53 75.90,442.55 76.20,442.56 76.50,442.57 76.80,442.59 77.10,442.60 77.40,442.62 77.70,442.63 78.00,442.65 78.30,442.66 78.60,442.68 78.90,442.69 79.20,442.70 79.50,442.72 79.80,442.72 80.10,442.73 80.40,442.72 80.70,442.71 81.00,442.70 81.30,442.68 81.60,442.66 81.90,442.64 82.20,442.62 82.50,442.60 82.80,442.58 83.10,442.57 83.40,442.55 83.70,442.53 84.00,442.51 84.30,442.49 84.60,442.47 84.90,442.45 85.20,442.43 85.50,442.42 85.80,442.40 86.10,442.38 86.40,442.36 86.70,442.34 87.00,442.32 87.30,442.30 87.60,442.20 87.90,441.98 88.20,441.64 88.50,441.18 88.80,440.59 89.10,441.64 89.40,440.89 89.70,440.15 90.00,439.40 90.30,438.66 90.60,437.91 90.90,437.16 91.20,436.51 91.50,435.96 91.80,435.50 92.10,435.14 92.40,434.88 92.70,434.71 93.00,434.54 93.30,434.37 93.60,434.21 93.90,434.04 94.20,433.87 94.50,433.70 94.80,433.53 95.10,433.39 95.40,433.32 95.70,433.32 96.00,433.39 96.30,433.53 96.60,433.74 96.90,434.01 97.20,434.27 97.50,434.53 97.80,434.79 98.10,435.06 98.40,435.32 98.70,435.58 99.00,435.84 99.30,436.16 99.60,436.54 99.90,436.98 100.20,437.47 100.50,438.02 100.80,438.63 101.10,439.24 101.40,439.85 101.70,440.46 102.00,441.07 102.30,441.67 102.60,442.33 102.90,443.04 103.20,443.82 103.50,444.65 103.80,445.56 104.10,446.52 104.40,447.51 104.70,448.49 105.00,449.48 105.30,450.46 105.60,451.45 105.90,452.44 106.20,453.63 106.50,455.05 106.80,456.67 107.10,458.51 107.40,460.56 107.70,462.83 108.00,465.01 108.30,466.95 108.60,468.66 108.90,470.11 109.20,471.33 109.50,472.31 109.80,473.12 110.10,473.99 110.40,475.00 110.70,476.16 111.00,477.48 111.30,478.94 111.60,480.55 111.90,482.20 112.20,483.77 112.50,485.25 112.80,486.64 113.10,487.95 113.40,489.17 113.70,490.36 114.00,491.55 114.30,492.74 114.60,493.93 114.90,495.09 115.20,496.15 115.50,497.11 115.80,497.97 116.10,498.73 116.40,499.40 116.70,500.00 117.00,500.60 117.30,501.20 117.60,501.80 117.90,502.40 118.20,502.97 118.50,503.51 118.80,504.06 119.10,504.61 119.40,505.16 119.70,505.68 120.00,506.18 120.30,506.66 120.60,507.10 120.90,507.53 121.20,507.93 121.50,508.32 121.80,508.72 122.10,509.12 122.40,509.52 122.70,509.92 123.00,510.32 123.30,510.72 123.60,511.11 123.90,511.51 124.20,511.91 124.50,512.31 124.80,512.71 125.10,513.11 125.40,513.51 125.70,513.89 126.00,514.24 126.30,514.55 126.60,514.82 126.90,515.06 127.20,515.26 127.50,515.43 127.80,515.60 128.10,515.78 128.40,515.95 128.70,516.12 129.00,516.30 129.30,516.47 129.60,516.64 129.90,516.82 130.20,516.99 130.50,517.16 130.80,517.33 131.10,517.51 131.40,517.68 131.70,517.85 132.00,518.03 132.30,518.25 132.60,518.47 132.90,518.70 133.20,518.92 133.50,519.15 133.80,519.37 134.10,519.60 134.40,519.82 134.70,520.05 135.00,520.27 135.30,520.49 135.60,520.72 135.90,520.94 136.20,521.17 136.50,521.39 136.80,521.62 137.10,521.84 137.40,522.07 137.70,522.29 138.00,522.51 138.30,522.71 138.60,522.88 138.90,523.04 139.20,523.18 139.50,523.30 139.80,523.41 140.10,523.51 140.40,523.62 140.70,523.72 141.00,523.83 141.30,523.94 141.60,524.04 141.90,524.15 142.20,524.25 142.50,524.36 142.80,524.46 143.10,524.57 143.40,524.68 143.70,524.78 144.00,524.89 144.30,524.99 144.60,525.10 144.90,525.21 145.20,525.31 145.50,525.42 145.80,525.52 146.10,525.63 146.40,525.74 146.70,525.84 147.00,525.95 147.30,526.05 147.60,526.16 147.90,526.26 148.20,526.37 148.50,526.48 148.80,526.58 149.10,526.69 149.40,526.79 149.70,526.90 150.00,527.01 150.30,527.11 150.60,527.22 150.90,527.32 151.20,527.43 151.50,527.54 151.80,527.64 152.10,527.75 152.40,527.85 152.70,527.96 153.00,528.06 153.30,528.17 153.60,528.26 153.90,528.34 154.20,528.42 154.50,528.48 154.80,528.54 155.10,528.59 155.40,528.64 155.70,528.69 156.00,528.74 156.30,528.79 156.60,528.84 156.90,528.89 157.20,528.93 157.50,528.98 157.80,529.03 158.10,529.08 158.40,529.13 158.70,529.18 159.00,529.23 159.30,529.28 159.60,529.33 159.90,529.38 160.20,529.43 160.50,529.48 160.80,529.53 161.10,529.58 161.40,529.63 161.70,529.67 162.00,529.72 162.30,529.77 162.60,529.82 162.90,529.87 163.20,529.92 163.50,529.97 163.80,530.02 164.10,530.07 164.40,530.12 164.70,530.17 165.00,530.22 165.30,530.27 165.60,530.32 165.90,530.37 166.20,530.42 166.50,530.46 166.80,530.51 167.10,530.56 167.40,530.61 167.70,530.66 168.00,530.71 168.30,530.76 168.60,530.81 168.90,530.86 169.20,530.91 169.50,530.96 169.80,531.01 170.10,531.06 170.40,531.11 170.70,531.16 171.00,531.20 171.30,531.25 171.60,531.30 171.90,531.35 172.20,531.40 172.50,531.45 172.80,531.50 173.10,531.55 173.40,531.60 173.70,531.65 174.00,531.70 174.30,531.75 174.60,531.80 174.90,531.85 175.20,531.90 175.50,531.95 175.80,531.99 176.10,532.04 176.40,532.08 176.70,532.12 176.70,536.92 176.40,536.88 176.10,536.84 175.80,536.79 175.50,536.75 175.20,536.70 174.90,536.65 174.60,536.60 174.30,536.55 174.00,536.50 173.70,536.45 173.40,536.40 173.10,536.35 172.80,536.30 172.50,536.25 172.20,536.20 171.90,536.15 171.60,536.10 171.30,536.05 171.00,536.00 170.70,535.96 170.40,535.91 170.10,535.86 169.80,535.81 169.50,535.76 169.20,535.71 168.90,535.66 168.60,535.61 168.30,535.56 168.00,535.51 167.70,535.46 167.40,535.41 167.10,535.36 166.80,535.31 166.50,535.26 166.20,535.22 165.90,535.17 165.60,535.12 165.30,535.07 165.00,535.02 164.70,534.97 164.40,534.92 164.10,534.87 163.80,534.82 163.50,534.77 163.20,534.72 162.90,534.67 162.60,534.62 162.30,534.57 162.00,534.52 161.70,534.47 161.40,534.43 161.10,534.38 160.80,534.33 160.50,534.28 160.20,534.23 159.90,534.18 159.60,534.13 159.30,534.08 159.00,534.03 158.70,533.98 158.40,533.93 158.10,533.88 157.80,533.83 157.50,533.78 157.20,533.73 156.90,533.69 156.60,533.64 156.30,533.59 156.00,533.54 155.70,533.49 155.40,533.44 155.10,533.39 154.80,533.34 154.50,533.28 154.20,533.22 153.90,533.14 153.60,533.06 153.30,532.97 153.00,532.86 152.70,532.76 152.40,532.65 152.10,532.55 151.80,532.44 151.50,532.34 151.20,532.23 150.90,532.12 150.60,532.02 150.30,531.91 150.00,531.81 149.70,531.70 149.40,531.59 149.10,531.49 148.80,531.38 148.50,531.28 148.20,531.17 147.90,531.06 147.60,530.96 147.30,530.85 147.00,530.75 146.70,530.64 146.40,530.54 146.10,530.43 145.80,530.32 145.50,530.22 145.20,530.11 144.90,530.01 144.60,529.90 144.30,529.79 144.00,529.69 143.70,529.58 143.40,529.48 143.10,529.37 142.80,529.26 142.50,529.16 142.20,529.05 141.90,528.95 141.60,528.84 141.30,528.74 141.00,528.63 140.70,528.52 140.40,528.42 140.10,528.31 139.80,528.21 139.50,528.10 139.20,527.98 138.90,527.84 138.60,527.68 138.30,527.51 138.00,527.31 137.70,527.09 137.40,526.87 137.10,526.64 136.80,526.42 136.50,526.19 136.20,525.97 135.90,525.74 135.60,525.52 135.30,525.29 135.00,525.07 134.70,524.85 134.40,524.62 134.10,524.40 133.80,524.17 133.50,523.95 133.20,523.72 132.90,523.50 132.60,523.27 132.30,523.05 132.00,522.83 131.70,522.55 131.40,522.27 131.10,522.00 130.80,521.72 130.50,521.45 130.20,521.17 129.90,520.90 129.60,520.62 129.30,520.34 129.00,520.07 128.70,519.79 128.40,519.52 128.10,519.24 127.80,518.96 127.50,518.69 127.20,518.41 126.90,518.11 126.60,517.77 126.30,517.40 126.00,516.98 125.70,516.53 125.40,516.04 125.10,515.54 124.80,515.04 124.50,514.54 124.20,514.04 123.90,513.54 123.60,513.03 123.30,512.53 123.00,512.03 122.70,511.53 122.40,511.03 122.10,510.53 121.80,510.03 121.50,509.52 121.20,509.02 120.90,508.52 120.60,508.00 120.30,507.44 120.00,506.87 119.70,506.27 119.40,505.64 119.10,504.99 118.80,504.34 118.50,503.69 118.20,503.03 117.90,502.40 117.60,501.80 117.30,501.20 117.00,500.60 116.70,500.00 116.40,499.40 116.10,498.73 115.80,497.97 115.50,497.11 115.20,496.15 114.90,495.09 114.60,493.93 114.30,492.74 114.00,491.55 113.70,490.36 113.40,489.17 113.10,487.95 112.80,486.64 112.50,485.25 112.20,483.77 111.90,482.20 111.60,480.55 111.30,478.94 111.00,477.48 110.70,476.16 110.40,475.00 110.10,473.99 109.80,473.12 109.50,472.31 109.20,471.33 108.90,470.11 108.60,468.66 108.30,466.95 108.00,465.01 107.70,462.83 107.40,460.56 107.10,458.51 106.80,456.67 106.50,455.05 106.20,453.63 105.90,452.44 105.60,451.45 105.30,450.46 105.00,449.48 104.70,448.49 104.40,447.51 104.10,446.52 103.80,445.56 103.50,444.65 103.20,443.82 102.90,443.04 102.60,442.33 102.30,441.67 102.00,441.07 101.70,440.46 101.40,439.85 101.10,439.24 100.80,438.63 100.50,438.02 100.20,437.47 99.90,436.98 99.60,436.54 99.30,436.16 99.00,435.84 98.70,435.58 98.40,435.32 98.10,435.06 97.80,434.79 97.50,434.53 97.20,434.27 96.90,434.01 96.60,433.74 96.30,433.53 96.00,433.39 95.70,433.32 95.40,433.32 95.10,433.39 94.80,433.53 94.50,433.70 94.20,433.87 93.90,434.04 93.60,434.21 93.30,434.37 93.00,434.54 92.70,434.71 92.40,434.88 92.10,435.14 91.80,435.50 91.50,435.96 91.20,436.51 90.90,437.16 90.60,437.91 90.30,438.66 90.00,439.40 89.70,440.15 89.40,440.89 89.10,441.64 88.80,444.09 88.50,444.68 88.20,445.14 87.90,445.48 87.60,445.70 87.30,445.80 87.00,445.82 86.70,445.84 86.40,445.86 86.10,445.88 85.80,445.90 85.50,445.92 85.20,445.93 84.90,445.95 84.60,445.97 84.30,445.99 84.00,446.01 83.70,446.03 83.40,446.05 83.10,446.07 82.80,446.08 82.50,446.10 82.20,446.12 81.90,446.14 81.60,446.16 81.30,446.18 81.00,446.20 80.70,446.21 80.40,446.22 80.10,446.23 79.80,446.22 79.50,446.22 79.20,446.20 78.90,446.19 78.60,446.18 78.30,446.16 78.00,446.15 77.70,446.13 77.40,446.12 77.10,446.10 76.80,446.09 76.50,446.07 76.20,446.06 75.90,446.05 75.60,446.03 75.30,446.02 75.00,446.00 74.70,445.99 74.40,445.97 74.10,445.96 73.80,445.94 73.50,445.93 73.20,445.92 72.90,445.90 72.60,445.89 72.30,445.87 72.00,445.86 71.70,445.84 71.40,445.83 71.10,445.81 70.80,445.80 70.50,445.79 70.20,445.77 69.90,445.76 69.60,445.76" fill="#000"/>
<polyline points="69.60,445.40 69.90,441.46 70.20,448.93 70.50,443.31 70.80,444.70 71.10,440.26 71.40,450.48 71.70,443.66 72.00,444.77 72.30,443.72 72.60,450.54 72.90,442.96 73.20,444.57 73.50,441.40 73.80,447.34 74.10,443.81 74.40,447.45 74.70,443.69 75.00,446.23 75.30,442.56 75.60,446.59 75.90,442.48 76.20,444.71 76.50,443.92 76.80,450.74 77.10,443.64 77.40,446.97 77.70,442.94 78.00,445.56 78.30,439.74 78.60,447.79 78.90,443.69 79.20,444.89 79.50,443.80 79.80,446.28 80.10,444.00 80.40,444.87 80.70,444.06 81.00,444.96 81.30,441.94 81.60,446.06 81.90,443.99 82.20,444.99 82.50,442.79 82.80,446.81 83.10,437.92 83.40,445.18 83.70,442.88 84.00,445.97 84.30,441.59 84.60,446.52 84.90,443.50 85.20,446.90 85.50,443.77 85.80,445.65 86.10,443.60 86.40,446.76 86.70,443.26 87.00,444.76 87.30,442.43 87.60,445.58 87.90,442.59 88.20,445.50 88.50,437.93 88.80,444.06 89.10,441.24 89.40,441.85 89.70,439.52 90.00,439.66 90.30,438.38 90.60,438.54 90.90,437.07 91.20,437.47 91.50,435.90 91.80,435.68 92.10,434.83 92.40,435.31 92.70,434.65 93.00,435.09 93.30,434.08 93.60,434.42 93.90,433.84 94.20,433.93 94.50,433.64 94.80,433.91 95.10,432.85 95.40,433.61 95.70,433.26 96.00,434.35 96.30,433.30 96.60,434.33 96.90,433.05 97.20,434.33 97.50,434.45 97.80,435.40 98.10,434.56 98.40,435.66 98.70,434.86 99.00,436.43 99.30,436.05 99.60,436.92 99.90,436.65 100.20,437.57 100.50,437.72 100.80,438.69 101.10,439.12 101.40,440.01 101.70,440.40 102.00,441.35 102.30,441.61 102.60,442.40 102.90,442.71 103.20,444.78 103.50,444.59 103.80,445.76 104.10,446.36 104.40,447.57 104.70,448.42 105.00,450.37 105.30,450.40 105.60,452.41 105.90,452.13 106.20,453.72 106.50,454.44 106.80,457.63 107.10,457.55 107.40,460.65 107.70,462.77 108.00,465.63 108.30,466.30 108.60,468.72 108.90,470.05 109.20,471.85 109.50,472.18 109.80,473.35 110.10,473.83 110.40,475.18 110.70,475.99 111.00,477.55 111.30,478.88 111.60,481.51 111.90,482.14 112.20,484.22 112.50,484.53 112.80,487.33 113.10,487.78 113.40,489.46 113.70,489.81 114.00,492.12 114.30,492.42 114.60,494.16 114.90,493.42 115.20,497.35 115.50,496.78 115.80,498.22 116.10,498.11 116.40,501.31 116.70,499.56 117.00,503.41 117.30,500.97 117.60,502.94 117.90,502.20 118.20,503.60 118.50,503.39 118.80,504.66 119.10,504.52 119.40,505.63 119.70,505.04 120.00,507.17 120.30,504.08 120.60,507.81 120.90,507.13 121.20,510.88 121.50,508.46 121.80,511.28 122.10,505.14 122.40,511.90 122.70,508.31 123.00,513.33 123.30,510.09 123.60,512.40 123.90,512.19 124.20,514.71 124.50,511.74 124.80,515.97 125.10,513.95 125.40,515.68 125.70,514.56 126.00,516.26 126.30,514.45 126.60,520.16 126.90,515.89 127.20,518.48 127.50,516.69 127.80,517.75 128.10,512.95 128.40,518.10 128.70,515.98 129.00,520.15 129.30,516.32 129.60,521.65 129.90,518.49 130.20,519.55 130.50,517.18 130.80,519.90 131.10,519.31 131.40,522.12 131.70,518.24 132.00,520.80 132.30,520.28 132.60,522.56 132.90,520.62 133.20,523.19 133.50,521.06 133.80,522.88 134.10,521.63 134.40,522.69 134.70,518.60 135.00,526.56 135.30,521.58 135.60,525.09 135.90,522.11 136.20,524.93 136.50,523.26 136.80,525.27 137.10,523.87 137.40,524.84 137.70,522.52 138.00,526.41 138.30,523.43 138.60,525.75 138.90,524.26 139.20,527.19 139.50,525.26 139.80,528.93 140.10,520.90 140.40,527.02 140.70,524.70 141.00,527.68 141.30,525.58 141.60,527.63 141.90,526.10 142.20,529.08 142.50,526.39 142.80,527.23 143.10,525.00 143.40,527.81 143.70,523.10 144.00,529.63 144.30,524.61 144.60,531.75 144.90,527.05 145.20,530.34 145.50,523.55 145.80,533.84 146.10,527.66 146.40,528.51 146.70,527.87 147.00,529.28 147.30,527.70 147.60,531.26 147.90,528.29 148.20,529.34 148.50,527.42 148.80,529.65 149.10,528.09 149.40,529.86 149.70,528.79 150.00,530.04 150.30,527.63 150.60,533.51 150.90,526.14 151.20,530.20 151.50,529.36 151.80,531.77 152.10,527.75 152.40,531.42 152.70,529.99 153.00,530.83 153.30,530.20 153.60,532.26 153.90,528.81 154.20,531.77 154.50,525.72 154.80,531.40 155.10,530.14 155.40,532.31 155.70,528.12 156.00,533.45 156.30,527.05 156.60,532.28 156.90,530.55 157.20,532.05 157.50,530.78 157.80,531.80 158.10,525.56 158.40,532.64 158.70,525.66 159.00,532.86 159.30,530.63 159.60,533.70 159.90,530.85 160.20,533.66 160.50,531.47 160.80,533.39 161.10,526.06 161.40,533.53 161.70,529.48 162.00,536.17 162.30,531.43 162.60,533.86 162.90,531.57 163.20,533.85 163.50,530.10 163.80,532.79 164.10,531.10 164.40,534.75 164.70,526.65 165.00,533.14 165.30,529.60 165.60,533.45 165.90,532.33 166.20,533.96 166.50,531.03 166.80,533.28 167.10,532.56 167.40,533.38 167.70,530.81 168.00,533.62 168.30,531.01 168.60,534.29 168.90,532.48 169.20,539.23 169.50,532.99 169.80,536.86 170.10,533.04 170.40,534.14 170.70,530.24 171.00,535.70 171.30,533.12 171.60,538.28 171.90,532.82 172.20,537.70 172.50,533.48 172.80,534.66 173.10,530.87 173.40,536.11 173.70,530.37 174.00,534.70 174.30,531.42 174.60,537.99 174.90,532.05 175.20,536.35 175.50,533.55 175.80,537.09 176.10,530.98 176.40,536.06 176.70,532.50" fill="none" stroke="#000" stroke-width="1.3" stroke-linejoin="round"/>
<polygon points="69.60,441.25 69.90,441.25 70.20,441.25 70.50,441.25 70.80,441.25 71.10,441.25 71.40,441.25 71.70,441.25 72.00,441.25 72.30,441.25 72.60,441.25 72.90,441.25 73.20,441.25 73.50,441.25 73.80,441.25 74.10,441.25 74.40,441.25 74.70,441.25 75.00,441.25 75.30,441.25 75.60,441.25 75.90,441.25 76.20,441.25 76.50,441.25 76.80,441.25 77.10,441.25 77.40,441.25 77.70,441.25 78.00,441.25 78.30,441.25 78.60,441.25 78.90,441.25 79.20,441.25 79.50,441.25 79.80,441.23 80.10,441.20 80.40,441.16 80.70,441.10 81.00,441.04 81.30,440.96 81.60,440.89 81.90,440.81 82.20,440.74 82.50,440.66 82.80,440.59 83.10,440.51 83.40,440.44 83.70,440.36 84.00,440.29 84.30,440.21 84.60,440.14 84.90,440.06 85.20,439.99 85.50,439.91 85.80,439.84 86.10,439.76 86.40,439.69 86.70,439.61 87.00,439.54 87.30,439.46 87.60,439.32 87.90,439.09 88.20,438.75 88.50,438.32 88.80,437.79 89.10,438.92 89.40,438.26 89.70,437.60 90.00,436.95 90.30,436.29 90.60,435.63 90.90,434.97 91.20,434.32 91.50,433.66 91.80,433.00 92.10,432.34 92.40,431.79 92.70,431.34 93.00,430.99 93.30,430.74 93.60,430.60 93.90,430.56 94.20,430.52 94.50,430.48 94.80,430.45 95.10,430.41 95.40,430.37 95.70,430.33 96.00,430.29 96.30,430.25 96.60,430.21 96.90,430.21 97.20,430.25 97.50,430.34 97.80,430.49 98.10,430.68 98.40,430.93 98.70,431.19 99.00,431.45 99.30,431.71 99.60,431.97 99.90,432.23 100.20,432.49 100.50,432.75 100.80,433.01 101.10,433.27 101.40,433.55 101.70,433.87 102.00,434.23 102.30,434.64 102.60,435.10 102.90,435.60 103.20,436.12 103.50,436.65 103.80,437.18 104.10,437.71 104.40,438.24 104.70,438.77 105.00,439.29 105.30,439.82 105.60,440.35 105.90,440.88 106.20,441.47 106.50,442.12 106.80,442.84 107.10,443.62 107.40,444.47 107.70,445.37 108.00,446.28 108.30,447.19 108.60,448.09 108.90,449.00 109.20,449.91 109.50,450.81 109.80,451.72 110.10,452.62 110.40,453.53 110.70,454.51 111.00,455.59 111.30,456.78 111.60,458.08 111.90,459.48 112.20,460.99 112.50,462.54 112.80,464.08 113.10,465.62 113.40,467.10 113.70,468.46 114.00,469.72 114.30,470.87 114.60,471.91 114.90,472.85 115.20,473.78 115.50,474.78 115.80,475.86 116.10,477.03 116.40,478.27 116.70,479.59 117.00,480.96 117.30,482.33 117.60,483.70 117.90,485.07 118.20,486.32 118.50,487.48 118.80,488.54 119.10,489.53 119.40,490.43 119.70,491.24 120.00,492.06 120.30,492.87 120.60,493.69 120.90,494.50 121.20,495.32 121.50,496.13 121.80,496.95 122.10,497.76 122.40,498.58 122.70,499.32 123.00,500.00 123.30,500.61 123.60,501.15 123.90,501.61 124.20,502.01 124.50,502.41 124.80,502.81 125.10,503.21 125.40,503.61 125.70,504.00 126.00,504.40 126.30,504.80 126.60,505.20 126.90,505.60 127.20,506.00 127.50,506.40 127.80,506.79 128.10,507.19 128.40,507.59 128.70,507.99 129.00,508.39 129.30,508.79 129.60,509.19 129.90,509.58 130.20,509.98 130.50,510.34 130.80,510.65 131.10,510.91 131.40,511.13 131.70,511.30 132.00,511.43 132.30,511.61 132.60,511.79 132.90,511.97 133.20,512.15 133.50,512.33 133.80,512.51 134.10,512.68 134.40,512.86 134.70,513.04 135.00,513.22 135.30,513.40 135.60,513.58 135.90,513.76 136.20,513.94 136.50,514.12 136.80,514.30 137.10,514.48 137.40,514.66 137.70,514.84 138.00,515.02 138.30,515.20 138.60,515.38 138.90,515.56 139.20,515.74 139.50,515.92 139.80,516.10 140.10,516.27 140.40,516.45 140.70,516.63 141.00,516.81 141.30,516.99 141.60,517.17 141.90,517.35 142.20,517.53 142.50,517.70 142.80,517.86 143.10,518.00 143.40,518.12 143.70,518.22 144.00,518.30 144.30,518.37 144.60,518.44 144.90,518.51 145.20,518.58 145.50,518.65 145.80,518.72 146.10,518.79 146.40,518.86 146.70,518.93 147.00,518.99 147.30,519.06 147.60,519.13 147.90,519.20 148.20,519.27 148.50,519.34 148.80,519.41 149.10,519.48 149.40,519.55 149.70,519.62 150.00,519.69 150.30,519.76 150.60,519.83 150.90,519.90 151.20,519.97 151.50,520.04 151.80,520.11 152.10,520.18 152.40,520.25 152.70,520.32 153.00,520.39 153.30,520.46 153.60,520.53 153.90,520.60 154.20,520.67 154.50,520.74 154.80,520.81 155.10,520.88 155.40,520.95 155.70,521.02 156.00,521.09 156.30,521.16 156.60,521.23 156.90,521.30 157.20,521.37 157.50,521.44 157.80,521.51 158.10,521.57 158.40,521.64 158.70,521.71 159.00,521.78 159.30,521.85 159.60,521.92 159.90,521.99 160.20,522.06 160.50,522.13 160.80,522.20 161.10,522.27 161.40,522.32 161.70,522.36 162.00,522.40 162.30,522.42 162.60,522.44 162.90,522.45 163.20,522.46 163.50,522.47 163.80,522.48 164.10,522.50 164.40,522.51 164.70,522.52 165.00,522.53 165.30,522.54 165.60,522.55 165.90,522.57 166.20,522.58 166.50,522.59 166.80,522.60 167.10,522.61 167.40,522.62 167.70,522.64 168.00,522.65 168.30,522.66 168.60,522.67 168.90,522.68 169.20,522.69 169.50,522.71 169.80,522.72 170.10,522.73 170.40,522.74 170.70,522.75 171.00,522.76 171.30,522.78 171.60,522.79 171.90,522.80 172.20,522.81 172.50,522.82 172.80,522.83 173.10,522.85 173.40,522.86 173.70,522.87 174.00,522.88 174.30,522.89 174.60,522.90 174.90,522.92 175.20,522.93 175.50,522.94 175.80,522.95 176.10,522.96 176.40,522.97 176.70,522.98 176.70,527.78 176.40,527.77 176.10,527.76 175.80,527.75 175.50,527.74 175.20,527.73 174.90,527.72 174.60,527.70 174.30,527.69 174.00,527.68 173.70,527.67 173.40,527.66 173.10,527.65 172.80,527.63 172.50,527.62 172.20,527.61 171.90,527.60 171.60,527.59 171.30,527.58 171.00,527.56 170.70,527.55 170.40,527.54 170.10,527.53 169.80,527.52 169.50,527.51 169.20,527.49 168.90,527.48 168.60,527.47 168.30,527.46 168.00,527.45 167.70,527.44 167.40,527.42 167.10,527.41 166.80,527.40 166.50,527.39 166.20,527.38 165.90,527.37 165.60,527.35 165.30,527.34 165.00,527.33 164.70,527.32 164.40,527.31 164.10,527.30 163.80,527.28 163.50,527.27 163.20,527.26 162.90,527.25 162.60,527.24 162.30,527.22 162.00,527.20 161.70,527.16 161.40,527.12 161.10,527.07 160.80,527.00 160.50,526.93 160.20,526.86 159.90,526.79 159.60,526.72 159.30,526.65 159.00,526.58 158.70,526.51 158.40,526.44 158.10,526.37 157.80,526.31 157.50,526.24 157.20,526.17 156.90,526.10 156.60,526.03 156.30,525.96 156.00,525.89 155.70,525.82 155.40,525.75 155.10,525.68 154.80,525.61 154.50,525.54 154.20,525.47 153.90,525.40 153.60,525.33 153.30,525.26 153.00,525.19 152.70,525.12 152.40,525.05 152.10,524.98 151.80,524.91 151.50,524.84 151.20,524.77 150.90,524.70 150.60,524.63 150.30,524.56 150.00,524.49 149.70,524.42 149.40,524.35 149.10,524.28 148.80,524.21 148.50,524.14 148.20,524.07 147.90,524.00 147.60,523.93 147.30,523.86 147.00,523.79 146.70,523.73 146.40,523.66 146.10,523.59 145.80,523.52 145.50,523.45 145.20,523.38 144.90,523.31 144.60,523.24 144.30,523.17 144.00,523.10 143.70,523.02 143.40,522.92 143.10,522.80 142.80,522.66 142.50,522.50 142.20,522.33 141.90,522.15 141.60,521.97 141.30,521.79 141.00,521.61 140.70,521.43 140.40,521.25 140.10,521.07 139.80,520.90 139.50,520.72 139.20,520.54 138.90,520.36 138.60,520.18 138.30,520.00 138.00,519.82 137.70,519.64 137.40,519.46 137.10,519.28 136.80,519.10 136.50,518.92 136.20,518.74 135.90,518.56 135.60,518.38 135.30,518.20 135.00,518.02 134.70,517.84 134.40,517.66 134.10,517.48 133.80,517.31 133.50,517.13 133.20,516.95 132.90,516.77 132.60,516.59 132.30,516.41 132.00,516.23 131.70,516.00 131.40,515.72 131.10,515.40 130.80,515.03 130.50,514.62 130.20,514.17 129.90,513.66 129.60,513.16 129.30,512.66 129.00,512.16 128.70,511.66 128.40,511.16 128.10,510.66 127.80,510.15 127.50,509.65 127.20,509.15 126.90,508.65 126.60,508.15 126.30,507.65 126.00,507.15 125.70,506.64 125.40,506.14 125.10,505.64 124.80,505.14 124.50,504.64 124.20,504.14 123.90,503.64 123.60,503.07 123.30,502.43 123.00,501.72 122.70,500.94 122.40,500.09 122.10,499.17 121.80,498.25 121.50,497.33 121.20,496.42 120.90,495.50 120.60,494.58 120.30,493.66 120.00,492.74 119.70,491.82 119.40,490.91 119.10,489.90 118.80,488.82 118.50,487.65 118.20,486.39 117.90,485.07 117.60,483.70 117.30,482.33 117.00,480.96 116.70,479.59 116.40,478.27 116.10,477.03 115.80,475.86 115.50,474.78 115.20,473.78 114.90,472.85 114.60,471.91 114.30,470.87 114.00,469.72 113.70,468.46 113.40,467.10 113.10,465.62 112.80,464.08 112.50,462.54 112.20,460.99 111.90,459.48 111.60,458.08 111.30,456.78 111.00,455.59 110.70,454.51 110.40,453.53 110.10,452.62 109.80,451.72 109.50,450.81 109.20,449.91 108.90,449.00 108.60,448.09 108.30,447.19 108.00,446.28 107.70,445.37 107.40,444.47 107.10,443.62 106.80,442.84 106.50,442.12 106.20,441.47 105.90,440.88 105.60,440.35 105.30,439.82 105.00,439.29 104.70,438.77 104.40,438.24 104.10,437.71 103.80,437.18 103.50,436.65 103.20,436.12 102.90,435.60 102.60,435.10 102.30,434.64 102.00,434.23 101.70,433.87 101.40,433.55 101.10,433.27 100.80,433.01 100.50,432.75 100.20,432.49 99.90,432.23 99.60,431.97 99.30,431.71 99.00,431.45 98.70,431.19 98.40,430.93 98.10,430.68 97.80,430.49 97.50,430.34 97.20,430.25 96.90,430.21 96.60,430.21 96.30,430.25 96.00,430.29 95.70,430.33 95.40,430.37 95.10,430.41 94.80,430.45 94.50,430.48 94.20,430.52 93.90,430.56 93.60,430.60 93.30,430.74 93.00,430.99 92.70,431.34 92.40,431.79 92.10,432.34 91.80,433.00 91.50,433.66 91.20,434.32 90.90,434.97 90.60,435.63 90.30,436.29 90.00,436.95 89.70,437.60 89.40,438.26 89.10,438.92 88.80,441.29 88.50,441.82 88.20,442.25 87.90,442.59 87.60,442.82 87.30,442.96 87.00,443.04 86.70,443.11 86.40,443.19 86.10,443.26 85.80,443.34 85.50,443.41 85.20,443.49 84.90,443.56 84.60,443.64 84.30,443.71 84.00,443.79 83.70,443.86 83.40,443.94 83.10,444.01 82.80,444.09 82.50,444.16 82.20,444.24 81.90,444.31 81.60,444.39 81.30,444.46 81.00,444.54 80.70,444.60 80.40,444.66 80.10,444.70 79.80,444.73 79.50,444.75 79.20,444.75 78.90,444.75 78.60,444.75 78.30,444.75 78.00,444.75 77.70,444.75 77.40,444.75 77.10,444.75 76.80,444.75 76.50,444.75 76.20,444.75 75.90,444.75 75.60,444.75 75.30,444.75 75.00,444.75 74.70,444.75 74.40,444.75 74.10,444.75 73.80,444.75 73.50,444.75 73.20,444.75 72.90,444.75 72.60,444.75 72.30,444.75 72.00,444.75 71.70,444.75 71.40,444.75 71.10,444.75 70.80,444.75 70.50,444.75 70.20,444.75 69.90,444.75 69.60,444.75" fill="#000"/>
<polyline points="69.60,448.62 69.90,442.60 70.20,444.87 70.50,441.98 70.80,443.43 71.10,442.11 71.40,446.95 71.70,442.53 72.00,445.08 72.30,440.99 72.60,443.84 72.90,442.60 73.20,444.74 73.50,441.20 73.80,443.40 74.10,441.39 74.40,444.37 74.70,441.84 75.00,449.40 75.30,438.08 75.60,449.40 75.90,442.60 76.20,443.40 76.50,441.71 76.80,449.40 77.10,439.33 77.40,444.81 77.70,439.63 78.00,444.43 78.30,441.69 78.60,443.40 78.90,442.60 79.20,445.99 79.50,442.14 79.80,443.38 80.10,442.55 80.40,443.31 80.70,438.38 81.00,444.05 81.30,441.61 81.60,443.80 81.90,441.48 82.20,442.89 82.50,441.16 82.80,445.03 83.10,440.26 83.40,442.90 83.70,441.71 84.00,443.09 84.30,436.20 84.60,444.71 84.90,439.87 85.20,444.96 85.50,438.19 85.80,442.08 86.10,439.48 86.40,447.55 86.70,440.40 87.00,442.25 87.30,440.50 87.60,447.47 87.90,436.65 88.20,441.43 88.50,437.51 88.80,444.77 89.10,437.96 89.40,438.32 89.70,437.42 90.00,437.79 90.30,436.10 90.60,435.69 90.90,434.55 91.20,434.38 91.50,432.70 91.80,433.46 92.10,431.38 92.40,431.85 92.70,431.06 93.00,431.06 93.30,430.53 93.60,430.85 93.90,430.50 94.20,430.62 94.50,430.42 94.80,430.51 95.10,430.13 95.40,430.44 95.70,430.27 96.00,430.50 96.30,430.10 96.60,430.42 96.90,429.58 97.20,430.48 97.50,430.21 97.80,430.58 98.10,430.00 98.40,430.99 98.70,430.78 99.00,431.59 99.30,431.20 99.60,432.05 99.90,431.58 100.20,432.55 100.50,432.26 100.80,433.10 101.10,432.91 101.40,433.72 101.70,433.66 102.00,434.44 102.30,434.58 102.60,436.06 102.90,435.30 103.20,436.23 103.50,436.53 103.80,437.41 104.10,437.45 104.40,438.61 104.70,438.61 105.00,439.47 105.30,438.86 105.60,440.80 105.90,440.58 106.20,441.70 106.50,441.99 106.80,443.80 107.10,443.50 107.40,445.32 107.70,444.69 108.00,446.36 108.30,447.05 108.60,448.26 108.90,448.94 109.20,450.35 109.50,450.62 109.80,451.88 110.10,452.56 110.40,453.59 110.70,454.32 111.00,455.74 111.30,456.72 111.60,458.57 111.90,458.93 112.20,461.68 112.50,462.25 112.80,464.93 113.10,465.54 113.40,467.91 113.70,468.12 114.00,469.98 114.30,469.31 114.60,472.03 114.90,472.72 115.20,474.70 115.50,473.65 115.80,476.31 116.10,476.46 116.40,478.91 116.70,477.86 117.00,481.78 117.30,482.15 117.60,483.96 117.90,482.66 118.20,487.32 118.50,487.00 118.80,488.90 119.10,489.49 119.40,490.90 119.70,490.62 120.00,495.10 120.30,491.85 120.60,494.42 120.90,493.60 121.20,496.14 121.50,494.09 121.80,501.66 122.10,498.17 122.40,499.74 122.70,499.82 123.00,501.17 123.30,500.78 123.60,503.05 123.90,502.28 124.20,505.72 124.50,501.53 124.80,504.33 125.10,503.72 125.40,506.12 125.70,504.95 126.00,506.58 126.30,501.77 126.60,507.72 126.90,504.98 127.20,510.64 127.50,506.20 127.80,511.88 128.10,508.31 128.40,509.74 128.70,509.45 129.00,512.33 129.30,510.35 129.60,511.54 129.90,510.78 130.20,513.76 130.50,510.44 130.80,513.21 131.10,512.47 131.40,513.79 131.70,513.28 132.00,514.32 132.30,513.64 132.60,515.58 132.90,513.07 133.20,515.91 133.50,514.26 133.80,518.10 134.10,514.14 134.40,517.80 134.70,514.27 135.00,516.50 135.30,515.26 135.60,517.06 135.90,515.79 136.20,516.71 136.50,516.14 136.80,517.19 137.10,515.08 137.40,520.07 137.70,516.87 138.00,517.85 138.30,516.30 138.60,518.35 138.90,517.59 139.20,522.69 139.50,516.19 139.80,520.62 140.10,517.73 140.40,519.24 140.70,517.73 141.00,519.74 141.30,519.02 141.60,520.56 141.90,518.80 142.20,521.10 142.50,516.96 142.80,520.91 143.10,518.09 143.40,522.18 143.70,519.82 144.00,521.29 144.30,518.31 144.60,526.76 144.90,517.32 145.20,524.72 145.50,520.06 145.80,522.15 146.10,520.65 146.40,522.69 146.70,520.96 147.00,523.79 147.30,520.63 147.60,521.90 147.90,520.98 148.20,523.39 148.50,518.44 148.80,523.26 149.10,518.60 149.40,527.85 149.70,521.61 150.00,525.65 150.30,521.53 150.60,523.71 150.90,521.84 151.20,523.31 151.50,521.28 151.80,523.15 152.10,516.66 152.40,525.40 152.70,522.35 153.00,523.16 153.30,522.49 153.60,525.05 153.90,522.56 154.20,527.77 154.50,521.41 154.80,525.46 155.10,522.91 155.40,524.93 155.70,523.05 156.00,527.15 156.30,521.78 156.60,524.74 156.90,523.33 157.20,525.32 157.50,522.42 157.80,525.19 158.10,523.30 158.40,526.05 158.70,522.41 159.00,525.67 159.30,518.33 159.60,526.81 159.90,521.79 160.20,526.27 160.50,519.32 160.80,526.43 161.10,521.57 161.40,525.09 161.70,524.25 162.00,530.72 162.30,524.45 162.60,525.21 162.90,522.01 163.20,526.96 163.50,524.50 163.80,527.74 164.10,522.70 164.40,525.54 164.70,520.92 165.00,525.34 165.30,524.57 165.60,525.32 165.90,523.24 166.20,530.68 166.50,519.07 166.80,525.37 167.10,524.64 167.40,525.83 167.70,523.15 168.00,526.09 168.30,521.83 168.60,529.17 168.90,521.59 169.20,526.82 169.50,524.74 169.80,525.49 170.10,519.21 170.40,527.86 170.70,524.59 171.00,525.96 171.30,524.81 171.60,527.71 171.90,524.65 172.20,526.70 172.50,524.61 172.80,525.60 173.10,521.12 173.40,526.50 173.70,524.41 174.00,526.34 174.30,523.79 174.60,525.79 174.90,519.40 175.20,525.70 175.50,523.37 175.80,527.99 176.10,523.69 176.40,526.63 176.70,525.01" fill="none" stroke="#000" stroke-width="1.3" stroke-linejoin="round"/>
<text x="158.15" y="511.50" font-size="12.5" textLength="18.53" lengthAdjust="spacingAndGlyphs" fill="#000" stroke-width="0.45" xml:space="preserve">WT</text>
<text x="143.94" y="556.30" font-size="12.5" textLength="30.21" lengthAdjust="spacingAndGlyphs" fill="#000" stroke-width="0.45" xml:space="preserve">LIMK</text>
<text x="174.90" y="551.80" font-size="9" textLength="12.70" lengthAdjust="spacingAndGlyphs" fill="#000" stroke-width="0.45" xml:space="preserve">-/-</text>
<text x="155.04" y="384.70" font-size="14" font-weight="bold" textLength="7.83" lengthAdjust="spacingAndGlyphs" fill="#000" stroke-width="0.45" xml:space="preserve">F</text>
<text x="155.38" y="402.60" font-size="13.3" textLength="51.63" lengthAdjust="spacingAndGlyphs" fill="#000" stroke-width="0.45" xml:space="preserve">AYPGKF</text>
<text x="215.09" y="402.60" font-size="13.3" textLength="34.33" lengthAdjust="spacingAndGlyphs" fill="#000" stroke-width="0.45" xml:space="preserve">40µM</text>
<line x1="179.80" y1="411.30" x2="179.80" y2="415.00" stroke="#000" stroke-width="1.3"/>
<polygon points="175.60,414.20 184.00,414.20 179.80,426.30" fill="#000"/>
<polyline points="180.10,431.50 180.10,441.90" fill="none" stroke="#000" stroke-width="1.5" stroke-linejoin="round"/>
<polyline points="176.00,441.90 182.40,441.90 184.70,436.70 187.00,435.20" fill="none" stroke="#000" stroke-width="1.8" stroke-linejoin="round"/>
<polyline points="187.00,435.34 187.50,435.39 188.00,435.44 188.50,435.50 189.00,435.56 189.50,435.64 190.00,435.72 190.50,435.80 191.00,435.89 191.50,435.99 192.00,436.08 192.50,436.18 193.00,436.29 193.50,436.40 194.00,436.53 194.50,436.66 195.00,436.80 195.50,436.95 196.00,437.11 196.50,437.28 197.00,437.45 197.50,437.63 198.00,437.83 198.50,438.03 199.00,438.23 199.50,438.46 200.00,438.69 200.50,438.94 201.00,439.19 201.50,439.46 202.00,439.74 202.50,440.03 203.00,440.34 203.50,440.66 204.00,440.98 204.50,441.32 205.00,441.67 205.50,442.04 206.00,442.41 206.50,442.79 207.00,443.16 207.50,443.54 208.00,443.91 208.50,444.28 209.00,444.65 209.50,445.02 210.00,445.38 210.50,445.73 211.00,446.08 211.50,446.43 212.00,446.77 212.50,447.11 213.00,447.44 213.50,447.77 214.00,448.10 214.50,448.42 215.00,448.74 215.50,449.05 216.00,449.37 216.50,449.68 217.00,450.00 217.50,450.31 218.00,450.63 218.50,450.94 219.00,451.25 219.50,451.55 220.00,451.86 220.50,452.16 221.00,452.46 221.50,452.76 222.00,453.06 222.50,453.36 223.00,453.65 223.50,453.94 224.00,454.23 224.50,454.52 225.00,454.81 225.50,455.10 226.00,455.39 226.50,455.67 227.00,455.96 227.50,456.25 228.00,456.55 228.50,456.85 229.00,457.17 229.50,457.50 230.00,457.85 230.50,458.20 231.00,458.57 231.50,458.95 232.00,459.35 232.50,459.75 233.00,460.17 233.50,460.60 234.00,461.05 234.50,461.51 235.00,461.97 235.50,462.44 236.00,462.90 236.50,463.36 237.00,463.83 237.50,464.29 238.00,464.76 238.50,465.22 239.00,465.69 239.50,466.15 240.00,466.62 240.50,467.08 241.00,467.55 241.50,468.01 242.00,468.48 242.50,468.94 243.00,469.41 243.50,469.87 244.00,470.34 244.50,470.80 245.00,471.26 245.50,471.73 246.00,472.19 246.50,472.66 247.00,473.12 247.50,473.58 248.00,474.04 248.50,474.49 249.00,474.95 249.50,475.40 250.00,475.85 250.50,476.30 251.00,476.75 251.50,477.19 252.00,477.64 252.50,478.08 253.00,478.52 253.50,478.96 254.00,479.40 254.50,479.83 255.00,480.27 255.50,480.71 256.00,481.15 256.50,481.59 257.00,482.03 257.50,482.47 258.00,482.91 258.50,483.35 259.00,483.77 259.50,484.19 260.00,484.60 260.50,484.99 261.00,485.38 261.50,485.75 262.00,486.11 262.50,486.46 263.00,486.80 263.50,487.13 264.00,487.45 264.50,487.76 265.00,488.05 265.50,488.34 266.00,488.62 266.50,488.91 267.00,489.19 267.50,489.48 268.00,489.74 268.50,489.99 269.00,490.21 269.50,490.41 270.00,490.60 270.50,490.76" fill="none" stroke="#000" stroke-width="1.4" stroke-linejoin="round"/>
<polygon points="187.00,434.74 187.30,434.89 187.60,435.08 187.90,435.32 188.20,435.60 188.50,435.89 188.80,436.18 189.10,436.47 189.40,436.75 189.70,437.04 190.00,437.33 190.30,437.61 190.60,437.90 190.90,438.19 191.20,438.48 191.50,438.80 191.80,439.12 192.10,439.47 192.40,439.82 192.70,440.20 193.00,440.58 193.30,440.95 193.60,441.33 193.90,441.71 194.20,442.09 194.50,442.47 194.80,442.85 195.10,443.22 195.40,443.60 195.70,443.99 196.00,444.42 196.30,444.88 196.60,445.39 196.90,445.92 197.20,446.50 197.50,447.10 197.80,447.70 198.10,448.30 198.40,448.90 198.70,449.50 199.00,450.10 199.30,450.70 199.60,451.30 199.90,451.90 200.20,452.50 200.50,453.11 200.80,453.74 201.10,454.37 201.40,455.02 201.70,455.68 202.00,456.36 202.30,457.03 202.60,457.70 202.90,458.38 203.20,459.05 203.50,459.72 203.80,460.40 204.10,461.07 204.40,461.75 204.70,462.45 205.00,463.18 205.30,463.93 205.60,464.70 205.90,465.49 206.20,466.30 206.50,467.11 206.80,467.92 207.10,468.73 207.40,469.54 207.70,470.35 208.00,471.16 208.30,471.97 208.60,472.78 208.90,473.58 209.20,474.36 209.50,475.14 209.80,475.91 210.10,476.66 210.40,477.41 210.70,478.15 211.00,478.90 211.30,479.64 211.60,480.39 211.90,481.13 212.20,481.88 212.50,482.62 212.80,483.37 213.10,484.11 213.40,484.86 213.70,485.60 214.00,486.35 214.30,487.10 214.60,487.84 214.90,488.57 215.20,489.26 215.50,489.90 215.80,490.51 216.10,491.08 216.40,491.61 216.70,492.12 217.00,492.63 217.30,493.14 217.60,493.65 217.90,494.16 218.20,494.67 218.50,495.18 218.80,495.69 219.10,496.20 219.40,496.71 219.70,497.22 220.00,497.73 220.30,498.24 220.60,498.75 220.90,499.26 221.20,499.74 221.50,500.20 221.80,500.64 222.10,501.04 222.40,501.42 222.70,501.78 223.00,502.14 223.30,502.49 223.60,502.85 223.90,503.20 224.20,503.56 224.50,503.92 224.80,504.27 225.10,504.63 225.40,504.99 225.70,505.34 226.00,505.70 226.30,506.05 226.60,506.41 226.90,506.77 227.20,507.11 227.50,507.43 227.80,507.72 228.10,507.97 228.40,508.20 228.70,508.40 229.00,508.58 229.30,508.75 229.60,508.93 229.90,509.11 230.20,509.29 230.50,509.47 230.80,509.64 231.10,509.82 231.40,510.00 231.70,510.18 232.00,510.35 232.30,510.53 232.60,510.71 232.90,510.89 233.20,511.07 233.50,511.24 233.80,511.42 234.10,511.60 234.40,511.78 234.70,511.96 235.00,512.13 235.30,512.33 235.60,512.52 235.90,512.72 236.20,512.91 236.50,513.11 236.80,513.30 237.10,513.50 237.40,513.69 237.70,513.88 238.00,514.07 238.30,514.24 238.60,514.40 238.90,514.53 239.20,514.65 239.50,514.76 239.80,514.85 240.10,514.94 240.40,515.03 240.70,515.12 241.00,515.21 241.30,515.30 241.60,515.39 241.90,515.48 242.20,515.57 242.50,515.66 242.80,515.75 243.10,515.84 243.40,515.93 243.70,516.02 244.00,516.11 244.30,516.20 244.60,516.29 244.90,516.38 245.20,516.47 245.50,516.56 245.80,516.65 246.10,516.74 246.40,516.83 246.70,516.92 247.00,517.01 247.30,517.10 247.60,517.19 247.90,517.28 248.20,517.37 248.50,517.46 248.80,517.55 249.10,517.64 249.40,517.73 249.70,517.82 250.00,517.91 250.30,518.00 250.60,518.09 250.90,518.18 251.20,518.27 251.50,518.36 251.80,518.45 252.10,518.54 252.40,518.63 252.70,518.72 253.00,518.81 253.30,518.90 253.60,518.99 253.90,519.08 254.20,519.17 254.50,519.26 254.80,519.35 255.10,519.44 255.40,519.53 255.70,519.62 256.00,519.71 256.30,519.80 256.60,519.89 256.90,519.98 257.20,520.07 257.50,520.16 257.80,520.25 258.10,520.34 258.40,520.43 258.70,520.52 259.00,520.61 259.30,520.70 259.60,520.79 259.90,520.88 260.20,520.97 260.50,521.06 260.80,521.15 261.10,521.24 261.40,521.33 261.70,521.41 262.00,521.50 262.30,521.59 262.60,521.68 262.90,521.77 263.20,521.86 263.50,521.95 263.80,522.04 264.10,522.13 264.40,522.22 264.70,522.31 265.00,522.40 265.30,522.49 265.60,522.58 265.90,522.67 266.20,522.76 266.50,522.85 266.80,522.94 267.10,523.03 267.40,523.12 267.70,523.21 268.00,523.30 268.30,523.39 268.60,523.48 268.90,523.55 269.20,523.61 269.20,527.01 268.90,526.95 268.60,526.88 268.30,526.79 268.00,526.70 267.70,526.61 267.40,526.52 267.10,526.43 266.80,526.34 266.50,526.25 266.20,526.16 265.90,526.07 265.60,525.98 265.30,525.89 265.00,525.80 264.70,525.71 264.40,525.62 264.10,525.53 263.80,525.44 263.50,525.35 263.20,525.26 262.90,525.17 262.60,525.08 262.30,524.99 262.00,524.90 261.70,524.81 261.40,524.73 261.10,524.64 260.80,524.55 260.50,524.46 260.20,524.37 259.90,524.28 259.60,524.19 259.30,524.10 259.00,524.01 258.70,523.92 258.40,523.83 258.10,523.74 257.80,523.65 257.50,523.56 257.20,523.47 256.90,523.38 256.60,523.29 256.30,523.20 256.00,523.11 255.70,523.02 255.40,522.93 255.10,522.84 254.80,522.75 254.50,522.66 254.20,522.57 253.90,522.48 253.60,522.39 253.30,522.30 253.00,522.21 252.70,522.12 252.40,522.03 252.10,521.94 251.80,521.85 251.50,521.76 251.20,521.67 250.90,521.58 250.60,521.49 250.30,521.40 250.00,521.31 249.70,521.22 249.40,521.13 249.10,521.04 248.80,520.95 248.50,520.86 248.20,520.77 247.90,520.68 247.60,520.59 247.30,520.50 247.00,520.41 246.70,520.32 246.40,520.23 246.10,520.14 245.80,520.05 245.50,519.96 245.20,519.87 244.90,519.78 244.60,519.69 244.30,519.60 244.00,519.51 243.70,519.42 243.40,519.33 243.10,519.24 242.80,519.15 242.50,519.06 242.20,518.97 241.90,518.88 241.60,518.79 241.30,518.70 241.00,518.61 240.70,518.52 240.40,518.43 240.10,518.34 239.80,518.25 239.50,518.16 239.20,518.05 238.90,517.93 238.60,517.80 238.30,517.64 238.00,517.47 237.70,517.28 237.40,517.09 237.10,516.90 236.80,516.70 236.50,516.51 236.20,516.31 235.90,516.12 235.60,515.92 235.30,515.73 235.00,515.53 234.70,515.32 234.40,515.11 234.10,514.90 233.80,514.69 233.50,514.48 233.20,514.27 232.90,514.06 232.60,513.85 232.30,513.64 232.00,513.42 231.70,513.21 231.40,513.00 231.10,512.79 230.80,512.58 230.50,512.37 230.20,512.16 229.90,511.95 229.60,511.74 229.30,511.53 229.00,511.32 228.70,511.10 228.40,510.87 228.10,510.61 227.80,510.32 227.50,510.00 227.20,509.65 226.90,509.27 226.60,508.89 226.30,508.50 226.00,508.11 225.70,507.72 225.40,507.33 225.10,506.94 224.80,506.55 224.50,506.16 224.20,505.77 223.90,505.38 223.60,504.99 223.30,504.61 223.00,504.22 222.70,503.83 222.40,503.44 222.10,503.02 221.80,502.58 221.50,502.12 221.20,501.63 220.90,501.11 220.60,500.57 220.30,500.02 220.00,499.48 219.70,498.94 219.40,498.40 219.10,497.85 218.80,497.31 218.50,496.77 218.20,496.22 217.90,495.68 217.60,495.14 217.30,494.60 217.00,494.05 216.70,493.51 216.40,492.97 216.10,492.40 215.80,491.80 215.50,491.16 215.20,490.48 214.90,489.77 214.60,489.04 214.30,488.30 214.00,487.55 213.70,486.80 213.40,486.06 213.10,485.31 212.80,484.57 212.50,483.82 212.20,483.08 211.90,482.33 211.60,481.59 211.30,480.84 211.00,480.10 210.70,479.35 210.40,478.61 210.10,477.86 209.80,477.11 209.50,476.34 209.20,475.56 208.90,474.78 208.60,473.98 208.30,473.17 208.00,472.36 207.70,471.55 207.40,470.74 207.10,469.93 206.80,469.12 206.50,468.31 206.20,467.50 205.90,466.69 205.60,465.90 205.30,465.13 205.00,464.38 204.70,463.65 204.40,462.95 204.10,462.27 203.80,461.60 203.50,460.92 203.20,460.25 202.90,459.58 202.60,458.90 202.30,458.23 202.00,457.56 201.70,456.88 201.40,456.22 201.10,455.57 200.80,454.94 200.50,454.31 200.20,453.70 199.90,453.10 199.60,452.50 199.30,451.90 199.00,451.30 198.70,450.70 198.40,450.10 198.10,449.50 197.80,448.90 197.50,448.30 197.20,447.70 196.90,447.12 196.60,446.59 196.30,446.08 196.00,445.62 195.70,445.19 195.40,444.80 195.10,444.42 194.80,444.05 194.50,443.67 194.20,443.29 193.90,442.91 193.60,442.53 193.30,442.15 193.00,441.78 192.70,441.40 192.40,441.02 192.10,440.67 191.80,440.32 191.50,440.00 191.20,439.68 190.90,439.39 190.60,439.10 190.30,438.81 190.00,438.53 189.70,438.24 189.40,437.95 189.10,437.67 188.80,437.38 188.50,437.09 188.20,436.80 187.90,436.52 187.60,436.28 187.30,436.09 187.00,435.94" fill="#000"/>
<polyline points="187.00,435.37 187.30,435.36 187.60,435.71 187.90,435.81 188.20,436.24 188.50,436.29 188.80,436.83 189.10,436.88 189.40,437.38 189.70,437.53 190.00,438.01 190.30,438.00 190.60,438.70 190.90,438.42 191.20,439.24 191.50,439.35 191.80,440.20 192.10,439.59 192.40,440.86 192.70,440.58 193.00,441.23 193.30,441.38 193.60,442.26 193.90,442.25 194.20,442.83 194.50,443.04 194.80,443.48 195.10,443.73 195.40,444.23 195.70,444.56 196.00,445.08 196.30,445.26 196.60,446.19 196.90,446.29 197.20,447.17 197.50,447.58 197.80,448.34 198.10,448.87 198.40,449.61 198.70,450.07 199.00,450.76 199.30,451.16 199.60,452.19 199.90,452.41 200.20,453.25 200.50,453.56 200.80,454.37 201.10,454.94 201.40,455.69 201.70,456.18 202.00,456.99 202.30,457.60 202.60,458.39 202.90,458.90 203.20,460.13 203.50,460.29 203.80,461.19 204.10,461.43 204.40,462.39 204.70,462.57 205.00,463.88 205.30,464.22 205.60,465.33 205.90,466.04 206.20,467.23 206.50,467.23 206.80,468.57 207.10,468.95 207.40,470.17 207.70,470.92 208.00,471.84 208.30,472.47 208.60,473.59 208.90,474.15 209.20,475.42 209.50,475.35 209.80,476.79 210.10,476.94 210.40,478.08 210.70,478.72 211.00,479.64 211.30,480.21 211.60,481.02 211.90,481.64 212.20,483.11 212.50,482.16 212.80,484.31 213.10,484.03 213.40,487.02 213.70,484.28 214.00,487.69 214.30,486.86 214.60,488.92 214.90,488.58 215.20,490.74 215.50,489.98 215.80,491.29 216.10,491.62 216.40,492.78 216.70,490.93 217.00,493.91 217.30,493.75 217.60,495.42 217.90,494.80 218.20,496.12 218.50,495.33 218.80,497.13 219.10,496.91 219.40,497.67 219.70,497.75 220.00,498.79 220.30,498.74 220.60,500.18 220.90,500.06 221.20,500.81 221.50,500.74 221.80,503.53 222.10,501.89 222.40,503.11 222.70,500.88 223.00,503.31 223.30,502.95 223.60,504.20 223.90,503.53 224.20,505.68 224.50,504.92 224.80,506.17 225.10,505.34 225.40,510.02 225.70,506.27 226.00,507.70 226.30,503.12 226.60,507.91 226.90,507.09 227.20,508.84 227.50,507.96 227.80,509.28 228.10,505.13 228.40,509.80 228.70,508.41 229.00,514.11 229.30,509.84 229.60,510.84 229.90,508.63 230.20,510.98 230.50,509.53 230.80,511.57 231.10,510.83 231.40,513.25 231.70,511.44 232.00,512.15 232.30,511.10 232.60,515.55 232.90,512.21 233.20,513.34 233.50,512.60 233.80,513.83 234.10,512.71 234.40,515.47 234.70,511.35 235.00,514.94 235.30,509.87 235.60,515.32 235.90,513.97 236.20,515.34 236.50,513.89 236.80,517.66 237.10,513.05 237.40,518.85 237.70,513.53 238.00,516.03 238.30,515.31 238.60,516.36 238.90,513.27 239.20,516.61 239.50,515.79 239.80,517.89 240.10,512.48 240.40,520.89 240.70,516.56 241.00,517.59 241.30,516.26 241.60,517.35 241.90,515.04 242.20,518.93 242.50,516.45 242.80,520.56 243.10,516.87 243.40,518.76 243.70,516.25 244.00,518.20 244.30,517.45 244.60,518.75 244.90,517.51 245.20,518.43 245.50,516.79 245.80,518.65 246.10,517.42 246.40,518.79 246.70,516.92 247.00,520.20 247.30,515.95 247.60,519.91 247.90,514.82 248.20,519.33 248.50,518.10 248.80,520.09 249.10,518.60 249.40,520.41 249.70,516.20 250.00,520.78 250.30,519.07 250.60,520.66 250.90,519.10 251.20,520.23 251.50,519.23 251.80,524.06 252.10,516.08 252.40,523.03 252.70,519.65 253.00,523.68 253.30,519.80 253.60,521.97 253.90,519.73 254.20,521.13 254.50,517.28 254.80,522.48 255.10,518.42 255.40,521.49 255.70,517.23 256.00,523.39 256.30,521.24 256.60,521.85 256.90,518.99 257.20,522.24 257.50,521.60 257.80,526.11 258.10,521.60 258.40,524.94 258.70,520.14 259.00,523.83 259.30,521.40 259.60,522.87 259.90,521.11 260.20,523.89 260.50,520.07 260.80,523.23 261.10,518.78 261.40,524.54 261.70,520.00 262.00,525.30 262.30,522.02 262.60,524.30 262.90,521.91 263.20,523.82 263.50,523.39 263.80,524.18 264.10,523.04 264.40,524.18 264.70,523.70 265.00,524.38 265.30,520.03 265.60,525.55 265.90,523.57 266.20,526.34 266.50,523.36 266.80,528.80 267.10,524.47 267.40,526.62 267.70,524.65 268.00,525.26 268.30,523.01 268.60,525.44 268.90,524.66 269.20,525.68" fill="none" stroke="#000" stroke-width="1.3" stroke-linejoin="round"/>
<line x1="184.00" y1="437.00" x2="184.00" y2="441.00" stroke="#000" stroke-width="1.0"/>
<line x1="186.50" y1="436.50" x2="186.50" y2="440.50" stroke="#000" stroke-width="1.0"/>
<line x1="189.00" y1="437.50" x2="189.00" y2="441.50" stroke="#000" stroke-width="1.0"/>
<line x1="249.20" y1="475.40" x2="249.20" y2="479.40" stroke="#000" stroke-width="1.0"/>
<line x1="238.00" y1="466.00" x2="238.00" y2="470.00" stroke="#000" stroke-width="1.0"/>
<text x="253.05" y="506.20" font-size="12.5" textLength="18.73" lengthAdjust="spacingAndGlyphs" fill="#000" stroke-width="0.45" xml:space="preserve">WT</text>
<text x="245.33" y="555.20" font-size="12.5" textLength="37.71" lengthAdjust="spacingAndGlyphs" fill="#000" stroke-width="0.45" xml:space="preserve">LIMK1</text>
<text x="282.88" y="550.50" font-size="9" textLength="13.25" lengthAdjust="spacingAndGlyphs" fill="#000" stroke-width="0.45" xml:space="preserve">-/-</text>
<text x="271.72" y="384.70" font-size="14" font-weight="bold" textLength="11.07" lengthAdjust="spacingAndGlyphs" fill="#000" stroke-width="0.45" xml:space="preserve">G</text>
<text x="269.58" y="402.60" font-size="13.3" textLength="46.45" lengthAdjust="spacingAndGlyphs" fill="#000" stroke-width="0.45" xml:space="preserve">U46619</text>
<text x="324.11" y="402.60" font-size="13.3" textLength="33.48" lengthAdjust="spacingAndGlyphs" fill="#000" stroke-width="0.45" xml:space="preserve">70nM</text>
<line x1="275.80" y1="412.70" x2="275.80" y2="416.00" stroke="#000" stroke-width="1.2"/>
<polygon points="272.35,415.50 280.05,415.50 276.20,425.80" fill="#000"/>
<circle cx="274.5" cy="440" r="1.3" fill="#000"/>
<polyline points="276.50,444.20 276.50,432.70 278.00,431.00 280.40,429.60" fill="none" stroke="#000" stroke-width="1.2" stroke-linejoin="round"/>
<polyline points="280.40,429.66 280.90,429.79 281.40,429.99 281.90,430.25 282.40,430.50 282.90,430.76 283.40,431.04 283.90,431.35 284.40,431.70 284.90,432.07 285.40,432.44 285.90,432.82 286.40,433.20 286.90,433.58 287.40,433.95 287.90,434.33 288.40,434.71 288.90,435.08 289.40,435.47 289.90,435.87 290.40,436.29 290.90,436.73 291.40,437.17 291.90,437.61 292.40,438.06 292.90,438.50 293.40,438.94 293.90,439.38 294.40,439.83 294.90,440.27 295.40,440.71 295.90,441.15 296.40,441.60 296.90,442.04 297.40,442.48 297.90,442.92 298.40,443.37 298.90,443.81 299.40,444.25 299.90,444.69 300.40,445.14 300.90,445.58 301.40,446.02 301.90,446.46 302.40,446.91 302.90,447.35 303.40,447.77 303.90,448.17 304.40,448.55 304.90,448.90 305.40,449.25 305.90,449.60 306.40,449.95 306.90,450.30 307.40,450.65 307.90,451.00 308.40,451.35 308.90,451.70 309.40,452.05 309.90,452.40 310.40,452.75 310.90,453.10 311.40,453.45 311.90,453.80 312.40,454.15 312.90,454.50 313.40,454.85 313.90,455.20 314.40,455.55 314.90,455.90 315.40,456.25 315.90,456.60 316.40,456.95 316.90,457.30 317.40,457.65 317.90,458.00 318.40,458.34 318.90,458.69 319.40,459.02 319.90,459.35 320.40,459.67 320.90,460.00 321.40,460.32 321.90,460.65 322.40,460.97 322.90,461.30 323.40,461.62 323.90,461.94 324.40,462.27 324.90,462.59 325.40,462.92 325.90,463.24 326.40,463.56 326.90,463.89 327.40,464.21 327.90,464.54 328.40,464.86 328.90,465.18 329.40,465.51 329.90,465.85 330.40,466.19 330.90,466.54 331.40,466.89 331.90,467.25 332.40,467.63 332.90,468.03 333.40,468.46 333.90,468.91 334.40,469.36 334.90,469.81 335.40,470.25 335.90,470.70 336.40,471.15 336.90,471.60 337.40,472.05 337.90,472.49 338.40,472.94 338.90,473.39 339.40,473.84 339.90,474.30 340.40,474.77 340.90,475.25 341.40,475.75 341.90,476.25 342.40,476.75 342.90,477.25 343.40,477.75 343.90,478.25 344.40,478.75 344.90,479.25 345.40,479.75 345.90,480.25 346.40,480.75 346.90,481.25 347.40,481.73 347.90,482.15 348.40,482.53 348.90,482.85 349.40,483.13 349.90,483.42 350.40,483.71 350.90,483.99 351.40,484.28 351.90,484.57 352.40,484.85 352.90,485.14 353.40,485.43 353.90,485.72 354.40,486.00 354.90,486.29 355.40,486.58 355.90,486.86 356.40,487.15 356.90,487.44 357.40,487.73 357.90,488.01 358.40,488.27 358.90,488.51 359.40,488.71 359.90,488.88 360.40,489.05 360.90,489.22 361.40,489.38 361.90,489.55 362.40,489.72 362.90,489.88 363.40,490.05 363.90,490.22 364.40,490.38 364.90,490.55 365.40,490.72 365.90,490.88 366.40,491.05 366.90,491.22 367.40,491.38 367.90,491.55 368.40,491.72 368.90,491.88 369.40,492.05 369.90,492.22 370.40,492.38 370.90,492.50 371.40,492.59 371.90,492.65 372.40,492.68 372.90,492.70 373.40,492.73 373.90,492.76 374.40,492.79 374.90,492.82 375.40,492.84 375.90,492.87 376.40,492.90 376.90,492.93 377.40,492.95 377.90,492.98 378.40,493.01 378.90,493.04 379.40,493.07 379.90,493.09 380.40,493.12 380.90,493.15 381.40,493.18 381.90,493.21 382.40,493.23 382.90,493.26 383.40,493.29 383.90,493.32 384.40,493.35 384.90,493.37 385.40,493.40 385.90,493.43 386.40,493.46 386.90,493.48" fill="none" stroke="#000" stroke-width="1.2" stroke-linejoin="round"/>
<polyline points="280.40,429.86 280.90,430.38 281.40,431.15 281.90,432.03 282.40,432.77 282.90,433.35 283.40,433.79 283.90,434.22 284.40,434.66 284.90,435.10 285.40,435.53 285.90,435.97 286.40,436.40 286.90,436.84 287.40,437.27 287.90,437.71 288.40,438.14 288.90,438.57 289.40,438.99 289.90,439.42 290.40,439.84 290.90,440.27 291.40,440.69 291.90,441.12 292.40,441.55 292.90,441.97 293.40,442.40 293.90,442.82 294.40,443.25 294.90,443.67 295.40,444.10 295.90,444.52 296.40,444.95 296.90,445.37 297.40,445.80 297.90,446.22 298.40,446.65 298.90,447.07 299.40,447.50 299.90,447.92 300.40,448.35 300.90,448.78 301.40,449.20 301.90,449.63 302.40,450.05 302.90,450.48 303.40,450.88 303.90,451.26 304.40,451.62 304.90,451.95 305.40,452.28 305.90,452.61 306.40,452.93 306.90,453.26 307.40,453.59 307.90,453.91 308.40,454.24 308.90,454.57 309.40,454.89 309.90,455.22 310.40,455.55 310.90,455.87 311.40,456.20 311.90,456.53 312.40,456.85 312.90,457.18 313.40,457.51 313.90,457.83 314.40,458.16 314.90,458.49 315.40,458.81 315.90,459.14 316.40,459.47 316.90,459.79 317.40,460.12 317.90,460.45 318.40,460.77 318.90,461.06 319.40,461.31 319.90,461.53 320.40,461.73 320.90,461.92 321.40,462.12 321.90,462.31 322.40,462.51 322.90,462.70 323.40,462.89 323.90,463.09 324.40,463.28 324.90,463.48 325.40,463.67 325.90,463.87 326.40,464.09 326.90,464.33 327.40,464.60 327.90,464.89 328.40,465.20 328.90,465.50 329.40,465.80 329.90,466.10 330.40,466.40 330.90,466.70 331.40,467.01 331.90,467.32 332.40,467.66 332.90,468.04 333.40,468.46 333.90,468.91 334.40,469.36 334.90,469.81 335.40,470.25 335.90,470.70 336.40,471.15 336.90,471.60 337.40,472.05 337.90,472.49 338.40,472.94 338.90,473.39 339.40,473.84 339.90,474.35 340.40,474.93 340.90,475.59 341.40,476.32 341.90,477.07 342.40,477.82 342.90,478.57 343.40,479.32 343.90,480.07 344.40,480.92 344.90,481.92 345.40,483.07 345.90,484.38 346.40,485.75 346.90,487.12 347.40,488.49 347.90,489.86 348.40,491.23 348.90,492.60 349.40,493.98 349.90,495.35 350.40,496.71 350.90,498.00 351.40,499.24 351.90,500.42 352.40,501.55 352.90,502.69 353.40,503.82 353.90,504.95 354.40,506.08 354.90,507.21 355.40,508.34 355.90,509.47 356.40,510.60 356.90,511.65 357.40,512.62 357.90,513.50 358.40,514.30 358.90,515.10 359.40,515.89 359.90,516.69 360.40,517.49 360.90,518.29 361.40,519.09 361.90,519.89 362.40,520.69 362.90,521.49 363.40,522.28 363.90,523.08 364.40,523.84 364.90,524.52 365.40,525.12 365.90,525.65 366.40,526.15 366.90,526.65 367.40,527.15 367.90,527.65 368.40,528.15 368.90,528.65 369.40,529.15 369.90,529.65 370.40,530.15 370.90,530.65 371.40,531.15 371.90,531.64 372.40,532.09 372.90,532.50 373.40,532.87 373.90,533.21 374.40,533.55 374.90,533.88 375.40,534.22 375.90,534.56 376.40,534.89 376.90,535.15 377.40,535.32 377.90,535.40 378.40,535.40 378.90,535.40 379.40,535.40 379.90,535.40 380.40,535.40 380.90,535.40 381.40,535.40 381.90,535.40 382.40,535.40 382.90,535.40 383.40,535.40 383.90,535.40 384.40,535.40 384.90,535.40 385.40,535.40" fill="none" stroke="#000" stroke-width="1.2" stroke-linejoin="round"/>
<line x1="385.50" y1="532.00" x2="385.50" y2="537.00" stroke="#000" stroke-width="1.2"/>
<line x1="377.00" y1="532.00" x2="377.00" y2="535.40" stroke="#000" stroke-width="1.0"/>
<text x="357.85" y="477.70" font-size="12.5" textLength="19.14" lengthAdjust="spacingAndGlyphs" fill="#000" stroke-width="0.45" xml:space="preserve">WT</text>
<text x="360.23" y="555.20" font-size="12.5" textLength="37.71" lengthAdjust="spacingAndGlyphs" fill="#000" stroke-width="0.45" xml:space="preserve">LIMK1</text>
<text x="397.88" y="550.50" font-size="9" textLength="13.25" lengthAdjust="spacingAndGlyphs" fill="#000" stroke-width="0.45" xml:space="preserve">-/-</text>
<text x="368.11" y="384.80" font-size="14" font-weight="bold" textLength="11.79" lengthAdjust="spacingAndGlyphs" fill="#000" stroke-width="0.45" xml:space="preserve">H</text>
<text x="369.37" y="403.20" font-size="13.3" textLength="59.46" lengthAdjust="spacingAndGlyphs" fill="#000" stroke-width="0.45" xml:space="preserve">ADP5µM+</text>
<text x="437.04" y="403.20" font-size="13.3" textLength="13.72" lengthAdjust="spacingAndGlyphs" fill="#000" stroke-width="0.45" xml:space="preserve">Fg</text>
<text x="457.58" y="403.20" font-size="13.3" textLength="52.50" lengthAdjust="spacingAndGlyphs" fill="#000" stroke-width="0.45" xml:space="preserve">10µg/ml</text>
<line x1="393.40" y1="420.00" x2="393.40" y2="445.70" stroke="#000" stroke-width="1.4"/>
<polygon points="388.95,422.00 397.85,422.00 393.40,433.90" fill="#000"/>
<ellipse cx="391" cy="446.5" rx="2.2" ry="1.4" fill="#000"/>
<polyline points="389.50,446.47 389.85,446.35 390.20,446.54 390.55,446.13 390.90,446.14 391.25,445.93 391.60,445.94 391.95,445.77 392.30,445.85 392.65,445.45 393.00,445.46 393.35,444.96 393.70,444.94 394.05,444.54 394.40,444.67 394.75,444.01 395.10,443.77 395.45,443.43 395.80,443.34 396.15,442.95 396.50,442.95 396.85,442.89 397.20,443.28 397.55,443.61 397.90,444.17 398.25,444.37 398.60,444.91 398.95,445.00 399.30,445.74 399.65,446.05 400.00,446.65 400.35,446.95 400.70,447.51 401.05,447.68 401.40,448.58 401.75,448.81 402.10,449.55 402.45,449.75 402.80,450.47 403.15,450.69 403.50,451.33 403.85,451.74 404.20,452.44 404.55,452.73 404.90,453.48 405.25,453.55 405.60,454.34 405.95,454.67 406.30,455.34 406.65,455.44 407.00,456.09 407.35,456.42 407.70,457.17 408.05,457.06 408.40,457.54 408.75,457.76 409.10,458.25 409.45,458.53 409.80,458.94 410.15,459.23 410.50,459.82 410.85,459.93 411.20,460.36 411.55,460.60 411.90,461.06 412.25,461.24 412.60,462.23 412.95,461.64 413.30,462.27 413.65,461.92 414.00,463.23 414.35,461.70 414.70,464.03 415.05,463.11 415.40,463.53 415.75,463.42 416.10,464.51 416.45,463.73 416.80,464.95 417.15,463.20 417.50,465.65 417.85,464.37 418.20,465.17 418.55,465.10 418.90,465.74 419.25,464.20 419.60,466.33 419.95,465.26 420.30,466.12 420.65,465.51 421.00,466.18 421.35,465.90 421.70,466.42 422.05,466.06 422.40,466.64 422.75,465.20 423.10,466.47 423.45,465.99 423.80,466.85 424.15,466.49 424.50,467.09 424.85,466.63 425.20,467.01 425.55,465.78 425.90,467.58 426.25,466.60 426.60,467.05 426.95,466.48 427.30,466.88 427.65,466.64 428.00,467.40 428.35,466.64 428.70,466.94 429.05,466.26 429.40,467.37 429.75,466.66 430.10,467.27 430.45,466.64 430.80,467.60 431.15,466.45 431.50,467.04 431.85,466.57 432.20,467.06 432.55,466.76 432.90,467.29 433.25,466.33 433.60,467.64 433.95,466.65 434.30,467.52 434.65,465.74 435.00,466.89 435.35,466.13 435.70,466.70 436.05,466.50 436.40,467.34 436.75,466.17 437.10,466.65 437.45,466.22 437.80,466.44 438.15,465.64 438.50,466.36 438.85,464.94 439.20,466.35 439.55,465.80 439.90,467.11 440.25,465.97 440.60,466.59 440.95,465.83 441.30,466.15 441.65,465.07 442.00,466.18 442.35,465.64 442.70,465.78 443.05,465.45 443.40,465.50 443.75,465.08 444.10,465.34 444.45,464.62 444.80,465.19 445.15,464.79 445.50,465.92 445.85,464.57 446.20,464.91 446.55,464.28 446.90,464.40 447.25,463.97 447.60,464.31 447.95,463.91 448.30,464.82 448.65,463.01 449.00,463.81 449.35,463.32 449.70,464.16 450.05,462.30 450.40,464.50 450.75,462.84 451.10,463.54 451.45,462.36 451.80,463.77 452.15,462.48 452.50,463.02 452.85,461.89 453.20,463.59 453.55,462.11 453.90,462.40 454.25,461.16 454.60,462.17 454.95,461.36 455.30,461.78 455.65,461.41 456.00,461.54 456.35,460.45 456.70,461.32 457.05,460.93 457.40,461.21 457.75,460.77 458.10,460.88 458.45,460.48 458.80,460.75 459.15,460.39 459.50,460.50 459.85,459.97 460.20,460.34 460.55,459.31 460.90,459.99 461.25,458.69 461.60,460.01 461.95,458.89 462.30,459.85 462.65,459.21 463.00,460.61 463.35,458.43 463.70,459.94 464.05,457.78 464.40,459.27 464.75,458.80 465.10,458.91 465.45,458.16 465.80,459.16 466.15,458.46 466.50,458.84 466.85,457.87 467.20,458.36 467.55,456.91 467.90,459.16 468.25,457.11 468.60,458.03 468.95,457.61 469.30,457.91 469.65,457.59 470.00,457.79 470.35,457.42 470.70,457.89 471.05,457.11 471.40,457.77 471.75,456.99 472.10,457.34 472.45,456.26 472.80,457.10 473.15,455.52 473.50,456.93 473.85,456.16 474.20,456.62 474.55,456.37 474.90,457.12 475.25,455.31 475.60,457.37 475.95,455.67 476.30,456.89 476.65,454.81 477.00,456.14 477.35,455.67 477.70,455.90 478.05,455.48 478.40,456.29 478.75,455.14 479.10,455.54 479.45,454.66 479.80,455.92 480.15,454.07 480.50,455.88 480.85,454.58 481.20,456.07 481.55,454.32 481.90,455.90 482.25,454.45 482.60,454.52 482.95,454.15 483.30,454.51 483.65,453.68 484.00,454.84 484.35,453.81 484.70,454.86 485.05,453.75 485.40,453.83 485.75,453.07 486.10,454.05 486.45,452.21 486.80,453.51 487.15,452.03 487.50,453.30 487.85,452.58 488.20,454.35 488.55,452.93" fill="none" stroke="#000" stroke-width="1.3" stroke-linejoin="round"/>
<polyline points="389.50,447.40 389.85,446.98 390.20,447.11 390.55,446.95 390.90,447.13 391.25,446.98 391.60,447.02 391.95,446.60 392.30,447.07 392.65,446.95 393.00,446.97 393.35,446.74 393.70,446.95 394.05,446.30 394.40,446.89 394.75,446.34 395.10,446.28 395.45,445.89 395.80,446.18 396.15,445.88 396.50,446.08 396.85,446.13 397.20,446.61 397.55,446.69 397.90,447.21 398.25,447.49 398.60,448.01 398.95,448.23 399.30,448.89 399.65,449.06 400.00,449.62 400.35,449.70 400.70,450.65 401.05,450.84 401.40,451.45 401.75,451.84 402.10,452.44 402.45,452.48 402.80,453.41 403.15,453.62 403.50,454.41 403.85,454.87 404.20,455.47 404.55,455.83 404.90,456.49 405.25,456.55 405.60,457.45 405.95,457.63 406.30,458.47 406.65,458.82 407.00,459.37 407.35,459.60 407.70,460.10 408.05,460.34 408.40,460.75 408.75,461.06 409.10,461.50 409.45,461.77 409.80,462.43 410.15,462.45 410.50,463.26 410.85,463.20 411.20,463.74 411.55,463.91 411.90,464.32 412.25,463.65 412.60,466.56 412.95,464.33 413.30,465.67 413.65,465.47 414.00,465.98 414.35,465.53 414.70,466.53 415.05,464.77 415.40,467.37 415.75,466.71 416.10,467.23 416.45,466.70 416.80,467.64 417.15,467.22 417.50,468.28 417.85,467.48 418.20,468.68 418.55,468.30 418.90,469.37 419.25,468.40 419.60,469.11 419.95,468.01 420.30,470.02 420.65,466.65 421.00,469.48 421.35,468.15 421.70,471.71 422.05,469.16 422.40,470.81 422.75,469.43 423.10,470.80 423.45,469.47 423.80,469.99 424.15,469.75 424.50,472.32 424.85,469.79 425.20,472.45 425.55,469.89 425.90,470.94 426.25,469.59 426.60,471.32 426.95,470.00 427.30,470.49 427.65,469.89 428.00,470.85 428.35,469.59 428.70,470.53 429.05,469.41 429.40,470.48 429.75,469.63 430.10,470.49 430.45,468.96 430.80,471.00 431.15,469.91 431.50,470.58 431.85,468.05 432.20,470.61 432.55,469.90 432.90,470.61 433.25,470.21 433.60,471.02 433.95,469.15 434.30,470.80 434.65,469.78 435.00,472.66 435.35,469.96 435.70,470.33 436.05,469.74 436.40,470.54 436.75,468.91 437.10,470.19 437.45,469.85 437.80,470.54 438.15,469.47 438.50,472.29 438.85,469.62 439.20,470.36 439.55,469.42 439.90,470.86 440.25,469.46 440.60,470.85 440.95,468.07 441.30,469.74 441.65,469.40 442.00,470.03 442.35,468.47 442.70,469.60 443.05,469.07 443.40,471.49 443.75,468.29 444.10,470.06 444.45,468.29 444.80,469.54 445.15,466.13 445.50,468.93 445.85,465.90 446.20,468.72 446.55,467.56 446.90,469.21 447.25,467.01 447.60,467.87 447.95,467.42 448.30,468.86 448.65,467.20 449.00,467.50 449.35,466.64 449.70,467.42 450.05,466.59 450.40,467.31 450.75,466.48 451.10,468.44 451.45,466.30 451.80,466.83 452.15,465.85 452.50,466.92 452.85,463.79 453.20,466.30 453.55,464.96 453.90,465.92 454.25,465.37 454.60,467.69 454.95,462.89 455.30,466.17 455.65,464.91 456.00,465.10 456.35,464.50 456.70,465.02 457.05,464.23 457.40,464.68 457.75,462.56 458.10,464.40 458.45,463.99 458.80,465.64 459.15,463.40 459.50,465.37 459.85,463.39 460.20,463.95 460.55,463.01 460.90,463.48 461.25,460.81 461.60,465.50 461.95,462.44 462.30,463.87 462.65,460.88 463.00,463.12 463.35,461.97 463.70,462.79 464.05,460.91 464.40,462.95 464.75,461.91 465.10,462.24 465.45,461.07 465.80,462.76 466.15,460.64 466.50,462.14 466.85,461.37 467.20,462.01 467.55,460.99 467.90,461.42 468.25,460.30 468.60,462.18 468.95,460.75 469.30,462.51 469.65,460.55 470.00,460.74 470.35,460.13 470.70,461.58 471.05,460.13 471.40,460.82 471.75,459.63 472.10,460.62 472.45,459.68 472.80,459.91 473.15,457.98 473.50,459.84 473.85,459.21 474.20,460.21 474.55,458.98 474.90,459.68 475.25,458.19 475.60,459.26 475.95,457.69 476.30,459.00 476.65,458.46 477.00,458.82 477.35,457.91 477.70,459.05 478.05,457.55 478.40,458.85 478.75,457.29 479.10,458.93 479.45,457.53 479.80,457.94 480.15,455.68 480.50,457.84 480.85,455.61 481.20,457.46 481.55,455.77 481.90,459.45 482.25,456.16 482.60,457.83 482.95,454.34 483.30,456.79 483.65,456.35 484.00,456.58 484.35,456.17 484.70,457.22 485.05,454.48 485.40,456.16 485.75,455.76 486.10,456.22 486.45,454.75 486.80,455.98 487.15,455.08 487.50,456.06 487.85,454.97 488.20,455.35 488.55,454.99" fill="none" stroke="#000" stroke-width="1.3" stroke-linejoin="round"/>
<line x1="404.00" y1="454.39" x2="404.00" y2="457.59" stroke="#000" stroke-width="1.0"/>
<line x1="418.00" y1="468.01" x2="418.00" y2="471.21" stroke="#000" stroke-width="1.0"/>
<line x1="425.00" y1="469.42" x2="425.00" y2="472.62" stroke="#000" stroke-width="1.0"/>
<line x1="431.00" y1="470.26" x2="431.00" y2="473.46" stroke="#000" stroke-width="1.0"/>
<line x1="437.00" y1="469.40" x2="437.00" y2="472.60" stroke="#000" stroke-width="1.0"/>
<line x1="447.00" y1="466.83" x2="447.00" y2="470.03" stroke="#000" stroke-width="1.0"/>
<line x1="458.00" y1="464.00" x2="458.00" y2="467.20" stroke="#000" stroke-width="1.0"/>
<line x1="470.00" y1="460.59" x2="470.00" y2="463.79" stroke="#000" stroke-width="1.0"/>
<text x="460.88" y="447.20" font-size="12.5" textLength="35.93" lengthAdjust="spacingAndGlyphs" fill="#000" stroke-width="0.45" xml:space="preserve">LIMK1</text>
<text x="496.88" y="442.60" font-size="9" textLength="13.25" lengthAdjust="spacingAndGlyphs" fill="#000" stroke-width="0.45" xml:space="preserve">-/-</text>
<text x="472.65" y="477.80" font-size="12.5" textLength="17.51" lengthAdjust="spacingAndGlyphs" fill="#000" stroke-width="0.45" xml:space="preserve">WT</text>
<text x="435.01" y="535.20" font-size="10.5" textLength="32.16" lengthAdjust="spacingAndGlyphs" fill="#000" stroke-width="0.45" xml:space="preserve">2  min</text>
<line x1="439.20" y1="538.00" x2="439.20" y2="547.30" stroke="#000" stroke-width="1.6"/>
<line x1="461.90" y1="538.00" x2="461.90" y2="547.30" stroke="#000" stroke-width="1.6"/>
<line x1="439.20" y1="542.90" x2="461.90" y2="542.90" stroke="#000" stroke-width="1.6"/>
</svg>
</body></html>
